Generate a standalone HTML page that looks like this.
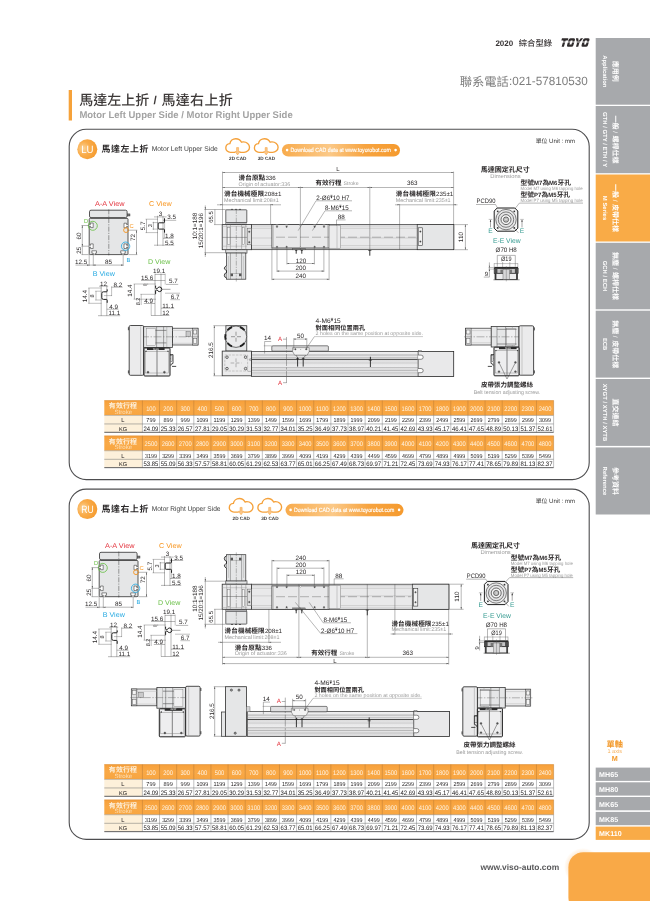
<!DOCTYPE html><html><head><meta charset="utf-8"><title>MK110</title><style>html,body{margin:0;padding:0;background:#fff;overflow:hidden}svg{display:block;font-family:"Liberation Sans","Noto Sans CJK TC",sans-serif;will-change:transform}text{white-space:pre;text-rendering:geometricPrecision}</style></head><body><svg width="650" height="901" viewBox="0 0 650 901"><rect width="650" height="901" fill="#fff"/><text x="495.4" y="45.8" font-size="8" fill="#3a3637" font-weight="bold">2020</text>
<text x="518.8" y="46" font-size="8.3" fill="#3a3637" font-weight="500">綜合型錄</text>
<g transform="translate(562.0 38.3) skewX(-16) scale(1.03 1)" fill="#2f2b2c"><path d="M0 0h6.2v2.3h-2v6.1h-2.2v-6.1h-2z"/><path fill-rule="evenodd" d="M8.3 0h3.2a1.5 1.5 0 0 1 1.5 1.5v5.4a1.5 1.5 0 0 1-1.5 1.5h-3.2a1.5 1.5 0 0 1-1.5-1.5v-5.4a1.5 1.5 0 0 1 1.5-1.5zM9 2.1v4.2h1.9v-4.2z"/><path d="M13.5 0h2.3l1.2 3 1.2-3h2.3l-2.4 5v3.4h-2.2v-3.4z"/><path fill-rule="evenodd" d="M22.4 0h3.2a1.5 1.5 0 0 1 1.5 1.5v5.4a1.5 1.5 0 0 1-1.5 1.5h-3.2a1.5 1.5 0 0 1-1.5-1.5v-5.4a1.5 1.5 0 0 1 1.5-1.5zM23.1 2.1v4.2h1.9v-4.2z"/></g>
<line x1="559" y1="42" x2="592" y2="42" stroke="#fff" stroke-width="0.85"/>
<text x="459.7" y="85.6" font-size="12.3" fill="#7d7d7d">聯系電話</text>
<text x="509.1" y="85.4" font-size="12" fill="#7d7d7d" textLength="78.6" lengthAdjust="spacingAndGlyphs">:021-57810530</text>
<rect x="68.7" y="90" width="3.3" height="30.5" fill="#f6a23a"/>
<text x="79.3" y="104.8" font-size="14" fill="#3e3a39" font-weight="500">馬達左上折</text>
<text x="155.1" y="104" font-size="11.5" fill="#3e3a39" font-weight="bold" text-anchor="middle">/</text>
<text x="161.5" y="104.8" font-size="14" fill="#3e3a39" font-weight="500" letter-spacing="0.3">馬達右上折</text>
<text x="79.4" y="117.7" font-size="9.7" fill="#a3a3a3" font-weight="bold" textLength="213.3" lengthAdjust="spacingAndGlyphs">Motor Left Upper Side / Motor Right Upper Side</text>
<rect x="595.7" y="38" width="60" height="66.7" fill="#a7a9ac"/>
<text x="612.9" y="60.85" font-size="7" fill="#fff" font-weight="bold" transform="rotate(90 612.9 60.85)">應用例</text>
<text x="602.9" y="71.35" font-size="5.9" fill="#fff" font-weight="bold" text-anchor="middle" letter-spacing="0.02" transform="rotate(90 602.9 71.35)">Application</text>
<rect x="595.7" y="106" width="60" height="67.2" fill="#a7a9ac"/>
<text x="612.9" y="115.59" font-size="7" fill="#fff" font-weight="bold" transform="rotate(90 612.9 115.59)">一般</text>
<text x="613.2" y="131.27" font-size="6.3" fill="#fff" transform="rotate(90 613.2 131.27)">/</text>
<text x="612.9" y="135.61" font-size="7" fill="#fff" font-weight="bold" transform="rotate(90 612.9 135.61)">螺桿仕樣</text>
<text x="602.9" y="139.6" font-size="5.9" fill="#fff" font-weight="bold" text-anchor="middle" letter-spacing="0.02" transform="rotate(90 602.9 139.6)">GTH / GTY / ETH / Y</text>
<rect x="595.7" y="174.5" width="60" height="67" fill="#f9ab47"/>
<text x="612.9" y="183.99" font-size="7" fill="#fff" font-weight="bold" transform="rotate(90 612.9 183.99)">一般</text>
<text x="613.2" y="199.67" font-size="6.3" fill="#fff" transform="rotate(90 613.2 199.67)">/</text>
<text x="612.9" y="204.01" font-size="7" fill="#fff" font-weight="bold" transform="rotate(90 612.9 204.01)">皮帶仕樣</text>
<text x="602.9" y="208" font-size="5.9" fill="#fff" font-weight="bold" text-anchor="middle" letter-spacing="0.02" transform="rotate(90 602.9 208)">M Series</text>
<rect x="595.7" y="242.8" width="60" height="66.5" fill="#a7a9ac"/>
<text x="612.9" y="252.04" font-size="7" fill="#fff" font-weight="bold" transform="rotate(90 612.9 252.04)">無塵</text>
<text x="613.2" y="267.72" font-size="6.3" fill="#fff" transform="rotate(90 613.2 267.72)">/</text>
<text x="612.9" y="272.06" font-size="7" fill="#fff" font-weight="bold" transform="rotate(90 612.9 272.06)">螺桿仕樣</text>
<text x="602.9" y="276.05" font-size="5.9" fill="#fff" font-weight="bold" text-anchor="middle" letter-spacing="0.02" transform="rotate(90 602.9 276.05)">GCH / ECH</text>
<rect x="595.7" y="310.7" width="60" height="66.9" fill="#a7a9ac"/>
<text x="612.9" y="320.14" font-size="7" fill="#fff" font-weight="bold" transform="rotate(90 612.9 320.14)">無塵</text>
<text x="613.2" y="335.82" font-size="6.3" fill="#fff" transform="rotate(90 613.2 335.82)">/</text>
<text x="612.9" y="340.16" font-size="7" fill="#fff" font-weight="bold" transform="rotate(90 612.9 340.16)">皮帶仕樣</text>
<text x="602.9" y="344.15" font-size="5.9" fill="#fff" font-weight="bold" text-anchor="middle" letter-spacing="0.02" transform="rotate(90 602.9 344.15)">ECB</text>
<rect x="595.7" y="379" width="60" height="66.9" fill="#a7a9ac"/>
<text x="612.9" y="398.45" font-size="7" fill="#fff" font-weight="bold" transform="rotate(90 612.9 398.45)">直交連結</text>
<text x="602.9" y="412.45" font-size="5.9" fill="#fff" font-weight="bold" text-anchor="middle" letter-spacing="0.02" transform="rotate(90 602.9 412.45)">XYGT / XYTH / XYTB</text>
<rect x="595.7" y="447.4" width="60" height="67.1" fill="#a7a9ac"/>
<text x="612.9" y="466.95" font-size="7" fill="#fff" font-weight="bold" transform="rotate(90 612.9 466.95)">參考資料</text>
<text x="602.9" y="480.95" font-size="5.9" fill="#fff" font-weight="bold" text-anchor="middle" letter-spacing="0.02" transform="rotate(90 602.9 480.95)">Reference</text>
<text x="606.5" y="747.3" font-size="8.2" fill="#f39a2c" font-weight="bold">單軸</text>
<text x="614.7" y="753.4" font-size="5.6" fill="#f5b15e" text-anchor="middle">1 axis</text>
<text x="614.7" y="761.4" font-size="7.2" fill="#f39a2c" font-weight="bold" text-anchor="middle">M</text>
<rect x="595.7" y="767.6" width="60" height="13.3" fill="#a7a9ac"/>
<text x="599" y="777.2" font-size="7.1" fill="#fff" font-weight="bold" letter-spacing="0.05">MH65</text>
<rect x="595.7" y="782.3" width="60" height="13.3" fill="#a7a9ac"/>
<text x="599" y="791.9" font-size="7.1" fill="#fff" font-weight="bold" letter-spacing="0.05">MH80</text>
<rect x="595.7" y="797" width="60" height="13.3" fill="#a7a9ac"/>
<text x="599" y="806.6" font-size="7.1" fill="#fff" font-weight="bold" letter-spacing="0.05">MK65</text>
<rect x="595.7" y="811.9" width="60" height="13.3" fill="#a7a9ac"/>
<text x="599" y="821.5" font-size="7.1" fill="#fff" font-weight="bold" letter-spacing="0.05">MK85</text>
<rect x="595.7" y="826.6" width="60" height="13.3" fill="#f9ab47"/>
<text x="599" y="836.2" font-size="7.1" fill="#fff" font-weight="bold" letter-spacing="0.05">MK110</text>
<defs><radialGradient id="glow" cx="0.5" cy="0.5" r="0.5"><stop offset="0.55" stop-color="#fbc07a" stop-opacity="0.55"/><stop offset="1" stop-color="#fbc07a" stop-opacity="0"/></radialGradient></defs>
<circle cx="583" cy="867" r="19" fill="url(#glow)"/>
<rect x="568.4" y="852.2" width="100" height="60" fill="#f9a947" rx="15"/>
<text x="480.4" y="870" font-size="8.4" fill="#58585a" font-weight="bold" textLength="78.8" lengthAdjust="spacingAndGlyphs">www.viso-auto.com</text>
<rect x="69.2" y="129.3" width="520" height="350.3" fill="#fff" stroke="#4d4d4f" stroke-width="1.1" rx="17"/>
<defs><radialGradient id="bgLU" cx="0.3" cy="0.45" r="0.75"><stop offset="0" stop-color="#fcd49a"/><stop offset="0.45" stop-color="#f9ac4a"/><stop offset="1" stop-color="#f5992b"/></radialGradient></defs>
<circle cx="87.3" cy="149.3" r="10" fill="url(#bgLU)"/>
<text x="87.4" y="153.2" font-size="10.6" fill="#fff" text-anchor="middle" textLength="12.4" lengthAdjust="spacingAndGlyphs">LU</text>
<text x="101.5" y="152" font-size="8.9" fill="#2b2829" font-weight="bold" letter-spacing="0.62">馬達左上折</text>
<text x="151.7" y="150.7" font-size="6.9" fill="#3a3a3a" textLength="66" lengthAdjust="spacingAndGlyphs">Motor Left Upper Side</text>
<g transform="translate(225 138)" fill="none" stroke="#f5a13a" stroke-width="1.35" stroke-linecap="round" stroke-linejoin="round">
<path d="M9.8 14.3H5.4C2.9 14.3 0.8 12.4 0.8 9.9 0.8 7.6 2.6 5.8 4.9 5.6 5.3 2.8 7.8 0.7 10.8 0.7 13.3 0.7 15.5 2.1 16.5 4.2 17.1 4 17.8 3.9 18.4 3.9 21.7 3.9 24.5 6.2 24.5 9.2 24.5 12.1 22 14.3 19 14.3H15.4"/>
</g>
<path transform="translate(225 138)" d="M11.6 9.6h2v3.9h1.6l-2.6 3.4-2.6-3.4h1.6z" fill="#fbc78a" stroke="#f5a13a" stroke-width="0.55" stroke-linejoin="round"/>
<g transform="translate(253.6 138)" fill="none" stroke="#f5a13a" stroke-width="1.35" stroke-linecap="round" stroke-linejoin="round">
<path d="M9.8 14.3H5.4C2.9 14.3 0.8 12.4 0.8 9.9 0.8 7.6 2.6 5.8 4.9 5.6 5.3 2.8 7.8 0.7 10.8 0.7 13.3 0.7 15.5 2.1 16.5 4.2 17.1 4 17.8 3.9 18.4 3.9 21.7 3.9 24.5 6.2 24.5 9.2 24.5 12.1 22 14.3 19 14.3H15.4"/>
</g>
<path transform="translate(253.6 138)" d="M11.6 9.6h2v3.9h1.6l-2.6 3.4-2.6-3.4h1.6z" fill="#fbc78a" stroke="#f5a13a" stroke-width="0.55" stroke-linejoin="round"/>
<text x="237.8" y="160.3" font-size="4.8" fill="#3a3a3a" font-weight="bold" text-anchor="middle" textLength="17.4" lengthAdjust="spacingAndGlyphs">2D CAD</text>
<text x="266.4" y="160.3" font-size="4.8" fill="#3a3a3a" font-weight="bold" text-anchor="middle" textLength="17.4" lengthAdjust="spacingAndGlyphs">3D CAD</text>
<defs><linearGradient id="plLU" x1="0" x2="1" y1="0" y2="0"><stop offset="0" stop-color="#f8ab4c"/><stop offset="0.4" stop-color="#fbc988"/><stop offset="0.7" stop-color="#f7a440"/><stop offset="1" stop-color="#f59a2e"/></linearGradient></defs>
<rect x="282" y="144" width="118" height="12.5" fill="url(#plLU)" rx="6.25"/>
<circle cx="287.1" cy="150.1" r="1.3" fill="#fff"/>
<circle cx="395.6" cy="150.1" r="1.3" fill="#fff"/>
<text x="290.5" y="152.4" font-size="6.1" fill="#fff" textLength="100.4" lengthAdjust="spacingAndGlyphs" stroke="#fff" stroke-width="0.15">Download CAD data at www.toyorobot.com</text>
<text x="535.7" y="142.8" font-size="5.9" fill="#3a3a3a">單位</text>
<text x="549.1" y="142.8" font-size="6.1" fill="#3a3a3a">Unit : mm</text>
<rect x="69.2" y="489.1" width="520" height="350.3" fill="#fff" stroke="#4d4d4f" stroke-width="1.1" rx="17"/>
<defs><radialGradient id="bgRU" cx="0.3" cy="0.45" r="0.75"><stop offset="0" stop-color="#fcd49a"/><stop offset="0.45" stop-color="#f9ac4a"/><stop offset="1" stop-color="#f5992b"/></radialGradient></defs>
<circle cx="87.3" cy="509.1" r="10" fill="url(#bgRU)"/>
<text x="87.4" y="513" font-size="10.6" fill="#fff" text-anchor="middle" textLength="12.4" lengthAdjust="spacingAndGlyphs">RU</text>
<text x="101.5" y="511.8" font-size="8.9" fill="#2b2829" font-weight="bold" letter-spacing="0.62">馬達右上折</text>
<text x="151.7" y="510.5" font-size="6.9" fill="#3a3a3a" textLength="68.8" lengthAdjust="spacingAndGlyphs">Motor Right Upper Side</text>
<g transform="translate(228.5 497.8)" fill="none" stroke="#f5a13a" stroke-width="1.35" stroke-linecap="round" stroke-linejoin="round">
<path d="M9.8 14.3H5.4C2.9 14.3 0.8 12.4 0.8 9.9 0.8 7.6 2.6 5.8 4.9 5.6 5.3 2.8 7.8 0.7 10.8 0.7 13.3 0.7 15.5 2.1 16.5 4.2 17.1 4 17.8 3.9 18.4 3.9 21.7 3.9 24.5 6.2 24.5 9.2 24.5 12.1 22 14.3 19 14.3H15.4"/>
</g>
<path transform="translate(228.5 497.8)" d="M11.6 9.6h2v3.9h1.6l-2.6 3.4-2.6-3.4h1.6z" fill="#fbc78a" stroke="#f5a13a" stroke-width="0.55" stroke-linejoin="round"/>
<g transform="translate(257.1 497.8)" fill="none" stroke="#f5a13a" stroke-width="1.35" stroke-linecap="round" stroke-linejoin="round">
<path d="M9.8 14.3H5.4C2.9 14.3 0.8 12.4 0.8 9.9 0.8 7.6 2.6 5.8 4.9 5.6 5.3 2.8 7.8 0.7 10.8 0.7 13.3 0.7 15.5 2.1 16.5 4.2 17.1 4 17.8 3.9 18.4 3.9 21.7 3.9 24.5 6.2 24.5 9.2 24.5 12.1 22 14.3 19 14.3H15.4"/>
</g>
<path transform="translate(257.1 497.8)" d="M11.6 9.6h2v3.9h1.6l-2.6 3.4-2.6-3.4h1.6z" fill="#fbc78a" stroke="#f5a13a" stroke-width="0.55" stroke-linejoin="round"/>
<text x="241.3" y="520.1" font-size="4.8" fill="#3a3a3a" font-weight="bold" text-anchor="middle" textLength="17.4" lengthAdjust="spacingAndGlyphs">2D CAD</text>
<text x="269.9" y="520.1" font-size="4.8" fill="#3a3a3a" font-weight="bold" text-anchor="middle" textLength="17.4" lengthAdjust="spacingAndGlyphs">3D CAD</text>
<defs><linearGradient id="plRU" x1="0" x2="1" y1="0" y2="0"><stop offset="0" stop-color="#f8ab4c"/><stop offset="0.4" stop-color="#fbc988"/><stop offset="0.7" stop-color="#f7a440"/><stop offset="1" stop-color="#f59a2e"/></linearGradient></defs>
<rect x="285.5" y="503.8" width="118" height="12.5" fill="url(#plRU)" rx="6.25"/>
<circle cx="290.6" cy="509.9" r="1.3" fill="#fff"/>
<circle cx="399.1" cy="509.9" r="1.3" fill="#fff"/>
<text x="294" y="512.2" font-size="6.1" fill="#fff" textLength="100.4" lengthAdjust="spacingAndGlyphs" stroke="#fff" stroke-width="0.15">Download CAD data at www.toyorobot.com</text>
<text x="535.7" y="502.6" font-size="5.9" fill="#3a3a3a">單位</text>
<text x="549.1" y="502.6" font-size="6.1" fill="#3a3a3a">Unit : mm</text>
<defs><linearGradient id="tg400" x1="0" x2="0" y1="0" y2="1"><stop offset="0" stop-color="#f7a03a"/><stop offset="0.5" stop-color="#f9a947"/><stop offset="1" stop-color="#f8a540"/></linearGradient></defs>
<rect x="104.3" y="400.4" width="449.3" height="15" fill="url(#tg400)"/>
<rect x="104.3" y="415.4" width="38.1" height="16.9" fill="#fdf0da"/>
<text x="108.87" y="408.2" font-size="7" fill="#fdf0dc" font-weight="bold" letter-spacing="0.05">有效行程</text>
<text x="123.35" y="413.8" font-size="6" fill="#fde0b8" text-anchor="middle" textLength="17.6" lengthAdjust="spacingAndGlyphs">Stroke</text>
<text x="122.95" y="422.2" font-size="5.8" fill="#1f1c1d" text-anchor="middle">L</text>
<text x="123.15" y="430.65" font-size="5.6" fill="#1f1c1d" text-anchor="middle">KG</text>
<text x="150.97" y="410.9" font-size="6.7" fill="#fff3e2" text-anchor="middle" textLength="9.6" lengthAdjust="spacingAndGlyphs">100</text>
<text x="150.97" y="422.2" font-size="5.9" fill="#1f1c1d" text-anchor="middle" textLength="9.3" lengthAdjust="spacingAndGlyphs">799</text>
<text x="150.97" y="430.8" font-size="6.4" fill="#1f1c1d" text-anchor="middle" textLength="14.9" lengthAdjust="spacingAndGlyphs">24.09</text>
<text x="168.1" y="410.9" font-size="6.7" fill="#fff3e2" text-anchor="middle" textLength="9.6" lengthAdjust="spacingAndGlyphs">200</text>
<text x="168.1" y="422.2" font-size="5.9" fill="#1f1c1d" text-anchor="middle" textLength="9.3" lengthAdjust="spacingAndGlyphs">899</text>
<text x="168.1" y="430.8" font-size="6.4" fill="#1f1c1d" text-anchor="middle" textLength="14.9" lengthAdjust="spacingAndGlyphs">25.33</text>
<text x="185.23" y="410.9" font-size="6.7" fill="#fff3e2" text-anchor="middle" textLength="9.6" lengthAdjust="spacingAndGlyphs">300</text>
<text x="185.23" y="422.2" font-size="5.9" fill="#1f1c1d" text-anchor="middle" textLength="9.3" lengthAdjust="spacingAndGlyphs">999</text>
<text x="185.23" y="430.8" font-size="6.4" fill="#1f1c1d" text-anchor="middle" textLength="14.9" lengthAdjust="spacingAndGlyphs">26.57</text>
<text x="202.37" y="410.9" font-size="6.7" fill="#fff3e2" text-anchor="middle" textLength="9.6" lengthAdjust="spacingAndGlyphs">400</text>
<text x="202.37" y="422.2" font-size="5.9" fill="#1f1c1d" text-anchor="middle" textLength="11.9" lengthAdjust="spacingAndGlyphs">1099</text>
<text x="202.37" y="430.8" font-size="6.4" fill="#1f1c1d" text-anchor="middle" textLength="14.9" lengthAdjust="spacingAndGlyphs">27.81</text>
<text x="219.5" y="410.9" font-size="6.7" fill="#fff3e2" text-anchor="middle" textLength="9.6" lengthAdjust="spacingAndGlyphs">500</text>
<text x="219.5" y="422.2" font-size="5.9" fill="#1f1c1d" text-anchor="middle" textLength="11.9" lengthAdjust="spacingAndGlyphs">1199</text>
<text x="219.5" y="430.8" font-size="6.4" fill="#1f1c1d" text-anchor="middle" textLength="14.9" lengthAdjust="spacingAndGlyphs">29.05</text>
<text x="236.63" y="410.9" font-size="6.7" fill="#fff3e2" text-anchor="middle" textLength="9.6" lengthAdjust="spacingAndGlyphs">600</text>
<text x="236.63" y="422.2" font-size="5.9" fill="#1f1c1d" text-anchor="middle" textLength="11.9" lengthAdjust="spacingAndGlyphs">1299</text>
<text x="236.63" y="430.8" font-size="6.4" fill="#1f1c1d" text-anchor="middle" textLength="14.9" lengthAdjust="spacingAndGlyphs">30.29</text>
<text x="253.77" y="410.9" font-size="6.7" fill="#fff3e2" text-anchor="middle" textLength="9.6" lengthAdjust="spacingAndGlyphs">700</text>
<text x="253.77" y="422.2" font-size="5.9" fill="#1f1c1d" text-anchor="middle" textLength="11.9" lengthAdjust="spacingAndGlyphs">1399</text>
<text x="253.77" y="430.8" font-size="6.4" fill="#1f1c1d" text-anchor="middle" textLength="14.9" lengthAdjust="spacingAndGlyphs">31.53</text>
<text x="270.9" y="410.9" font-size="6.7" fill="#fff3e2" text-anchor="middle" textLength="9.6" lengthAdjust="spacingAndGlyphs">800</text>
<text x="270.9" y="422.2" font-size="5.9" fill="#1f1c1d" text-anchor="middle" textLength="11.9" lengthAdjust="spacingAndGlyphs">1499</text>
<text x="270.9" y="430.8" font-size="6.4" fill="#1f1c1d" text-anchor="middle" textLength="14.9" lengthAdjust="spacingAndGlyphs">32.77</text>
<text x="288.03" y="410.9" font-size="6.7" fill="#fff3e2" text-anchor="middle" textLength="9.6" lengthAdjust="spacingAndGlyphs">900</text>
<text x="288.03" y="422.2" font-size="5.9" fill="#1f1c1d" text-anchor="middle" textLength="11.9" lengthAdjust="spacingAndGlyphs">1599</text>
<text x="288.03" y="430.8" font-size="6.4" fill="#1f1c1d" text-anchor="middle" textLength="14.9" lengthAdjust="spacingAndGlyphs">34.01</text>
<text x="305.17" y="410.9" font-size="6.7" fill="#fff3e2" text-anchor="middle" textLength="12.8" lengthAdjust="spacingAndGlyphs">1000</text>
<text x="305.17" y="422.2" font-size="5.9" fill="#1f1c1d" text-anchor="middle" textLength="11.9" lengthAdjust="spacingAndGlyphs">1699</text>
<text x="305.17" y="430.8" font-size="6.4" fill="#1f1c1d" text-anchor="middle" textLength="14.9" lengthAdjust="spacingAndGlyphs">35.25</text>
<text x="322.3" y="410.9" font-size="6.7" fill="#fff3e2" text-anchor="middle" textLength="12.8" lengthAdjust="spacingAndGlyphs">1100</text>
<text x="322.3" y="422.2" font-size="5.9" fill="#1f1c1d" text-anchor="middle" textLength="11.9" lengthAdjust="spacingAndGlyphs">1799</text>
<text x="322.3" y="430.8" font-size="6.4" fill="#1f1c1d" text-anchor="middle" textLength="14.9" lengthAdjust="spacingAndGlyphs">36.49</text>
<text x="339.43" y="410.9" font-size="6.7" fill="#fff3e2" text-anchor="middle" textLength="12.8" lengthAdjust="spacingAndGlyphs">1200</text>
<text x="339.43" y="422.2" font-size="5.9" fill="#1f1c1d" text-anchor="middle" textLength="11.9" lengthAdjust="spacingAndGlyphs">1899</text>
<text x="339.43" y="430.8" font-size="6.4" fill="#1f1c1d" text-anchor="middle" textLength="14.9" lengthAdjust="spacingAndGlyphs">37.73</text>
<text x="356.57" y="410.9" font-size="6.7" fill="#fff3e2" text-anchor="middle" textLength="12.8" lengthAdjust="spacingAndGlyphs">1300</text>
<text x="356.57" y="422.2" font-size="5.9" fill="#1f1c1d" text-anchor="middle" textLength="11.9" lengthAdjust="spacingAndGlyphs">1999</text>
<text x="356.57" y="430.8" font-size="6.4" fill="#1f1c1d" text-anchor="middle" textLength="14.9" lengthAdjust="spacingAndGlyphs">38.97</text>
<text x="373.7" y="410.9" font-size="6.7" fill="#fff3e2" text-anchor="middle" textLength="12.8" lengthAdjust="spacingAndGlyphs">1400</text>
<text x="373.7" y="422.2" font-size="5.9" fill="#1f1c1d" text-anchor="middle" textLength="11.9" lengthAdjust="spacingAndGlyphs">2099</text>
<text x="373.7" y="430.8" font-size="6.4" fill="#1f1c1d" text-anchor="middle" textLength="14.9" lengthAdjust="spacingAndGlyphs">40.21</text>
<text x="390.83" y="410.9" font-size="6.7" fill="#fff3e2" text-anchor="middle" textLength="12.8" lengthAdjust="spacingAndGlyphs">1500</text>
<text x="390.83" y="422.2" font-size="5.9" fill="#1f1c1d" text-anchor="middle" textLength="11.9" lengthAdjust="spacingAndGlyphs">2199</text>
<text x="390.83" y="430.8" font-size="6.4" fill="#1f1c1d" text-anchor="middle" textLength="14.9" lengthAdjust="spacingAndGlyphs">41.45</text>
<text x="407.97" y="410.9" font-size="6.7" fill="#fff3e2" text-anchor="middle" textLength="12.8" lengthAdjust="spacingAndGlyphs">1600</text>
<text x="407.97" y="422.2" font-size="5.9" fill="#1f1c1d" text-anchor="middle" textLength="11.9" lengthAdjust="spacingAndGlyphs">2299</text>
<text x="407.97" y="430.8" font-size="6.4" fill="#1f1c1d" text-anchor="middle" textLength="14.9" lengthAdjust="spacingAndGlyphs">42.69</text>
<text x="425.1" y="410.9" font-size="6.7" fill="#fff3e2" text-anchor="middle" textLength="12.8" lengthAdjust="spacingAndGlyphs">1700</text>
<text x="425.1" y="422.2" font-size="5.9" fill="#1f1c1d" text-anchor="middle" textLength="11.9" lengthAdjust="spacingAndGlyphs">2399</text>
<text x="425.1" y="430.8" font-size="6.4" fill="#1f1c1d" text-anchor="middle" textLength="14.9" lengthAdjust="spacingAndGlyphs">43.93</text>
<text x="442.23" y="410.9" font-size="6.7" fill="#fff3e2" text-anchor="middle" textLength="12.8" lengthAdjust="spacingAndGlyphs">1800</text>
<text x="442.23" y="422.2" font-size="5.9" fill="#1f1c1d" text-anchor="middle" textLength="11.9" lengthAdjust="spacingAndGlyphs">2499</text>
<text x="442.23" y="430.8" font-size="6.4" fill="#1f1c1d" text-anchor="middle" textLength="14.9" lengthAdjust="spacingAndGlyphs">45.17</text>
<text x="459.37" y="410.9" font-size="6.7" fill="#fff3e2" text-anchor="middle" textLength="12.8" lengthAdjust="spacingAndGlyphs">1900</text>
<text x="459.37" y="422.2" font-size="5.9" fill="#1f1c1d" text-anchor="middle" textLength="11.9" lengthAdjust="spacingAndGlyphs">2599</text>
<text x="459.37" y="430.8" font-size="6.4" fill="#1f1c1d" text-anchor="middle" textLength="14.9" lengthAdjust="spacingAndGlyphs">46.41</text>
<text x="476.5" y="410.9" font-size="6.7" fill="#fff3e2" text-anchor="middle" textLength="12.8" lengthAdjust="spacingAndGlyphs">2000</text>
<text x="476.5" y="422.2" font-size="5.9" fill="#1f1c1d" text-anchor="middle" textLength="11.9" lengthAdjust="spacingAndGlyphs">2699</text>
<text x="476.5" y="430.8" font-size="6.4" fill="#1f1c1d" text-anchor="middle" textLength="14.9" lengthAdjust="spacingAndGlyphs">47.65</text>
<text x="493.63" y="410.9" font-size="6.7" fill="#fff3e2" text-anchor="middle" textLength="12.8" lengthAdjust="spacingAndGlyphs">2100</text>
<text x="493.63" y="422.2" font-size="5.9" fill="#1f1c1d" text-anchor="middle" textLength="11.9" lengthAdjust="spacingAndGlyphs">2799</text>
<text x="493.63" y="430.8" font-size="6.4" fill="#1f1c1d" text-anchor="middle" textLength="14.9" lengthAdjust="spacingAndGlyphs">48.89</text>
<text x="510.77" y="410.9" font-size="6.7" fill="#fff3e2" text-anchor="middle" textLength="12.8" lengthAdjust="spacingAndGlyphs">2200</text>
<text x="510.77" y="422.2" font-size="5.9" fill="#1f1c1d" text-anchor="middle" textLength="11.9" lengthAdjust="spacingAndGlyphs">2899</text>
<text x="510.77" y="430.8" font-size="6.4" fill="#1f1c1d" text-anchor="middle" textLength="14.9" lengthAdjust="spacingAndGlyphs">50.13</text>
<text x="527.9" y="410.9" font-size="6.7" fill="#fff3e2" text-anchor="middle" textLength="12.8" lengthAdjust="spacingAndGlyphs">2300</text>
<text x="527.9" y="422.2" font-size="5.9" fill="#1f1c1d" text-anchor="middle" textLength="11.9" lengthAdjust="spacingAndGlyphs">2999</text>
<text x="527.9" y="430.8" font-size="6.4" fill="#1f1c1d" text-anchor="middle" textLength="14.9" lengthAdjust="spacingAndGlyphs">51.37</text>
<text x="545.03" y="410.9" font-size="6.7" fill="#fff3e2" text-anchor="middle" textLength="12.8" lengthAdjust="spacingAndGlyphs">2400</text>
<text x="545.03" y="422.2" font-size="5.9" fill="#1f1c1d" text-anchor="middle" textLength="11.9" lengthAdjust="spacingAndGlyphs">3099</text>
<text x="545.03" y="430.8" font-size="6.4" fill="#1f1c1d" text-anchor="middle" textLength="14.9" lengthAdjust="spacingAndGlyphs">52.61</text>
<line x1="142.4" y1="400.4" x2="142.4" y2="415.4" stroke="#b97a35" stroke-width="0.5"/>
<line x1="142.4" y1="415.4" x2="142.4" y2="432.3" stroke="#77787a" stroke-width="0.45"/>
<line x1="159.53" y1="400.4" x2="159.53" y2="415.4" stroke="#b97a35" stroke-width="0.5"/>
<line x1="159.53" y1="415.4" x2="159.53" y2="432.3" stroke="#77787a" stroke-width="0.45"/>
<line x1="176.67" y1="400.4" x2="176.67" y2="415.4" stroke="#b97a35" stroke-width="0.5"/>
<line x1="176.67" y1="415.4" x2="176.67" y2="432.3" stroke="#77787a" stroke-width="0.45"/>
<line x1="193.8" y1="400.4" x2="193.8" y2="415.4" stroke="#b97a35" stroke-width="0.5"/>
<line x1="193.8" y1="415.4" x2="193.8" y2="432.3" stroke="#77787a" stroke-width="0.45"/>
<line x1="210.93" y1="400.4" x2="210.93" y2="415.4" stroke="#b97a35" stroke-width="0.5"/>
<line x1="210.93" y1="415.4" x2="210.93" y2="432.3" stroke="#77787a" stroke-width="0.45"/>
<line x1="228.07" y1="400.4" x2="228.07" y2="415.4" stroke="#b97a35" stroke-width="0.5"/>
<line x1="228.07" y1="415.4" x2="228.07" y2="432.3" stroke="#77787a" stroke-width="0.45"/>
<line x1="245.2" y1="400.4" x2="245.2" y2="415.4" stroke="#b97a35" stroke-width="0.5"/>
<line x1="245.2" y1="415.4" x2="245.2" y2="432.3" stroke="#77787a" stroke-width="0.45"/>
<line x1="262.33" y1="400.4" x2="262.33" y2="415.4" stroke="#b97a35" stroke-width="0.5"/>
<line x1="262.33" y1="415.4" x2="262.33" y2="432.3" stroke="#77787a" stroke-width="0.45"/>
<line x1="279.47" y1="400.4" x2="279.47" y2="415.4" stroke="#b97a35" stroke-width="0.5"/>
<line x1="279.47" y1="415.4" x2="279.47" y2="432.3" stroke="#77787a" stroke-width="0.45"/>
<line x1="296.6" y1="400.4" x2="296.6" y2="415.4" stroke="#b97a35" stroke-width="0.5"/>
<line x1="296.6" y1="415.4" x2="296.6" y2="432.3" stroke="#77787a" stroke-width="0.45"/>
<line x1="313.73" y1="400.4" x2="313.73" y2="415.4" stroke="#b97a35" stroke-width="0.5"/>
<line x1="313.73" y1="415.4" x2="313.73" y2="432.3" stroke="#77787a" stroke-width="0.45"/>
<line x1="330.87" y1="400.4" x2="330.87" y2="415.4" stroke="#b97a35" stroke-width="0.5"/>
<line x1="330.87" y1="415.4" x2="330.87" y2="432.3" stroke="#77787a" stroke-width="0.45"/>
<line x1="348" y1="400.4" x2="348" y2="415.4" stroke="#b97a35" stroke-width="0.5"/>
<line x1="348" y1="415.4" x2="348" y2="432.3" stroke="#77787a" stroke-width="0.45"/>
<line x1="365.13" y1="400.4" x2="365.13" y2="415.4" stroke="#b97a35" stroke-width="0.5"/>
<line x1="365.13" y1="415.4" x2="365.13" y2="432.3" stroke="#77787a" stroke-width="0.45"/>
<line x1="382.27" y1="400.4" x2="382.27" y2="415.4" stroke="#b97a35" stroke-width="0.5"/>
<line x1="382.27" y1="415.4" x2="382.27" y2="432.3" stroke="#77787a" stroke-width="0.45"/>
<line x1="399.4" y1="400.4" x2="399.4" y2="415.4" stroke="#b97a35" stroke-width="0.5"/>
<line x1="399.4" y1="415.4" x2="399.4" y2="432.3" stroke="#77787a" stroke-width="0.45"/>
<line x1="416.53" y1="400.4" x2="416.53" y2="415.4" stroke="#b97a35" stroke-width="0.5"/>
<line x1="416.53" y1="415.4" x2="416.53" y2="432.3" stroke="#77787a" stroke-width="0.45"/>
<line x1="433.67" y1="400.4" x2="433.67" y2="415.4" stroke="#b97a35" stroke-width="0.5"/>
<line x1="433.67" y1="415.4" x2="433.67" y2="432.3" stroke="#77787a" stroke-width="0.45"/>
<line x1="450.8" y1="400.4" x2="450.8" y2="415.4" stroke="#b97a35" stroke-width="0.5"/>
<line x1="450.8" y1="415.4" x2="450.8" y2="432.3" stroke="#77787a" stroke-width="0.45"/>
<line x1="467.93" y1="400.4" x2="467.93" y2="415.4" stroke="#b97a35" stroke-width="0.5"/>
<line x1="467.93" y1="415.4" x2="467.93" y2="432.3" stroke="#77787a" stroke-width="0.45"/>
<line x1="485.07" y1="400.4" x2="485.07" y2="415.4" stroke="#b97a35" stroke-width="0.5"/>
<line x1="485.07" y1="415.4" x2="485.07" y2="432.3" stroke="#77787a" stroke-width="0.45"/>
<line x1="502.2" y1="400.4" x2="502.2" y2="415.4" stroke="#b97a35" stroke-width="0.5"/>
<line x1="502.2" y1="415.4" x2="502.2" y2="432.3" stroke="#77787a" stroke-width="0.45"/>
<line x1="519.33" y1="400.4" x2="519.33" y2="415.4" stroke="#b97a35" stroke-width="0.5"/>
<line x1="519.33" y1="415.4" x2="519.33" y2="432.3" stroke="#77787a" stroke-width="0.45"/>
<line x1="536.47" y1="400.4" x2="536.47" y2="415.4" stroke="#b97a35" stroke-width="0.5"/>
<line x1="536.47" y1="415.4" x2="536.47" y2="432.3" stroke="#77787a" stroke-width="0.45"/>
<line x1="553.6" y1="400.4" x2="553.6" y2="415.4" stroke="#b97a35" stroke-width="0.5"/>
<line x1="553.6" y1="415.4" x2="553.6" y2="432.3" stroke="#77787a" stroke-width="0.45"/>
<line x1="104.3" y1="415.4" x2="553.6" y2="415.4" stroke="#8a8a8c" stroke-width="0.5"/>
<line x1="104.3" y1="423.95" x2="553.6" y2="423.95" stroke="#6d6e70" stroke-width="0.5"/>
<line x1="104.3" y1="432.3" x2="553.6" y2="432.3" stroke="#4d4d4f" stroke-width="0.9"/>
<line x1="104.3" y1="400.6" x2="553.6" y2="400.6" stroke="#d98a35" stroke-width="0.5"/>
<defs><linearGradient id="tg435" x1="0" x2="0" y1="0" y2="1"><stop offset="0" stop-color="#f7a03a"/><stop offset="0.5" stop-color="#f9a947"/><stop offset="1" stop-color="#f8a540"/></linearGradient></defs>
<rect x="104.3" y="435.75" width="449.3" height="15" fill="url(#tg435)"/>
<rect x="104.3" y="450.75" width="38.1" height="16.9" fill="#fdf0da"/>
<text x="108.87" y="443.55" font-size="7" fill="#fdf0dc" font-weight="bold" letter-spacing="0.05">有效行程</text>
<text x="123.35" y="449.15" font-size="6" fill="#fde0b8" text-anchor="middle" textLength="17.6" lengthAdjust="spacingAndGlyphs">Stroke</text>
<text x="122.95" y="457.55" font-size="5.8" fill="#1f1c1d" text-anchor="middle">L</text>
<text x="123.15" y="466" font-size="5.6" fill="#1f1c1d" text-anchor="middle">KG</text>
<text x="150.97" y="446.25" font-size="6.7" fill="#fff3e2" text-anchor="middle" textLength="12.8" lengthAdjust="spacingAndGlyphs">2500</text>
<text x="150.97" y="457.55" font-size="5.9" fill="#1f1c1d" text-anchor="middle" textLength="11.9" lengthAdjust="spacingAndGlyphs">3199</text>
<text x="150.97" y="466.15" font-size="6.4" fill="#1f1c1d" text-anchor="middle" textLength="14.9" lengthAdjust="spacingAndGlyphs">53.85</text>
<text x="168.1" y="446.25" font-size="6.7" fill="#fff3e2" text-anchor="middle" textLength="12.8" lengthAdjust="spacingAndGlyphs">2600</text>
<text x="168.1" y="457.55" font-size="5.9" fill="#1f1c1d" text-anchor="middle" textLength="11.9" lengthAdjust="spacingAndGlyphs">3299</text>
<text x="168.1" y="466.15" font-size="6.4" fill="#1f1c1d" text-anchor="middle" textLength="14.9" lengthAdjust="spacingAndGlyphs">55.09</text>
<text x="185.23" y="446.25" font-size="6.7" fill="#fff3e2" text-anchor="middle" textLength="12.8" lengthAdjust="spacingAndGlyphs">2700</text>
<text x="185.23" y="457.55" font-size="5.9" fill="#1f1c1d" text-anchor="middle" textLength="11.9" lengthAdjust="spacingAndGlyphs">3399</text>
<text x="185.23" y="466.15" font-size="6.4" fill="#1f1c1d" text-anchor="middle" textLength="14.9" lengthAdjust="spacingAndGlyphs">56.33</text>
<text x="202.37" y="446.25" font-size="6.7" fill="#fff3e2" text-anchor="middle" textLength="12.8" lengthAdjust="spacingAndGlyphs">2800</text>
<text x="202.37" y="457.55" font-size="5.9" fill="#1f1c1d" text-anchor="middle" textLength="11.9" lengthAdjust="spacingAndGlyphs">3499</text>
<text x="202.37" y="466.15" font-size="6.4" fill="#1f1c1d" text-anchor="middle" textLength="14.9" lengthAdjust="spacingAndGlyphs">57.57</text>
<text x="219.5" y="446.25" font-size="6.7" fill="#fff3e2" text-anchor="middle" textLength="12.8" lengthAdjust="spacingAndGlyphs">2900</text>
<text x="219.5" y="457.55" font-size="5.9" fill="#1f1c1d" text-anchor="middle" textLength="11.9" lengthAdjust="spacingAndGlyphs">3599</text>
<text x="219.5" y="466.15" font-size="6.4" fill="#1f1c1d" text-anchor="middle" textLength="14.9" lengthAdjust="spacingAndGlyphs">58.81</text>
<text x="236.63" y="446.25" font-size="6.7" fill="#fff3e2" text-anchor="middle" textLength="12.8" lengthAdjust="spacingAndGlyphs">3000</text>
<text x="236.63" y="457.55" font-size="5.9" fill="#1f1c1d" text-anchor="middle" textLength="11.9" lengthAdjust="spacingAndGlyphs">3699</text>
<text x="236.63" y="466.15" font-size="6.4" fill="#1f1c1d" text-anchor="middle" textLength="14.9" lengthAdjust="spacingAndGlyphs">60.05</text>
<text x="253.77" y="446.25" font-size="6.7" fill="#fff3e2" text-anchor="middle" textLength="12.8" lengthAdjust="spacingAndGlyphs">3100</text>
<text x="253.77" y="457.55" font-size="5.9" fill="#1f1c1d" text-anchor="middle" textLength="11.9" lengthAdjust="spacingAndGlyphs">3799</text>
<text x="253.77" y="466.15" font-size="6.4" fill="#1f1c1d" text-anchor="middle" textLength="14.9" lengthAdjust="spacingAndGlyphs">61.29</text>
<text x="270.9" y="446.25" font-size="6.7" fill="#fff3e2" text-anchor="middle" textLength="12.8" lengthAdjust="spacingAndGlyphs">3200</text>
<text x="270.9" y="457.55" font-size="5.9" fill="#1f1c1d" text-anchor="middle" textLength="11.9" lengthAdjust="spacingAndGlyphs">3899</text>
<text x="270.9" y="466.15" font-size="6.4" fill="#1f1c1d" text-anchor="middle" textLength="14.9" lengthAdjust="spacingAndGlyphs">62.53</text>
<text x="288.03" y="446.25" font-size="6.7" fill="#fff3e2" text-anchor="middle" textLength="12.8" lengthAdjust="spacingAndGlyphs">3300</text>
<text x="288.03" y="457.55" font-size="5.9" fill="#1f1c1d" text-anchor="middle" textLength="11.9" lengthAdjust="spacingAndGlyphs">3999</text>
<text x="288.03" y="466.15" font-size="6.4" fill="#1f1c1d" text-anchor="middle" textLength="14.9" lengthAdjust="spacingAndGlyphs">63.77</text>
<text x="305.17" y="446.25" font-size="6.7" fill="#fff3e2" text-anchor="middle" textLength="12.8" lengthAdjust="spacingAndGlyphs">3400</text>
<text x="305.17" y="457.55" font-size="5.9" fill="#1f1c1d" text-anchor="middle" textLength="11.9" lengthAdjust="spacingAndGlyphs">4099</text>
<text x="305.17" y="466.15" font-size="6.4" fill="#1f1c1d" text-anchor="middle" textLength="14.9" lengthAdjust="spacingAndGlyphs">65.01</text>
<text x="322.3" y="446.25" font-size="6.7" fill="#fff3e2" text-anchor="middle" textLength="12.8" lengthAdjust="spacingAndGlyphs">3500</text>
<text x="322.3" y="457.55" font-size="5.9" fill="#1f1c1d" text-anchor="middle" textLength="11.9" lengthAdjust="spacingAndGlyphs">4199</text>
<text x="322.3" y="466.15" font-size="6.4" fill="#1f1c1d" text-anchor="middle" textLength="14.9" lengthAdjust="spacingAndGlyphs">66.25</text>
<text x="339.43" y="446.25" font-size="6.7" fill="#fff3e2" text-anchor="middle" textLength="12.8" lengthAdjust="spacingAndGlyphs">3600</text>
<text x="339.43" y="457.55" font-size="5.9" fill="#1f1c1d" text-anchor="middle" textLength="11.9" lengthAdjust="spacingAndGlyphs">4299</text>
<text x="339.43" y="466.15" font-size="6.4" fill="#1f1c1d" text-anchor="middle" textLength="14.9" lengthAdjust="spacingAndGlyphs">67.49</text>
<text x="356.57" y="446.25" font-size="6.7" fill="#fff3e2" text-anchor="middle" textLength="12.8" lengthAdjust="spacingAndGlyphs">3700</text>
<text x="356.57" y="457.55" font-size="5.9" fill="#1f1c1d" text-anchor="middle" textLength="11.9" lengthAdjust="spacingAndGlyphs">4399</text>
<text x="356.57" y="466.15" font-size="6.4" fill="#1f1c1d" text-anchor="middle" textLength="14.9" lengthAdjust="spacingAndGlyphs">68.73</text>
<text x="373.7" y="446.25" font-size="6.7" fill="#fff3e2" text-anchor="middle" textLength="12.8" lengthAdjust="spacingAndGlyphs">3800</text>
<text x="373.7" y="457.55" font-size="5.9" fill="#1f1c1d" text-anchor="middle" textLength="11.9" lengthAdjust="spacingAndGlyphs">4499</text>
<text x="373.7" y="466.15" font-size="6.4" fill="#1f1c1d" text-anchor="middle" textLength="14.9" lengthAdjust="spacingAndGlyphs">69.97</text>
<text x="390.83" y="446.25" font-size="6.7" fill="#fff3e2" text-anchor="middle" textLength="12.8" lengthAdjust="spacingAndGlyphs">3900</text>
<text x="390.83" y="457.55" font-size="5.9" fill="#1f1c1d" text-anchor="middle" textLength="11.9" lengthAdjust="spacingAndGlyphs">4599</text>
<text x="390.83" y="466.15" font-size="6.4" fill="#1f1c1d" text-anchor="middle" textLength="14.9" lengthAdjust="spacingAndGlyphs">71.21</text>
<text x="407.97" y="446.25" font-size="6.7" fill="#fff3e2" text-anchor="middle" textLength="12.8" lengthAdjust="spacingAndGlyphs">4000</text>
<text x="407.97" y="457.55" font-size="5.9" fill="#1f1c1d" text-anchor="middle" textLength="11.9" lengthAdjust="spacingAndGlyphs">4699</text>
<text x="407.97" y="466.15" font-size="6.4" fill="#1f1c1d" text-anchor="middle" textLength="14.9" lengthAdjust="spacingAndGlyphs">72.45</text>
<text x="425.1" y="446.25" font-size="6.7" fill="#fff3e2" text-anchor="middle" textLength="12.8" lengthAdjust="spacingAndGlyphs">4100</text>
<text x="425.1" y="457.55" font-size="5.9" fill="#1f1c1d" text-anchor="middle" textLength="11.9" lengthAdjust="spacingAndGlyphs">4799</text>
<text x="425.1" y="466.15" font-size="6.4" fill="#1f1c1d" text-anchor="middle" textLength="14.9" lengthAdjust="spacingAndGlyphs">73.69</text>
<text x="442.23" y="446.25" font-size="6.7" fill="#fff3e2" text-anchor="middle" textLength="12.8" lengthAdjust="spacingAndGlyphs">4200</text>
<text x="442.23" y="457.55" font-size="5.9" fill="#1f1c1d" text-anchor="middle" textLength="11.9" lengthAdjust="spacingAndGlyphs">4899</text>
<text x="442.23" y="466.15" font-size="6.4" fill="#1f1c1d" text-anchor="middle" textLength="14.9" lengthAdjust="spacingAndGlyphs">74.93</text>
<text x="459.37" y="446.25" font-size="6.7" fill="#fff3e2" text-anchor="middle" textLength="12.8" lengthAdjust="spacingAndGlyphs">4300</text>
<text x="459.37" y="457.55" font-size="5.9" fill="#1f1c1d" text-anchor="middle" textLength="11.9" lengthAdjust="spacingAndGlyphs">4999</text>
<text x="459.37" y="466.15" font-size="6.4" fill="#1f1c1d" text-anchor="middle" textLength="14.9" lengthAdjust="spacingAndGlyphs">76.17</text>
<text x="476.5" y="446.25" font-size="6.7" fill="#fff3e2" text-anchor="middle" textLength="12.8" lengthAdjust="spacingAndGlyphs">4400</text>
<text x="476.5" y="457.55" font-size="5.9" fill="#1f1c1d" text-anchor="middle" textLength="11.9" lengthAdjust="spacingAndGlyphs">5099</text>
<text x="476.5" y="466.15" font-size="6.4" fill="#1f1c1d" text-anchor="middle" textLength="14.9" lengthAdjust="spacingAndGlyphs">77.41</text>
<text x="493.63" y="446.25" font-size="6.7" fill="#fff3e2" text-anchor="middle" textLength="12.8" lengthAdjust="spacingAndGlyphs">4500</text>
<text x="493.63" y="457.55" font-size="5.9" fill="#1f1c1d" text-anchor="middle" textLength="11.9" lengthAdjust="spacingAndGlyphs">5199</text>
<text x="493.63" y="466.15" font-size="6.4" fill="#1f1c1d" text-anchor="middle" textLength="14.9" lengthAdjust="spacingAndGlyphs">78.65</text>
<text x="510.77" y="446.25" font-size="6.7" fill="#fff3e2" text-anchor="middle" textLength="12.8" lengthAdjust="spacingAndGlyphs">4600</text>
<text x="510.77" y="457.55" font-size="5.9" fill="#1f1c1d" text-anchor="middle" textLength="11.9" lengthAdjust="spacingAndGlyphs">5299</text>
<text x="510.77" y="466.15" font-size="6.4" fill="#1f1c1d" text-anchor="middle" textLength="14.9" lengthAdjust="spacingAndGlyphs">79.89</text>
<text x="527.9" y="446.25" font-size="6.7" fill="#fff3e2" text-anchor="middle" textLength="12.8" lengthAdjust="spacingAndGlyphs">4700</text>
<text x="527.9" y="457.55" font-size="5.9" fill="#1f1c1d" text-anchor="middle" textLength="11.9" lengthAdjust="spacingAndGlyphs">5399</text>
<text x="527.9" y="466.15" font-size="6.4" fill="#1f1c1d" text-anchor="middle" textLength="14.9" lengthAdjust="spacingAndGlyphs">81.13</text>
<text x="545.03" y="446.25" font-size="6.7" fill="#fff3e2" text-anchor="middle" textLength="12.8" lengthAdjust="spacingAndGlyphs">4800</text>
<text x="545.03" y="457.55" font-size="5.9" fill="#1f1c1d" text-anchor="middle" textLength="11.9" lengthAdjust="spacingAndGlyphs">5499</text>
<text x="545.03" y="466.15" font-size="6.4" fill="#1f1c1d" text-anchor="middle" textLength="14.9" lengthAdjust="spacingAndGlyphs">82.37</text>
<line x1="142.4" y1="435.75" x2="142.4" y2="450.75" stroke="#b97a35" stroke-width="0.5"/>
<line x1="142.4" y1="450.75" x2="142.4" y2="467.65" stroke="#77787a" stroke-width="0.45"/>
<line x1="159.53" y1="435.75" x2="159.53" y2="450.75" stroke="#b97a35" stroke-width="0.5"/>
<line x1="159.53" y1="450.75" x2="159.53" y2="467.65" stroke="#77787a" stroke-width="0.45"/>
<line x1="176.67" y1="435.75" x2="176.67" y2="450.75" stroke="#b97a35" stroke-width="0.5"/>
<line x1="176.67" y1="450.75" x2="176.67" y2="467.65" stroke="#77787a" stroke-width="0.45"/>
<line x1="193.8" y1="435.75" x2="193.8" y2="450.75" stroke="#b97a35" stroke-width="0.5"/>
<line x1="193.8" y1="450.75" x2="193.8" y2="467.65" stroke="#77787a" stroke-width="0.45"/>
<line x1="210.93" y1="435.75" x2="210.93" y2="450.75" stroke="#b97a35" stroke-width="0.5"/>
<line x1="210.93" y1="450.75" x2="210.93" y2="467.65" stroke="#77787a" stroke-width="0.45"/>
<line x1="228.07" y1="435.75" x2="228.07" y2="450.75" stroke="#b97a35" stroke-width="0.5"/>
<line x1="228.07" y1="450.75" x2="228.07" y2="467.65" stroke="#77787a" stroke-width="0.45"/>
<line x1="245.2" y1="435.75" x2="245.2" y2="450.75" stroke="#b97a35" stroke-width="0.5"/>
<line x1="245.2" y1="450.75" x2="245.2" y2="467.65" stroke="#77787a" stroke-width="0.45"/>
<line x1="262.33" y1="435.75" x2="262.33" y2="450.75" stroke="#b97a35" stroke-width="0.5"/>
<line x1="262.33" y1="450.75" x2="262.33" y2="467.65" stroke="#77787a" stroke-width="0.45"/>
<line x1="279.47" y1="435.75" x2="279.47" y2="450.75" stroke="#b97a35" stroke-width="0.5"/>
<line x1="279.47" y1="450.75" x2="279.47" y2="467.65" stroke="#77787a" stroke-width="0.45"/>
<line x1="296.6" y1="435.75" x2="296.6" y2="450.75" stroke="#b97a35" stroke-width="0.5"/>
<line x1="296.6" y1="450.75" x2="296.6" y2="467.65" stroke="#77787a" stroke-width="0.45"/>
<line x1="313.73" y1="435.75" x2="313.73" y2="450.75" stroke="#b97a35" stroke-width="0.5"/>
<line x1="313.73" y1="450.75" x2="313.73" y2="467.65" stroke="#77787a" stroke-width="0.45"/>
<line x1="330.87" y1="435.75" x2="330.87" y2="450.75" stroke="#b97a35" stroke-width="0.5"/>
<line x1="330.87" y1="450.75" x2="330.87" y2="467.65" stroke="#77787a" stroke-width="0.45"/>
<line x1="348" y1="435.75" x2="348" y2="450.75" stroke="#b97a35" stroke-width="0.5"/>
<line x1="348" y1="450.75" x2="348" y2="467.65" stroke="#77787a" stroke-width="0.45"/>
<line x1="365.13" y1="435.75" x2="365.13" y2="450.75" stroke="#b97a35" stroke-width="0.5"/>
<line x1="365.13" y1="450.75" x2="365.13" y2="467.65" stroke="#77787a" stroke-width="0.45"/>
<line x1="382.27" y1="435.75" x2="382.27" y2="450.75" stroke="#b97a35" stroke-width="0.5"/>
<line x1="382.27" y1="450.75" x2="382.27" y2="467.65" stroke="#77787a" stroke-width="0.45"/>
<line x1="399.4" y1="435.75" x2="399.4" y2="450.75" stroke="#b97a35" stroke-width="0.5"/>
<line x1="399.4" y1="450.75" x2="399.4" y2="467.65" stroke="#77787a" stroke-width="0.45"/>
<line x1="416.53" y1="435.75" x2="416.53" y2="450.75" stroke="#b97a35" stroke-width="0.5"/>
<line x1="416.53" y1="450.75" x2="416.53" y2="467.65" stroke="#77787a" stroke-width="0.45"/>
<line x1="433.67" y1="435.75" x2="433.67" y2="450.75" stroke="#b97a35" stroke-width="0.5"/>
<line x1="433.67" y1="450.75" x2="433.67" y2="467.65" stroke="#77787a" stroke-width="0.45"/>
<line x1="450.8" y1="435.75" x2="450.8" y2="450.75" stroke="#b97a35" stroke-width="0.5"/>
<line x1="450.8" y1="450.75" x2="450.8" y2="467.65" stroke="#77787a" stroke-width="0.45"/>
<line x1="467.93" y1="435.75" x2="467.93" y2="450.75" stroke="#b97a35" stroke-width="0.5"/>
<line x1="467.93" y1="450.75" x2="467.93" y2="467.65" stroke="#77787a" stroke-width="0.45"/>
<line x1="485.07" y1="435.75" x2="485.07" y2="450.75" stroke="#b97a35" stroke-width="0.5"/>
<line x1="485.07" y1="450.75" x2="485.07" y2="467.65" stroke="#77787a" stroke-width="0.45"/>
<line x1="502.2" y1="435.75" x2="502.2" y2="450.75" stroke="#b97a35" stroke-width="0.5"/>
<line x1="502.2" y1="450.75" x2="502.2" y2="467.65" stroke="#77787a" stroke-width="0.45"/>
<line x1="519.33" y1="435.75" x2="519.33" y2="450.75" stroke="#b97a35" stroke-width="0.5"/>
<line x1="519.33" y1="450.75" x2="519.33" y2="467.65" stroke="#77787a" stroke-width="0.45"/>
<line x1="536.47" y1="435.75" x2="536.47" y2="450.75" stroke="#b97a35" stroke-width="0.5"/>
<line x1="536.47" y1="450.75" x2="536.47" y2="467.65" stroke="#77787a" stroke-width="0.45"/>
<line x1="553.6" y1="435.75" x2="553.6" y2="450.75" stroke="#b97a35" stroke-width="0.5"/>
<line x1="553.6" y1="450.75" x2="553.6" y2="467.65" stroke="#77787a" stroke-width="0.45"/>
<line x1="104.3" y1="450.75" x2="553.6" y2="450.75" stroke="#8a8a8c" stroke-width="0.5"/>
<line x1="104.3" y1="459.3" x2="553.6" y2="459.3" stroke="#6d6e70" stroke-width="0.5"/>
<line x1="104.3" y1="467.65" x2="553.6" y2="467.65" stroke="#4d4d4f" stroke-width="0.9"/>
<line x1="104.3" y1="435.95" x2="553.6" y2="435.95" stroke="#d98a35" stroke-width="0.5"/>
<defs><linearGradient id="tg764" x1="0" x2="0" y1="0" y2="1"><stop offset="0" stop-color="#f7a03a"/><stop offset="0.5" stop-color="#f9a947"/><stop offset="1" stop-color="#f8a540"/></linearGradient></defs>
<rect x="104.3" y="764.4" width="449.3" height="15" fill="url(#tg764)"/>
<rect x="104.3" y="779.4" width="38.1" height="16.9" fill="#fdf0da"/>
<text x="108.87" y="772.2" font-size="7" fill="#fdf0dc" font-weight="bold" letter-spacing="0.05">有效行程</text>
<text x="123.35" y="777.8" font-size="6" fill="#fde0b8" text-anchor="middle" textLength="17.6" lengthAdjust="spacingAndGlyphs">Stroke</text>
<text x="122.95" y="786.2" font-size="5.8" fill="#1f1c1d" text-anchor="middle">L</text>
<text x="123.15" y="794.65" font-size="5.6" fill="#1f1c1d" text-anchor="middle">KG</text>
<text x="150.97" y="774.9" font-size="6.7" fill="#fff3e2" text-anchor="middle" textLength="9.6" lengthAdjust="spacingAndGlyphs">100</text>
<text x="150.97" y="786.2" font-size="5.9" fill="#1f1c1d" text-anchor="middle" textLength="9.3" lengthAdjust="spacingAndGlyphs">799</text>
<text x="150.97" y="794.8" font-size="6.4" fill="#1f1c1d" text-anchor="middle" textLength="14.9" lengthAdjust="spacingAndGlyphs">24.09</text>
<text x="168.1" y="774.9" font-size="6.7" fill="#fff3e2" text-anchor="middle" textLength="9.6" lengthAdjust="spacingAndGlyphs">200</text>
<text x="168.1" y="786.2" font-size="5.9" fill="#1f1c1d" text-anchor="middle" textLength="9.3" lengthAdjust="spacingAndGlyphs">899</text>
<text x="168.1" y="794.8" font-size="6.4" fill="#1f1c1d" text-anchor="middle" textLength="14.9" lengthAdjust="spacingAndGlyphs">25.33</text>
<text x="185.23" y="774.9" font-size="6.7" fill="#fff3e2" text-anchor="middle" textLength="9.6" lengthAdjust="spacingAndGlyphs">300</text>
<text x="185.23" y="786.2" font-size="5.9" fill="#1f1c1d" text-anchor="middle" textLength="9.3" lengthAdjust="spacingAndGlyphs">999</text>
<text x="185.23" y="794.8" font-size="6.4" fill="#1f1c1d" text-anchor="middle" textLength="14.9" lengthAdjust="spacingAndGlyphs">26.57</text>
<text x="202.37" y="774.9" font-size="6.7" fill="#fff3e2" text-anchor="middle" textLength="9.6" lengthAdjust="spacingAndGlyphs">400</text>
<text x="202.37" y="786.2" font-size="5.9" fill="#1f1c1d" text-anchor="middle" textLength="11.9" lengthAdjust="spacingAndGlyphs">1099</text>
<text x="202.37" y="794.8" font-size="6.4" fill="#1f1c1d" text-anchor="middle" textLength="14.9" lengthAdjust="spacingAndGlyphs">27.81</text>
<text x="219.5" y="774.9" font-size="6.7" fill="#fff3e2" text-anchor="middle" textLength="9.6" lengthAdjust="spacingAndGlyphs">500</text>
<text x="219.5" y="786.2" font-size="5.9" fill="#1f1c1d" text-anchor="middle" textLength="11.9" lengthAdjust="spacingAndGlyphs">1199</text>
<text x="219.5" y="794.8" font-size="6.4" fill="#1f1c1d" text-anchor="middle" textLength="14.9" lengthAdjust="spacingAndGlyphs">29.05</text>
<text x="236.63" y="774.9" font-size="6.7" fill="#fff3e2" text-anchor="middle" textLength="9.6" lengthAdjust="spacingAndGlyphs">600</text>
<text x="236.63" y="786.2" font-size="5.9" fill="#1f1c1d" text-anchor="middle" textLength="11.9" lengthAdjust="spacingAndGlyphs">1299</text>
<text x="236.63" y="794.8" font-size="6.4" fill="#1f1c1d" text-anchor="middle" textLength="14.9" lengthAdjust="spacingAndGlyphs">30.29</text>
<text x="253.77" y="774.9" font-size="6.7" fill="#fff3e2" text-anchor="middle" textLength="9.6" lengthAdjust="spacingAndGlyphs">700</text>
<text x="253.77" y="786.2" font-size="5.9" fill="#1f1c1d" text-anchor="middle" textLength="11.9" lengthAdjust="spacingAndGlyphs">1399</text>
<text x="253.77" y="794.8" font-size="6.4" fill="#1f1c1d" text-anchor="middle" textLength="14.9" lengthAdjust="spacingAndGlyphs">31.53</text>
<text x="270.9" y="774.9" font-size="6.7" fill="#fff3e2" text-anchor="middle" textLength="9.6" lengthAdjust="spacingAndGlyphs">800</text>
<text x="270.9" y="786.2" font-size="5.9" fill="#1f1c1d" text-anchor="middle" textLength="11.9" lengthAdjust="spacingAndGlyphs">1499</text>
<text x="270.9" y="794.8" font-size="6.4" fill="#1f1c1d" text-anchor="middle" textLength="14.9" lengthAdjust="spacingAndGlyphs">32.77</text>
<text x="288.03" y="774.9" font-size="6.7" fill="#fff3e2" text-anchor="middle" textLength="9.6" lengthAdjust="spacingAndGlyphs">900</text>
<text x="288.03" y="786.2" font-size="5.9" fill="#1f1c1d" text-anchor="middle" textLength="11.9" lengthAdjust="spacingAndGlyphs">1599</text>
<text x="288.03" y="794.8" font-size="6.4" fill="#1f1c1d" text-anchor="middle" textLength="14.9" lengthAdjust="spacingAndGlyphs">34.01</text>
<text x="305.17" y="774.9" font-size="6.7" fill="#fff3e2" text-anchor="middle" textLength="12.8" lengthAdjust="spacingAndGlyphs">1000</text>
<text x="305.17" y="786.2" font-size="5.9" fill="#1f1c1d" text-anchor="middle" textLength="11.9" lengthAdjust="spacingAndGlyphs">1699</text>
<text x="305.17" y="794.8" font-size="6.4" fill="#1f1c1d" text-anchor="middle" textLength="14.9" lengthAdjust="spacingAndGlyphs">35.25</text>
<text x="322.3" y="774.9" font-size="6.7" fill="#fff3e2" text-anchor="middle" textLength="12.8" lengthAdjust="spacingAndGlyphs">1100</text>
<text x="322.3" y="786.2" font-size="5.9" fill="#1f1c1d" text-anchor="middle" textLength="11.9" lengthAdjust="spacingAndGlyphs">1799</text>
<text x="322.3" y="794.8" font-size="6.4" fill="#1f1c1d" text-anchor="middle" textLength="14.9" lengthAdjust="spacingAndGlyphs">36.49</text>
<text x="339.43" y="774.9" font-size="6.7" fill="#fff3e2" text-anchor="middle" textLength="12.8" lengthAdjust="spacingAndGlyphs">1200</text>
<text x="339.43" y="786.2" font-size="5.9" fill="#1f1c1d" text-anchor="middle" textLength="11.9" lengthAdjust="spacingAndGlyphs">1899</text>
<text x="339.43" y="794.8" font-size="6.4" fill="#1f1c1d" text-anchor="middle" textLength="14.9" lengthAdjust="spacingAndGlyphs">37.73</text>
<text x="356.57" y="774.9" font-size="6.7" fill="#fff3e2" text-anchor="middle" textLength="12.8" lengthAdjust="spacingAndGlyphs">1300</text>
<text x="356.57" y="786.2" font-size="5.9" fill="#1f1c1d" text-anchor="middle" textLength="11.9" lengthAdjust="spacingAndGlyphs">1999</text>
<text x="356.57" y="794.8" font-size="6.4" fill="#1f1c1d" text-anchor="middle" textLength="14.9" lengthAdjust="spacingAndGlyphs">38.97</text>
<text x="373.7" y="774.9" font-size="6.7" fill="#fff3e2" text-anchor="middle" textLength="12.8" lengthAdjust="spacingAndGlyphs">1400</text>
<text x="373.7" y="786.2" font-size="5.9" fill="#1f1c1d" text-anchor="middle" textLength="11.9" lengthAdjust="spacingAndGlyphs">2099</text>
<text x="373.7" y="794.8" font-size="6.4" fill="#1f1c1d" text-anchor="middle" textLength="14.9" lengthAdjust="spacingAndGlyphs">40.21</text>
<text x="390.83" y="774.9" font-size="6.7" fill="#fff3e2" text-anchor="middle" textLength="12.8" lengthAdjust="spacingAndGlyphs">1500</text>
<text x="390.83" y="786.2" font-size="5.9" fill="#1f1c1d" text-anchor="middle" textLength="11.9" lengthAdjust="spacingAndGlyphs">2199</text>
<text x="390.83" y="794.8" font-size="6.4" fill="#1f1c1d" text-anchor="middle" textLength="14.9" lengthAdjust="spacingAndGlyphs">41.45</text>
<text x="407.97" y="774.9" font-size="6.7" fill="#fff3e2" text-anchor="middle" textLength="12.8" lengthAdjust="spacingAndGlyphs">1600</text>
<text x="407.97" y="786.2" font-size="5.9" fill="#1f1c1d" text-anchor="middle" textLength="11.9" lengthAdjust="spacingAndGlyphs">2299</text>
<text x="407.97" y="794.8" font-size="6.4" fill="#1f1c1d" text-anchor="middle" textLength="14.9" lengthAdjust="spacingAndGlyphs">42.69</text>
<text x="425.1" y="774.9" font-size="6.7" fill="#fff3e2" text-anchor="middle" textLength="12.8" lengthAdjust="spacingAndGlyphs">1700</text>
<text x="425.1" y="786.2" font-size="5.9" fill="#1f1c1d" text-anchor="middle" textLength="11.9" lengthAdjust="spacingAndGlyphs">2399</text>
<text x="425.1" y="794.8" font-size="6.4" fill="#1f1c1d" text-anchor="middle" textLength="14.9" lengthAdjust="spacingAndGlyphs">43.93</text>
<text x="442.23" y="774.9" font-size="6.7" fill="#fff3e2" text-anchor="middle" textLength="12.8" lengthAdjust="spacingAndGlyphs">1800</text>
<text x="442.23" y="786.2" font-size="5.9" fill="#1f1c1d" text-anchor="middle" textLength="11.9" lengthAdjust="spacingAndGlyphs">2499</text>
<text x="442.23" y="794.8" font-size="6.4" fill="#1f1c1d" text-anchor="middle" textLength="14.9" lengthAdjust="spacingAndGlyphs">45.17</text>
<text x="459.37" y="774.9" font-size="6.7" fill="#fff3e2" text-anchor="middle" textLength="12.8" lengthAdjust="spacingAndGlyphs">1900</text>
<text x="459.37" y="786.2" font-size="5.9" fill="#1f1c1d" text-anchor="middle" textLength="11.9" lengthAdjust="spacingAndGlyphs">2599</text>
<text x="459.37" y="794.8" font-size="6.4" fill="#1f1c1d" text-anchor="middle" textLength="14.9" lengthAdjust="spacingAndGlyphs">46.41</text>
<text x="476.5" y="774.9" font-size="6.7" fill="#fff3e2" text-anchor="middle" textLength="12.8" lengthAdjust="spacingAndGlyphs">2000</text>
<text x="476.5" y="786.2" font-size="5.9" fill="#1f1c1d" text-anchor="middle" textLength="11.9" lengthAdjust="spacingAndGlyphs">2699</text>
<text x="476.5" y="794.8" font-size="6.4" fill="#1f1c1d" text-anchor="middle" textLength="14.9" lengthAdjust="spacingAndGlyphs">47.65</text>
<text x="493.63" y="774.9" font-size="6.7" fill="#fff3e2" text-anchor="middle" textLength="12.8" lengthAdjust="spacingAndGlyphs">2100</text>
<text x="493.63" y="786.2" font-size="5.9" fill="#1f1c1d" text-anchor="middle" textLength="11.9" lengthAdjust="spacingAndGlyphs">2799</text>
<text x="493.63" y="794.8" font-size="6.4" fill="#1f1c1d" text-anchor="middle" textLength="14.9" lengthAdjust="spacingAndGlyphs">48.89</text>
<text x="510.77" y="774.9" font-size="6.7" fill="#fff3e2" text-anchor="middle" textLength="12.8" lengthAdjust="spacingAndGlyphs">2200</text>
<text x="510.77" y="786.2" font-size="5.9" fill="#1f1c1d" text-anchor="middle" textLength="11.9" lengthAdjust="spacingAndGlyphs">2899</text>
<text x="510.77" y="794.8" font-size="6.4" fill="#1f1c1d" text-anchor="middle" textLength="14.9" lengthAdjust="spacingAndGlyphs">50.13</text>
<text x="527.9" y="774.9" font-size="6.7" fill="#fff3e2" text-anchor="middle" textLength="12.8" lengthAdjust="spacingAndGlyphs">2300</text>
<text x="527.9" y="786.2" font-size="5.9" fill="#1f1c1d" text-anchor="middle" textLength="11.9" lengthAdjust="spacingAndGlyphs">2999</text>
<text x="527.9" y="794.8" font-size="6.4" fill="#1f1c1d" text-anchor="middle" textLength="14.9" lengthAdjust="spacingAndGlyphs">51.37</text>
<text x="545.03" y="774.9" font-size="6.7" fill="#fff3e2" text-anchor="middle" textLength="12.8" lengthAdjust="spacingAndGlyphs">2400</text>
<text x="545.03" y="786.2" font-size="5.9" fill="#1f1c1d" text-anchor="middle" textLength="11.9" lengthAdjust="spacingAndGlyphs">3099</text>
<text x="545.03" y="794.8" font-size="6.4" fill="#1f1c1d" text-anchor="middle" textLength="14.9" lengthAdjust="spacingAndGlyphs">52.61</text>
<line x1="142.4" y1="764.4" x2="142.4" y2="779.4" stroke="#b97a35" stroke-width="0.5"/>
<line x1="142.4" y1="779.4" x2="142.4" y2="796.3" stroke="#77787a" stroke-width="0.45"/>
<line x1="159.53" y1="764.4" x2="159.53" y2="779.4" stroke="#b97a35" stroke-width="0.5"/>
<line x1="159.53" y1="779.4" x2="159.53" y2="796.3" stroke="#77787a" stroke-width="0.45"/>
<line x1="176.67" y1="764.4" x2="176.67" y2="779.4" stroke="#b97a35" stroke-width="0.5"/>
<line x1="176.67" y1="779.4" x2="176.67" y2="796.3" stroke="#77787a" stroke-width="0.45"/>
<line x1="193.8" y1="764.4" x2="193.8" y2="779.4" stroke="#b97a35" stroke-width="0.5"/>
<line x1="193.8" y1="779.4" x2="193.8" y2="796.3" stroke="#77787a" stroke-width="0.45"/>
<line x1="210.93" y1="764.4" x2="210.93" y2="779.4" stroke="#b97a35" stroke-width="0.5"/>
<line x1="210.93" y1="779.4" x2="210.93" y2="796.3" stroke="#77787a" stroke-width="0.45"/>
<line x1="228.07" y1="764.4" x2="228.07" y2="779.4" stroke="#b97a35" stroke-width="0.5"/>
<line x1="228.07" y1="779.4" x2="228.07" y2="796.3" stroke="#77787a" stroke-width="0.45"/>
<line x1="245.2" y1="764.4" x2="245.2" y2="779.4" stroke="#b97a35" stroke-width="0.5"/>
<line x1="245.2" y1="779.4" x2="245.2" y2="796.3" stroke="#77787a" stroke-width="0.45"/>
<line x1="262.33" y1="764.4" x2="262.33" y2="779.4" stroke="#b97a35" stroke-width="0.5"/>
<line x1="262.33" y1="779.4" x2="262.33" y2="796.3" stroke="#77787a" stroke-width="0.45"/>
<line x1="279.47" y1="764.4" x2="279.47" y2="779.4" stroke="#b97a35" stroke-width="0.5"/>
<line x1="279.47" y1="779.4" x2="279.47" y2="796.3" stroke="#77787a" stroke-width="0.45"/>
<line x1="296.6" y1="764.4" x2="296.6" y2="779.4" stroke="#b97a35" stroke-width="0.5"/>
<line x1="296.6" y1="779.4" x2="296.6" y2="796.3" stroke="#77787a" stroke-width="0.45"/>
<line x1="313.73" y1="764.4" x2="313.73" y2="779.4" stroke="#b97a35" stroke-width="0.5"/>
<line x1="313.73" y1="779.4" x2="313.73" y2="796.3" stroke="#77787a" stroke-width="0.45"/>
<line x1="330.87" y1="764.4" x2="330.87" y2="779.4" stroke="#b97a35" stroke-width="0.5"/>
<line x1="330.87" y1="779.4" x2="330.87" y2="796.3" stroke="#77787a" stroke-width="0.45"/>
<line x1="348" y1="764.4" x2="348" y2="779.4" stroke="#b97a35" stroke-width="0.5"/>
<line x1="348" y1="779.4" x2="348" y2="796.3" stroke="#77787a" stroke-width="0.45"/>
<line x1="365.13" y1="764.4" x2="365.13" y2="779.4" stroke="#b97a35" stroke-width="0.5"/>
<line x1="365.13" y1="779.4" x2="365.13" y2="796.3" stroke="#77787a" stroke-width="0.45"/>
<line x1="382.27" y1="764.4" x2="382.27" y2="779.4" stroke="#b97a35" stroke-width="0.5"/>
<line x1="382.27" y1="779.4" x2="382.27" y2="796.3" stroke="#77787a" stroke-width="0.45"/>
<line x1="399.4" y1="764.4" x2="399.4" y2="779.4" stroke="#b97a35" stroke-width="0.5"/>
<line x1="399.4" y1="779.4" x2="399.4" y2="796.3" stroke="#77787a" stroke-width="0.45"/>
<line x1="416.53" y1="764.4" x2="416.53" y2="779.4" stroke="#b97a35" stroke-width="0.5"/>
<line x1="416.53" y1="779.4" x2="416.53" y2="796.3" stroke="#77787a" stroke-width="0.45"/>
<line x1="433.67" y1="764.4" x2="433.67" y2="779.4" stroke="#b97a35" stroke-width="0.5"/>
<line x1="433.67" y1="779.4" x2="433.67" y2="796.3" stroke="#77787a" stroke-width="0.45"/>
<line x1="450.8" y1="764.4" x2="450.8" y2="779.4" stroke="#b97a35" stroke-width="0.5"/>
<line x1="450.8" y1="779.4" x2="450.8" y2="796.3" stroke="#77787a" stroke-width="0.45"/>
<line x1="467.93" y1="764.4" x2="467.93" y2="779.4" stroke="#b97a35" stroke-width="0.5"/>
<line x1="467.93" y1="779.4" x2="467.93" y2="796.3" stroke="#77787a" stroke-width="0.45"/>
<line x1="485.07" y1="764.4" x2="485.07" y2="779.4" stroke="#b97a35" stroke-width="0.5"/>
<line x1="485.07" y1="779.4" x2="485.07" y2="796.3" stroke="#77787a" stroke-width="0.45"/>
<line x1="502.2" y1="764.4" x2="502.2" y2="779.4" stroke="#b97a35" stroke-width="0.5"/>
<line x1="502.2" y1="779.4" x2="502.2" y2="796.3" stroke="#77787a" stroke-width="0.45"/>
<line x1="519.33" y1="764.4" x2="519.33" y2="779.4" stroke="#b97a35" stroke-width="0.5"/>
<line x1="519.33" y1="779.4" x2="519.33" y2="796.3" stroke="#77787a" stroke-width="0.45"/>
<line x1="536.47" y1="764.4" x2="536.47" y2="779.4" stroke="#b97a35" stroke-width="0.5"/>
<line x1="536.47" y1="779.4" x2="536.47" y2="796.3" stroke="#77787a" stroke-width="0.45"/>
<line x1="553.6" y1="764.4" x2="553.6" y2="779.4" stroke="#b97a35" stroke-width="0.5"/>
<line x1="553.6" y1="779.4" x2="553.6" y2="796.3" stroke="#77787a" stroke-width="0.45"/>
<line x1="104.3" y1="779.4" x2="553.6" y2="779.4" stroke="#8a8a8c" stroke-width="0.5"/>
<line x1="104.3" y1="787.95" x2="553.6" y2="787.95" stroke="#6d6e70" stroke-width="0.5"/>
<line x1="104.3" y1="796.3" x2="553.6" y2="796.3" stroke="#4d4d4f" stroke-width="0.9"/>
<line x1="104.3" y1="764.6" x2="553.6" y2="764.6" stroke="#d98a35" stroke-width="0.5"/>
<defs><linearGradient id="tg799" x1="0" x2="0" y1="0" y2="1"><stop offset="0" stop-color="#f7a03a"/><stop offset="0.5" stop-color="#f9a947"/><stop offset="1" stop-color="#f8a540"/></linearGradient></defs>
<rect x="104.3" y="799.75" width="449.3" height="15" fill="url(#tg799)"/>
<rect x="104.3" y="814.75" width="38.1" height="16.9" fill="#fdf0da"/>
<text x="108.87" y="807.55" font-size="7" fill="#fdf0dc" font-weight="bold" letter-spacing="0.05">有效行程</text>
<text x="123.35" y="813.15" font-size="6" fill="#fde0b8" text-anchor="middle" textLength="17.6" lengthAdjust="spacingAndGlyphs">Stroke</text>
<text x="122.95" y="821.55" font-size="5.8" fill="#1f1c1d" text-anchor="middle">L</text>
<text x="123.15" y="830" font-size="5.6" fill="#1f1c1d" text-anchor="middle">KG</text>
<text x="150.97" y="810.25" font-size="6.7" fill="#fff3e2" text-anchor="middle" textLength="12.8" lengthAdjust="spacingAndGlyphs">2500</text>
<text x="150.97" y="821.55" font-size="5.9" fill="#1f1c1d" text-anchor="middle" textLength="11.9" lengthAdjust="spacingAndGlyphs">3199</text>
<text x="150.97" y="830.15" font-size="6.4" fill="#1f1c1d" text-anchor="middle" textLength="14.9" lengthAdjust="spacingAndGlyphs">53.85</text>
<text x="168.1" y="810.25" font-size="6.7" fill="#fff3e2" text-anchor="middle" textLength="12.8" lengthAdjust="spacingAndGlyphs">2600</text>
<text x="168.1" y="821.55" font-size="5.9" fill="#1f1c1d" text-anchor="middle" textLength="11.9" lengthAdjust="spacingAndGlyphs">3299</text>
<text x="168.1" y="830.15" font-size="6.4" fill="#1f1c1d" text-anchor="middle" textLength="14.9" lengthAdjust="spacingAndGlyphs">55.09</text>
<text x="185.23" y="810.25" font-size="6.7" fill="#fff3e2" text-anchor="middle" textLength="12.8" lengthAdjust="spacingAndGlyphs">2700</text>
<text x="185.23" y="821.55" font-size="5.9" fill="#1f1c1d" text-anchor="middle" textLength="11.9" lengthAdjust="spacingAndGlyphs">3399</text>
<text x="185.23" y="830.15" font-size="6.4" fill="#1f1c1d" text-anchor="middle" textLength="14.9" lengthAdjust="spacingAndGlyphs">56.33</text>
<text x="202.37" y="810.25" font-size="6.7" fill="#fff3e2" text-anchor="middle" textLength="12.8" lengthAdjust="spacingAndGlyphs">2800</text>
<text x="202.37" y="821.55" font-size="5.9" fill="#1f1c1d" text-anchor="middle" textLength="11.9" lengthAdjust="spacingAndGlyphs">3499</text>
<text x="202.37" y="830.15" font-size="6.4" fill="#1f1c1d" text-anchor="middle" textLength="14.9" lengthAdjust="spacingAndGlyphs">57.57</text>
<text x="219.5" y="810.25" font-size="6.7" fill="#fff3e2" text-anchor="middle" textLength="12.8" lengthAdjust="spacingAndGlyphs">2900</text>
<text x="219.5" y="821.55" font-size="5.9" fill="#1f1c1d" text-anchor="middle" textLength="11.9" lengthAdjust="spacingAndGlyphs">3599</text>
<text x="219.5" y="830.15" font-size="6.4" fill="#1f1c1d" text-anchor="middle" textLength="14.9" lengthAdjust="spacingAndGlyphs">58.81</text>
<text x="236.63" y="810.25" font-size="6.7" fill="#fff3e2" text-anchor="middle" textLength="12.8" lengthAdjust="spacingAndGlyphs">3000</text>
<text x="236.63" y="821.55" font-size="5.9" fill="#1f1c1d" text-anchor="middle" textLength="11.9" lengthAdjust="spacingAndGlyphs">3699</text>
<text x="236.63" y="830.15" font-size="6.4" fill="#1f1c1d" text-anchor="middle" textLength="14.9" lengthAdjust="spacingAndGlyphs">60.05</text>
<text x="253.77" y="810.25" font-size="6.7" fill="#fff3e2" text-anchor="middle" textLength="12.8" lengthAdjust="spacingAndGlyphs">3100</text>
<text x="253.77" y="821.55" font-size="5.9" fill="#1f1c1d" text-anchor="middle" textLength="11.9" lengthAdjust="spacingAndGlyphs">3799</text>
<text x="253.77" y="830.15" font-size="6.4" fill="#1f1c1d" text-anchor="middle" textLength="14.9" lengthAdjust="spacingAndGlyphs">61.29</text>
<text x="270.9" y="810.25" font-size="6.7" fill="#fff3e2" text-anchor="middle" textLength="12.8" lengthAdjust="spacingAndGlyphs">3200</text>
<text x="270.9" y="821.55" font-size="5.9" fill="#1f1c1d" text-anchor="middle" textLength="11.9" lengthAdjust="spacingAndGlyphs">3899</text>
<text x="270.9" y="830.15" font-size="6.4" fill="#1f1c1d" text-anchor="middle" textLength="14.9" lengthAdjust="spacingAndGlyphs">62.53</text>
<text x="288.03" y="810.25" font-size="6.7" fill="#fff3e2" text-anchor="middle" textLength="12.8" lengthAdjust="spacingAndGlyphs">3300</text>
<text x="288.03" y="821.55" font-size="5.9" fill="#1f1c1d" text-anchor="middle" textLength="11.9" lengthAdjust="spacingAndGlyphs">3999</text>
<text x="288.03" y="830.15" font-size="6.4" fill="#1f1c1d" text-anchor="middle" textLength="14.9" lengthAdjust="spacingAndGlyphs">63.77</text>
<text x="305.17" y="810.25" font-size="6.7" fill="#fff3e2" text-anchor="middle" textLength="12.8" lengthAdjust="spacingAndGlyphs">3400</text>
<text x="305.17" y="821.55" font-size="5.9" fill="#1f1c1d" text-anchor="middle" textLength="11.9" lengthAdjust="spacingAndGlyphs">4099</text>
<text x="305.17" y="830.15" font-size="6.4" fill="#1f1c1d" text-anchor="middle" textLength="14.9" lengthAdjust="spacingAndGlyphs">65.01</text>
<text x="322.3" y="810.25" font-size="6.7" fill="#fff3e2" text-anchor="middle" textLength="12.8" lengthAdjust="spacingAndGlyphs">3500</text>
<text x="322.3" y="821.55" font-size="5.9" fill="#1f1c1d" text-anchor="middle" textLength="11.9" lengthAdjust="spacingAndGlyphs">4199</text>
<text x="322.3" y="830.15" font-size="6.4" fill="#1f1c1d" text-anchor="middle" textLength="14.9" lengthAdjust="spacingAndGlyphs">66.25</text>
<text x="339.43" y="810.25" font-size="6.7" fill="#fff3e2" text-anchor="middle" textLength="12.8" lengthAdjust="spacingAndGlyphs">3600</text>
<text x="339.43" y="821.55" font-size="5.9" fill="#1f1c1d" text-anchor="middle" textLength="11.9" lengthAdjust="spacingAndGlyphs">4299</text>
<text x="339.43" y="830.15" font-size="6.4" fill="#1f1c1d" text-anchor="middle" textLength="14.9" lengthAdjust="spacingAndGlyphs">67.49</text>
<text x="356.57" y="810.25" font-size="6.7" fill="#fff3e2" text-anchor="middle" textLength="12.8" lengthAdjust="spacingAndGlyphs">3700</text>
<text x="356.57" y="821.55" font-size="5.9" fill="#1f1c1d" text-anchor="middle" textLength="11.9" lengthAdjust="spacingAndGlyphs">4399</text>
<text x="356.57" y="830.15" font-size="6.4" fill="#1f1c1d" text-anchor="middle" textLength="14.9" lengthAdjust="spacingAndGlyphs">68.73</text>
<text x="373.7" y="810.25" font-size="6.7" fill="#fff3e2" text-anchor="middle" textLength="12.8" lengthAdjust="spacingAndGlyphs">3800</text>
<text x="373.7" y="821.55" font-size="5.9" fill="#1f1c1d" text-anchor="middle" textLength="11.9" lengthAdjust="spacingAndGlyphs">4499</text>
<text x="373.7" y="830.15" font-size="6.4" fill="#1f1c1d" text-anchor="middle" textLength="14.9" lengthAdjust="spacingAndGlyphs">69.97</text>
<text x="390.83" y="810.25" font-size="6.7" fill="#fff3e2" text-anchor="middle" textLength="12.8" lengthAdjust="spacingAndGlyphs">3900</text>
<text x="390.83" y="821.55" font-size="5.9" fill="#1f1c1d" text-anchor="middle" textLength="11.9" lengthAdjust="spacingAndGlyphs">4599</text>
<text x="390.83" y="830.15" font-size="6.4" fill="#1f1c1d" text-anchor="middle" textLength="14.9" lengthAdjust="spacingAndGlyphs">71.21</text>
<text x="407.97" y="810.25" font-size="6.7" fill="#fff3e2" text-anchor="middle" textLength="12.8" lengthAdjust="spacingAndGlyphs">4000</text>
<text x="407.97" y="821.55" font-size="5.9" fill="#1f1c1d" text-anchor="middle" textLength="11.9" lengthAdjust="spacingAndGlyphs">4699</text>
<text x="407.97" y="830.15" font-size="6.4" fill="#1f1c1d" text-anchor="middle" textLength="14.9" lengthAdjust="spacingAndGlyphs">72.45</text>
<text x="425.1" y="810.25" font-size="6.7" fill="#fff3e2" text-anchor="middle" textLength="12.8" lengthAdjust="spacingAndGlyphs">4100</text>
<text x="425.1" y="821.55" font-size="5.9" fill="#1f1c1d" text-anchor="middle" textLength="11.9" lengthAdjust="spacingAndGlyphs">4799</text>
<text x="425.1" y="830.15" font-size="6.4" fill="#1f1c1d" text-anchor="middle" textLength="14.9" lengthAdjust="spacingAndGlyphs">73.69</text>
<text x="442.23" y="810.25" font-size="6.7" fill="#fff3e2" text-anchor="middle" textLength="12.8" lengthAdjust="spacingAndGlyphs">4200</text>
<text x="442.23" y="821.55" font-size="5.9" fill="#1f1c1d" text-anchor="middle" textLength="11.9" lengthAdjust="spacingAndGlyphs">4899</text>
<text x="442.23" y="830.15" font-size="6.4" fill="#1f1c1d" text-anchor="middle" textLength="14.9" lengthAdjust="spacingAndGlyphs">74.93</text>
<text x="459.37" y="810.25" font-size="6.7" fill="#fff3e2" text-anchor="middle" textLength="12.8" lengthAdjust="spacingAndGlyphs">4300</text>
<text x="459.37" y="821.55" font-size="5.9" fill="#1f1c1d" text-anchor="middle" textLength="11.9" lengthAdjust="spacingAndGlyphs">4999</text>
<text x="459.37" y="830.15" font-size="6.4" fill="#1f1c1d" text-anchor="middle" textLength="14.9" lengthAdjust="spacingAndGlyphs">76.17</text>
<text x="476.5" y="810.25" font-size="6.7" fill="#fff3e2" text-anchor="middle" textLength="12.8" lengthAdjust="spacingAndGlyphs">4400</text>
<text x="476.5" y="821.55" font-size="5.9" fill="#1f1c1d" text-anchor="middle" textLength="11.9" lengthAdjust="spacingAndGlyphs">5099</text>
<text x="476.5" y="830.15" font-size="6.4" fill="#1f1c1d" text-anchor="middle" textLength="14.9" lengthAdjust="spacingAndGlyphs">77.41</text>
<text x="493.63" y="810.25" font-size="6.7" fill="#fff3e2" text-anchor="middle" textLength="12.8" lengthAdjust="spacingAndGlyphs">4500</text>
<text x="493.63" y="821.55" font-size="5.9" fill="#1f1c1d" text-anchor="middle" textLength="11.9" lengthAdjust="spacingAndGlyphs">5199</text>
<text x="493.63" y="830.15" font-size="6.4" fill="#1f1c1d" text-anchor="middle" textLength="14.9" lengthAdjust="spacingAndGlyphs">78.65</text>
<text x="510.77" y="810.25" font-size="6.7" fill="#fff3e2" text-anchor="middle" textLength="12.8" lengthAdjust="spacingAndGlyphs">4600</text>
<text x="510.77" y="821.55" font-size="5.9" fill="#1f1c1d" text-anchor="middle" textLength="11.9" lengthAdjust="spacingAndGlyphs">5299</text>
<text x="510.77" y="830.15" font-size="6.4" fill="#1f1c1d" text-anchor="middle" textLength="14.9" lengthAdjust="spacingAndGlyphs">79.89</text>
<text x="527.9" y="810.25" font-size="6.7" fill="#fff3e2" text-anchor="middle" textLength="12.8" lengthAdjust="spacingAndGlyphs">4700</text>
<text x="527.9" y="821.55" font-size="5.9" fill="#1f1c1d" text-anchor="middle" textLength="11.9" lengthAdjust="spacingAndGlyphs">5399</text>
<text x="527.9" y="830.15" font-size="6.4" fill="#1f1c1d" text-anchor="middle" textLength="14.9" lengthAdjust="spacingAndGlyphs">81.13</text>
<text x="545.03" y="810.25" font-size="6.7" fill="#fff3e2" text-anchor="middle" textLength="12.8" lengthAdjust="spacingAndGlyphs">4800</text>
<text x="545.03" y="821.55" font-size="5.9" fill="#1f1c1d" text-anchor="middle" textLength="11.9" lengthAdjust="spacingAndGlyphs">5499</text>
<text x="545.03" y="830.15" font-size="6.4" fill="#1f1c1d" text-anchor="middle" textLength="14.9" lengthAdjust="spacingAndGlyphs">82.37</text>
<line x1="142.4" y1="799.75" x2="142.4" y2="814.75" stroke="#b97a35" stroke-width="0.5"/>
<line x1="142.4" y1="814.75" x2="142.4" y2="831.65" stroke="#77787a" stroke-width="0.45"/>
<line x1="159.53" y1="799.75" x2="159.53" y2="814.75" stroke="#b97a35" stroke-width="0.5"/>
<line x1="159.53" y1="814.75" x2="159.53" y2="831.65" stroke="#77787a" stroke-width="0.45"/>
<line x1="176.67" y1="799.75" x2="176.67" y2="814.75" stroke="#b97a35" stroke-width="0.5"/>
<line x1="176.67" y1="814.75" x2="176.67" y2="831.65" stroke="#77787a" stroke-width="0.45"/>
<line x1="193.8" y1="799.75" x2="193.8" y2="814.75" stroke="#b97a35" stroke-width="0.5"/>
<line x1="193.8" y1="814.75" x2="193.8" y2="831.65" stroke="#77787a" stroke-width="0.45"/>
<line x1="210.93" y1="799.75" x2="210.93" y2="814.75" stroke="#b97a35" stroke-width="0.5"/>
<line x1="210.93" y1="814.75" x2="210.93" y2="831.65" stroke="#77787a" stroke-width="0.45"/>
<line x1="228.07" y1="799.75" x2="228.07" y2="814.75" stroke="#b97a35" stroke-width="0.5"/>
<line x1="228.07" y1="814.75" x2="228.07" y2="831.65" stroke="#77787a" stroke-width="0.45"/>
<line x1="245.2" y1="799.75" x2="245.2" y2="814.75" stroke="#b97a35" stroke-width="0.5"/>
<line x1="245.2" y1="814.75" x2="245.2" y2="831.65" stroke="#77787a" stroke-width="0.45"/>
<line x1="262.33" y1="799.75" x2="262.33" y2="814.75" stroke="#b97a35" stroke-width="0.5"/>
<line x1="262.33" y1="814.75" x2="262.33" y2="831.65" stroke="#77787a" stroke-width="0.45"/>
<line x1="279.47" y1="799.75" x2="279.47" y2="814.75" stroke="#b97a35" stroke-width="0.5"/>
<line x1="279.47" y1="814.75" x2="279.47" y2="831.65" stroke="#77787a" stroke-width="0.45"/>
<line x1="296.6" y1="799.75" x2="296.6" y2="814.75" stroke="#b97a35" stroke-width="0.5"/>
<line x1="296.6" y1="814.75" x2="296.6" y2="831.65" stroke="#77787a" stroke-width="0.45"/>
<line x1="313.73" y1="799.75" x2="313.73" y2="814.75" stroke="#b97a35" stroke-width="0.5"/>
<line x1="313.73" y1="814.75" x2="313.73" y2="831.65" stroke="#77787a" stroke-width="0.45"/>
<line x1="330.87" y1="799.75" x2="330.87" y2="814.75" stroke="#b97a35" stroke-width="0.5"/>
<line x1="330.87" y1="814.75" x2="330.87" y2="831.65" stroke="#77787a" stroke-width="0.45"/>
<line x1="348" y1="799.75" x2="348" y2="814.75" stroke="#b97a35" stroke-width="0.5"/>
<line x1="348" y1="814.75" x2="348" y2="831.65" stroke="#77787a" stroke-width="0.45"/>
<line x1="365.13" y1="799.75" x2="365.13" y2="814.75" stroke="#b97a35" stroke-width="0.5"/>
<line x1="365.13" y1="814.75" x2="365.13" y2="831.65" stroke="#77787a" stroke-width="0.45"/>
<line x1="382.27" y1="799.75" x2="382.27" y2="814.75" stroke="#b97a35" stroke-width="0.5"/>
<line x1="382.27" y1="814.75" x2="382.27" y2="831.65" stroke="#77787a" stroke-width="0.45"/>
<line x1="399.4" y1="799.75" x2="399.4" y2="814.75" stroke="#b97a35" stroke-width="0.5"/>
<line x1="399.4" y1="814.75" x2="399.4" y2="831.65" stroke="#77787a" stroke-width="0.45"/>
<line x1="416.53" y1="799.75" x2="416.53" y2="814.75" stroke="#b97a35" stroke-width="0.5"/>
<line x1="416.53" y1="814.75" x2="416.53" y2="831.65" stroke="#77787a" stroke-width="0.45"/>
<line x1="433.67" y1="799.75" x2="433.67" y2="814.75" stroke="#b97a35" stroke-width="0.5"/>
<line x1="433.67" y1="814.75" x2="433.67" y2="831.65" stroke="#77787a" stroke-width="0.45"/>
<line x1="450.8" y1="799.75" x2="450.8" y2="814.75" stroke="#b97a35" stroke-width="0.5"/>
<line x1="450.8" y1="814.75" x2="450.8" y2="831.65" stroke="#77787a" stroke-width="0.45"/>
<line x1="467.93" y1="799.75" x2="467.93" y2="814.75" stroke="#b97a35" stroke-width="0.5"/>
<line x1="467.93" y1="814.75" x2="467.93" y2="831.65" stroke="#77787a" stroke-width="0.45"/>
<line x1="485.07" y1="799.75" x2="485.07" y2="814.75" stroke="#b97a35" stroke-width="0.5"/>
<line x1="485.07" y1="814.75" x2="485.07" y2="831.65" stroke="#77787a" stroke-width="0.45"/>
<line x1="502.2" y1="799.75" x2="502.2" y2="814.75" stroke="#b97a35" stroke-width="0.5"/>
<line x1="502.2" y1="814.75" x2="502.2" y2="831.65" stroke="#77787a" stroke-width="0.45"/>
<line x1="519.33" y1="799.75" x2="519.33" y2="814.75" stroke="#b97a35" stroke-width="0.5"/>
<line x1="519.33" y1="814.75" x2="519.33" y2="831.65" stroke="#77787a" stroke-width="0.45"/>
<line x1="536.47" y1="799.75" x2="536.47" y2="814.75" stroke="#b97a35" stroke-width="0.5"/>
<line x1="536.47" y1="814.75" x2="536.47" y2="831.65" stroke="#77787a" stroke-width="0.45"/>
<line x1="553.6" y1="799.75" x2="553.6" y2="814.75" stroke="#b97a35" stroke-width="0.5"/>
<line x1="553.6" y1="814.75" x2="553.6" y2="831.65" stroke="#77787a" stroke-width="0.45"/>
<line x1="104.3" y1="814.75" x2="553.6" y2="814.75" stroke="#8a8a8c" stroke-width="0.5"/>
<line x1="104.3" y1="823.3" x2="553.6" y2="823.3" stroke="#6d6e70" stroke-width="0.5"/>
<line x1="104.3" y1="831.65" x2="553.6" y2="831.65" stroke="#4d4d4f" stroke-width="0.9"/>
<line x1="104.3" y1="799.95" x2="553.6" y2="799.95" stroke="#d98a35" stroke-width="0.5"/>
<g transform="translate(0 0)">
<g transform="translate(0 0)">
<text x="109.8" y="206.4" font-size="7" fill="#e3333d" text-anchor="middle" textLength="29.6" lengthAdjust="spacingAndGlyphs">A-A View</text>
<rect x="89.5" y="210.2" width="37.6" height="7.4" fill="#e5e6e7" stroke="#2d2d2d" stroke-width="0.8" rx="1.5"/>
<rect x="127.2" y="213.9" width="2.8" height="2.1" fill="#777" stroke="#2d2d2d" stroke-width="0.4"/>
<path d="M90.2 218.4h36.8q1 0 1 1v34.2q0 1-1 1h-36.8q-1 0-1-1v-34.2q0-1 1-1z" fill="#e5e6e7" stroke="#2d2d2d" stroke-width="0.8"/>
<path d="M89.2 224.4h1.4 v-1.4 h2.6 v4.6 h-2.6 v-1.4 h-1.4" fill="#fff" stroke="#2d2d2d" stroke-width="0.55"/>
<path d="M89.2 245.3h1.4 v-1.4 h2.6 v4.6 h-2.6 v-1.4 h-1.4" fill="#fff" stroke="#2d2d2d" stroke-width="0.55"/>
<path d="M128 224.6h-1.4 v-1.4 h-2.6 v4.6 h2.6 v-1.4 h1.4" fill="#fff" stroke="#2d2d2d" stroke-width="0.55"/>
<path d="M128 245.3h-1.4 v-1.4 h-2.6 v4.6 h2.6 v-1.4 h1.4" fill="#fff" stroke="#2d2d2d" stroke-width="0.55"/>
<path d="M93.3 254.6v-1.4 h-1.4 v-2.4 h4.6 v2.4 h-1.4 v1.4" fill="#fff" stroke="#2d2d2d" stroke-width="0.55"/>
<path d="M122.1 254.6v-1.4 h-1.4 v-2.4 h4.6 v2.4 h-1.4 v1.4" fill="#fff" stroke="#2d2d2d" stroke-width="0.55"/>
<line x1="108.8" y1="209.4" x2="108.8" y2="255.4" stroke="#2d2d2d" stroke-width="0.45" stroke-dasharray="5 1.2 1.2 1.2"/>
<circle cx="92.8" cy="225.8" r="4.5" fill="none" stroke="#6cc04a" stroke-width="0.85"/>
<circle cx="126" cy="230.1" r="2.4" fill="none" stroke="#f7941d" stroke-width="0.9"/>
<circle cx="125.6" cy="246.2" r="4.2" fill="none" stroke="#29abe2" stroke-width="0.85"/>
<text x="84" y="223.2" font-size="5.8" fill="#6cc04a">D</text>
<text x="129.6" y="228.2" font-size="5.8" fill="#f7941d">C</text>
<text x="126.6" y="262.2" font-size="5.8" fill="#29abe2">B</text>
<line x1="82.3" y1="225.5" x2="82.3" y2="246.2" stroke="#4a4a4a" stroke-width="0.4"/>
<polygon points="82.3,225.5 81.75,227.7 82.85,227.7" fill="#4a4a4a"/>
<polygon points="82.3,246.2 81.75,244 82.85,244" fill="#4a4a4a"/>
<line x1="81.5" y1="225.5" x2="89" y2="225.5" stroke="#4a4a4a" stroke-width="0.4"/>
<line x1="81.5" y1="246.2" x2="89" y2="246.2" stroke="#4a4a4a" stroke-width="0.4"/>
<line x1="82.3" y1="246.2" x2="82.3" y2="254.6" stroke="#4a4a4a" stroke-width="0.4"/>
<line x1="81.5" y1="254.6" x2="89" y2="254.6" stroke="#4a4a4a" stroke-width="0.4"/>
<text x="81.27" y="236" font-size="6.3" fill="#2b2829" text-anchor="middle" transform="rotate(-90 81.27 236)">60</text>
<text x="81.27" y="250.2" font-size="6.3" fill="#2b2829" text-anchor="middle" transform="rotate(-90 81.27 250.2)">25</text>
<line x1="136.5" y1="230.2" x2="136.5" y2="254.6" stroke="#4a4a4a" stroke-width="0.4"/>
<polygon points="136.5,230.2 135.95,232.4 137.05,232.4" fill="#4a4a4a"/>
<polygon points="136.5,254.6 135.95,252.4 137.05,252.4" fill="#4a4a4a"/>
<line x1="128.3" y1="230.2" x2="137.3" y2="230.2" stroke="#4a4a4a" stroke-width="0.4"/>
<line x1="128.3" y1="254.6" x2="137.3" y2="254.6" stroke="#4a4a4a" stroke-width="0.4"/>
<text x="134.77" y="237.6" font-size="6.3" fill="#2b2829" text-anchor="middle" transform="rotate(-90 134.77 237.6)">72</text>
<line x1="75.5" y1="265.1" x2="123.2" y2="265.1" stroke="#4a4a4a" stroke-width="0.4"/>
<polygon points="93.3,265.1 95.5,264.55 95.5,265.65" fill="#4a4a4a"/>
<polygon points="123.2,265.1 121,264.55 121,265.65" fill="#4a4a4a"/>
<polygon points="89.2,265.1 87,264.55 87,265.65" fill="#4a4a4a"/>
<line x1="89.2" y1="255" x2="89.2" y2="266" stroke="#4a4a4a" stroke-width="0.4"/>
<line x1="93.3" y1="255" x2="93.3" y2="266" stroke="#4a4a4a" stroke-width="0.4"/>
<line x1="123.2" y1="255" x2="123.2" y2="266" stroke="#4a4a4a" stroke-width="0.4"/>
<text x="81.2" y="264.27" font-size="6.3" fill="#2b2829" text-anchor="middle">12.5</text>
<text x="108.4" y="264.27" font-size="6.3" fill="#2b2829" text-anchor="middle">85</text>
</g>
<text x="160.3" y="206" font-size="7" fill="#f7941d" text-anchor="middle" textLength="22.8" lengthAdjust="spacingAndGlyphs">C View</text>
<g transform="translate(0 0)">
<text x="160.4" y="215.87" font-size="6.3" fill="#2b2829" text-anchor="middle">3</text>
<line x1="154" y1="216.9" x2="166.6" y2="216.9" stroke="#4a4a4a" stroke-width="0.4"/>
<text x="171.6" y="219.47" font-size="6.3" fill="#2b2829" text-anchor="middle">3.5</text>
<line x1="163" y1="220.3" x2="176.2" y2="220.3" stroke="#4a4a4a" stroke-width="0.4"/>
<text x="145.27" y="225.8" font-size="6.3" fill="#2b2829" text-anchor="middle" transform="rotate(-90 145.27 225.8)">5.7</text>
<line x1="146.5" y1="219.2" x2="146.5" y2="232.8" stroke="#4a4a4a" stroke-width="0.4"/>
<text x="152.02" y="225.8" font-size="5.6" fill="#2b2829" text-anchor="middle" transform="rotate(-90 152.02 225.8)">3</text>
<line x1="153.4" y1="221.8" x2="153.4" y2="229.8" stroke="#4a4a4a" stroke-width="0.4"/>
<line x1="145.5" y1="219.2" x2="158" y2="219.2" stroke="#4a4a4a" stroke-width="0.35"/>
<line x1="145.5" y1="232.6" x2="158" y2="232.6" stroke="#4a4a4a" stroke-width="0.35"/>
<line x1="152.6" y1="222.6" x2="158.4" y2="222.6" stroke="#4a4a4a" stroke-width="0.35"/>
<line x1="152.6" y1="229.1" x2="158.4" y2="229.1" stroke="#4a4a4a" stroke-width="0.35"/>
<line x1="157.5" y1="215.8" x2="157.5" y2="245.8" stroke="#4a4a4a" stroke-width="0.4"/>
<line x1="163" y1="215.8" x2="163" y2="245.8" stroke="#4a4a4a" stroke-width="0.4"/>
<line x1="164.6" y1="219" x2="164.6" y2="238.2" stroke="#4a4a4a" stroke-width="0.35"/>
<path d="M164.5 218.3v3.6q0 .9-.9.9h-4.4q-1 0-1 1v4.3q0 1 1 1h4.4q.9 0 .9.9v2.6" fill="none" stroke="#1f1f1f" stroke-width="1"/>
<text x="169.3" y="237.67" font-size="6.3" fill="#2b2829" text-anchor="middle">1.8</text>
<line x1="163" y1="238.3" x2="173.6" y2="238.3" stroke="#4a4a4a" stroke-width="0.4"/>
<text x="169.3" y="244.67" font-size="6.3" fill="#2b2829" text-anchor="middle">5.5</text>
<line x1="154" y1="245.2" x2="174.2" y2="245.2" stroke="#4a4a4a" stroke-width="0.4"/>
</g>
<text x="159.2" y="263.9" font-size="7" fill="#6cc04a" text-anchor="middle" textLength="22.4" lengthAdjust="spacingAndGlyphs">D View</text>
<text x="159.2" y="273.07" font-size="6.3" fill="#2b2829" text-anchor="middle">19.1</text>
<line x1="155" y1="274.4" x2="165.2" y2="274.4" stroke="#4a4a4a" stroke-width="0.4"/>
<text x="147.2" y="279.97" font-size="6.3" fill="#2b2829" text-anchor="middle">15.6</text>
<line x1="141" y1="280.5" x2="165.2" y2="280.5" stroke="#4a4a4a" stroke-width="0.4"/>
<text x="173.4" y="283.47" font-size="6.3" fill="#2b2829" text-anchor="middle">5.7</text>
<line x1="166" y1="284.4" x2="178.2" y2="284.4" stroke="#4a4a4a" stroke-width="0.4"/>
<text x="132.47" y="290.6" font-size="6.3" fill="#2b2829" text-anchor="middle" transform="rotate(-90 132.47 290.6)">14.4</text>
<line x1="134.4" y1="284" x2="134.4" y2="299.2" stroke="#4a4a4a" stroke-width="0.4"/>
<text x="140.02" y="301.4" font-size="5.6" fill="#2b2829" text-anchor="middle" transform="rotate(-90 140.02 301.4)">8.2</text>
<line x1="141.2" y1="294" x2="141.2" y2="305" stroke="#4a4a4a" stroke-width="0.35"/>
<text x="145.8" y="286.2" font-size="3.4" fill="#2b2829" text-anchor="middle">60°</text>
<line x1="133.6" y1="284" x2="156" y2="284" stroke="#4a4a4a" stroke-width="0.35"/>
<line x1="133.6" y1="299.2" x2="156" y2="299.2" stroke="#4a4a4a" stroke-width="0.35"/>
<line x1="140.4" y1="294.3" x2="156" y2="294.3" stroke="#4a4a4a" stroke-width="0.35"/>
<text x="175.2" y="298.87" font-size="6.3" fill="#2b2829" text-anchor="middle">6.7</text>
<line x1="165" y1="293.2" x2="180" y2="293.2" stroke="#4a4a4a" stroke-width="0.35"/>
<line x1="170.4" y1="299.7" x2="180" y2="299.7" stroke="#4a4a4a" stroke-width="0.35"/>
<text x="148.6" y="302.87" font-size="6.3" fill="#2b2829" text-anchor="middle">4.9</text>
<line x1="143.8" y1="303.5" x2="155" y2="303.5" stroke="#4a4a4a" stroke-width="0.4"/>
<text x="168.2" y="307.67" font-size="6.3" fill="#2b2829" text-anchor="middle">11.1</text>
<line x1="161" y1="308.2" x2="174.2" y2="308.2" stroke="#4a4a4a" stroke-width="0.4"/>
<text x="165.8" y="314.67" font-size="6.3" fill="#2b2829" text-anchor="middle">12</text>
<line x1="151" y1="315.5" x2="169.4" y2="315.5" stroke="#4a4a4a" stroke-width="0.4"/>
<line x1="155" y1="273.6" x2="155" y2="315.5" stroke="#4a4a4a" stroke-width="0.4"/>
<line x1="161" y1="273.6" x2="161" y2="315.5" stroke="#4a4a4a" stroke-width="0.4"/>
<line x1="165.2" y1="273.6" x2="165.2" y2="284.6" stroke="#4a4a4a" stroke-width="0.35"/>
<line x1="151.2" y1="303.5" x2="151.2" y2="315.5" stroke="#4a4a4a" stroke-width="0.35"/>
<path d="M155.6 285.6v2.2q0 .8.8.8h.9q.6-1.6 2.3-1.6 2.2 0 2.2 2.3 0 2.3-2.2 2.3-1.7 0-2.3-1.5h-.9q-.8 0-.8.8v3" fill="none" stroke="#1f1f1f" stroke-width="1"/>
<line x1="162" y1="289.3" x2="170.5" y2="289.3" stroke="#4a4a4a" stroke-width="0.5"/>
<text x="103.8" y="275.8" font-size="7" fill="#29abe2" text-anchor="middle" textLength="22.2" lengthAdjust="spacingAndGlyphs">B View</text>
<text x="103.6" y="285.67" font-size="6.3" fill="#2b2829" text-anchor="middle">12</text>
<line x1="99" y1="286.2" x2="108.2" y2="286.2" stroke="#4a4a4a" stroke-width="0.4"/>
<text x="118" y="286.67" font-size="6.3" fill="#2b2829" text-anchor="middle">8.2</text>
<line x1="111.4" y1="287.2" x2="122.6" y2="287.2" stroke="#4a4a4a" stroke-width="0.4"/>
<text x="87.27" y="296" font-size="6.3" fill="#2b2829" text-anchor="middle" transform="rotate(-90 87.27 296)">14.4</text>
<line x1="89" y1="288" x2="89" y2="303.4" stroke="#4a4a4a" stroke-width="0.4"/>
<text x="94.42" y="296" font-size="5.6" fill="#2b2829" text-anchor="middle" transform="rotate(-90 94.42 296)">8</text>
<line x1="96" y1="291" x2="96" y2="300.2" stroke="#4a4a4a" stroke-width="0.35"/>
<line x1="88.2" y1="288" x2="101.6" y2="288" stroke="#4a4a4a" stroke-width="0.35"/>
<line x1="88.2" y1="303.3" x2="101.6" y2="303.3" stroke="#4a4a4a" stroke-width="0.35"/>
<line x1="95.2" y1="291.2" x2="101.6" y2="291.2" stroke="#4a4a4a" stroke-width="0.35"/>
<line x1="95.2" y1="300" x2="101.6" y2="300" stroke="#4a4a4a" stroke-width="0.35"/>
<line x1="101.2" y1="285.4" x2="101.2" y2="315.8" stroke="#4a4a4a" stroke-width="0.4"/>
<line x1="106.8" y1="285.4" x2="106.8" y2="315.8" stroke="#4a4a4a" stroke-width="0.4"/>
<line x1="111.6" y1="286.4" x2="111.6" y2="296" stroke="#4a4a4a" stroke-width="0.35"/>
<path d="M107.2 289.4v1.6q0 .8-.8.8h-3q-1.6 0-1.6 1.6v4.4q0 1.6 1.6 1.6h3q.8 0 .8.8v2.6" fill="none" stroke="#1f1f1f" stroke-width="1"/>
<line x1="104" y1="295.6" x2="112" y2="295.6" stroke="#4a4a4a" stroke-width="0.35"/>
<text x="113.6" y="308.67" font-size="6.3" fill="#2b2829" text-anchor="middle">4.9</text>
<line x1="106.8" y1="309.2" x2="118.4" y2="309.2" stroke="#4a4a4a" stroke-width="0.4"/>
<text x="114.4" y="315.07" font-size="6.3" fill="#2b2829" text-anchor="middle">11.1</text>
<line x1="98" y1="315.7" x2="120.2" y2="315.7" stroke="#4a4a4a" stroke-width="0.4"/>
</g>
<g transform="translate(10 341)">
<g transform="translate(0 1.1)">
<text x="109.8" y="206.4" font-size="7" fill="#e3333d" text-anchor="middle" textLength="29.6" lengthAdjust="spacingAndGlyphs">A-A View</text>
<rect x="89.5" y="210.2" width="37.6" height="7.4" fill="#e5e6e7" stroke="#2d2d2d" stroke-width="0.8" rx="1.5"/>
<rect x="127.2" y="213.9" width="2.8" height="2.1" fill="#777" stroke="#2d2d2d" stroke-width="0.4"/>
<path d="M90.2 218.4h36.8q1 0 1 1v34.2q0 1-1 1h-36.8q-1 0-1-1v-34.2q0-1 1-1z" fill="#e5e6e7" stroke="#2d2d2d" stroke-width="0.8"/>
<path d="M89.2 224.4h1.4 v-1.4 h2.6 v4.6 h-2.6 v-1.4 h-1.4" fill="#fff" stroke="#2d2d2d" stroke-width="0.55"/>
<path d="M89.2 245.3h1.4 v-1.4 h2.6 v4.6 h-2.6 v-1.4 h-1.4" fill="#fff" stroke="#2d2d2d" stroke-width="0.55"/>
<path d="M128 224.6h-1.4 v-1.4 h-2.6 v4.6 h2.6 v-1.4 h1.4" fill="#fff" stroke="#2d2d2d" stroke-width="0.55"/>
<path d="M128 245.3h-1.4 v-1.4 h-2.6 v4.6 h2.6 v-1.4 h1.4" fill="#fff" stroke="#2d2d2d" stroke-width="0.55"/>
<path d="M93.3 254.6v-1.4 h-1.4 v-2.4 h4.6 v2.4 h-1.4 v1.4" fill="#fff" stroke="#2d2d2d" stroke-width="0.55"/>
<path d="M122.1 254.6v-1.4 h-1.4 v-2.4 h4.6 v2.4 h-1.4 v1.4" fill="#fff" stroke="#2d2d2d" stroke-width="0.55"/>
<line x1="108.8" y1="209.4" x2="108.8" y2="255.4" stroke="#2d2d2d" stroke-width="0.45" stroke-dasharray="5 1.2 1.2 1.2"/>
<circle cx="92.8" cy="225.8" r="4.5" fill="none" stroke="#6cc04a" stroke-width="0.85"/>
<circle cx="126" cy="230.1" r="2.4" fill="none" stroke="#f7941d" stroke-width="0.9"/>
<circle cx="125.6" cy="246.2" r="4.2" fill="none" stroke="#29abe2" stroke-width="0.85"/>
<text x="84" y="223.2" font-size="5.8" fill="#6cc04a">D</text>
<text x="129.6" y="228.2" font-size="5.8" fill="#f7941d">C</text>
<text x="126.6" y="262.2" font-size="5.8" fill="#29abe2">B</text>
<line x1="82.3" y1="225.5" x2="82.3" y2="246.2" stroke="#4a4a4a" stroke-width="0.4"/>
<polygon points="82.3,225.5 81.75,227.7 82.85,227.7" fill="#4a4a4a"/>
<polygon points="82.3,246.2 81.75,244 82.85,244" fill="#4a4a4a"/>
<line x1="81.5" y1="225.5" x2="89" y2="225.5" stroke="#4a4a4a" stroke-width="0.4"/>
<line x1="81.5" y1="246.2" x2="89" y2="246.2" stroke="#4a4a4a" stroke-width="0.4"/>
<line x1="82.3" y1="246.2" x2="82.3" y2="254.6" stroke="#4a4a4a" stroke-width="0.4"/>
<line x1="81.5" y1="254.6" x2="89" y2="254.6" stroke="#4a4a4a" stroke-width="0.4"/>
<text x="81.27" y="236" font-size="6.3" fill="#2b2829" text-anchor="middle" transform="rotate(-90 81.27 236)">60</text>
<text x="81.27" y="250.2" font-size="6.3" fill="#2b2829" text-anchor="middle" transform="rotate(-90 81.27 250.2)">25</text>
<line x1="136.5" y1="230.2" x2="136.5" y2="254.6" stroke="#4a4a4a" stroke-width="0.4"/>
<polygon points="136.5,230.2 135.95,232.4 137.05,232.4" fill="#4a4a4a"/>
<polygon points="136.5,254.6 135.95,252.4 137.05,252.4" fill="#4a4a4a"/>
<line x1="128.3" y1="230.2" x2="137.3" y2="230.2" stroke="#4a4a4a" stroke-width="0.4"/>
<line x1="128.3" y1="254.6" x2="137.3" y2="254.6" stroke="#4a4a4a" stroke-width="0.4"/>
<text x="134.77" y="237.6" font-size="6.3" fill="#2b2829" text-anchor="middle" transform="rotate(-90 134.77 237.6)">72</text>
<line x1="75.5" y1="265.1" x2="123.2" y2="265.1" stroke="#4a4a4a" stroke-width="0.4"/>
<polygon points="93.3,265.1 95.5,264.55 95.5,265.65" fill="#4a4a4a"/>
<polygon points="123.2,265.1 121,264.55 121,265.65" fill="#4a4a4a"/>
<polygon points="89.2,265.1 87,264.55 87,265.65" fill="#4a4a4a"/>
<line x1="89.2" y1="255" x2="89.2" y2="266" stroke="#4a4a4a" stroke-width="0.4"/>
<line x1="93.3" y1="255" x2="93.3" y2="266" stroke="#4a4a4a" stroke-width="0.4"/>
<line x1="123.2" y1="255" x2="123.2" y2="266" stroke="#4a4a4a" stroke-width="0.4"/>
<text x="81.2" y="264.27" font-size="6.3" fill="#2b2829" text-anchor="middle">12.5</text>
<text x="108.4" y="264.27" font-size="6.3" fill="#2b2829" text-anchor="middle">85</text>
</g>
<text x="160.3" y="207.1" font-size="7" fill="#f7941d" text-anchor="middle" textLength="22.8" lengthAdjust="spacingAndGlyphs">C View</text>
<g transform="translate(-3 -0.8)">
<text x="160.4" y="215.87" font-size="6.3" fill="#2b2829" text-anchor="middle">3</text>
<line x1="154" y1="216.9" x2="166.6" y2="216.9" stroke="#4a4a4a" stroke-width="0.4"/>
<text x="171.6" y="219.47" font-size="6.3" fill="#2b2829" text-anchor="middle">3.5</text>
<line x1="163" y1="220.3" x2="176.2" y2="220.3" stroke="#4a4a4a" stroke-width="0.4"/>
<text x="145.27" y="225.8" font-size="6.3" fill="#2b2829" text-anchor="middle" transform="rotate(-90 145.27 225.8)">5.7</text>
<line x1="146.5" y1="219.2" x2="146.5" y2="232.8" stroke="#4a4a4a" stroke-width="0.4"/>
<text x="152.02" y="225.8" font-size="5.6" fill="#2b2829" text-anchor="middle" transform="rotate(-90 152.02 225.8)">3</text>
<line x1="153.4" y1="221.8" x2="153.4" y2="229.8" stroke="#4a4a4a" stroke-width="0.4"/>
<line x1="145.5" y1="219.2" x2="158" y2="219.2" stroke="#4a4a4a" stroke-width="0.35"/>
<line x1="145.5" y1="232.6" x2="158" y2="232.6" stroke="#4a4a4a" stroke-width="0.35"/>
<line x1="152.6" y1="222.6" x2="158.4" y2="222.6" stroke="#4a4a4a" stroke-width="0.35"/>
<line x1="152.6" y1="229.1" x2="158.4" y2="229.1" stroke="#4a4a4a" stroke-width="0.35"/>
<line x1="157.5" y1="215.8" x2="157.5" y2="245.8" stroke="#4a4a4a" stroke-width="0.4"/>
<line x1="163" y1="215.8" x2="163" y2="245.8" stroke="#4a4a4a" stroke-width="0.4"/>
<line x1="164.6" y1="219" x2="164.6" y2="238.2" stroke="#4a4a4a" stroke-width="0.35"/>
<path d="M164.5 218.3v3.6q0 .9-.9.9h-4.4q-1 0-1 1v4.3q0 1 1 1h4.4q.9 0 .9.9v2.6" fill="none" stroke="#1f1f1f" stroke-width="1"/>
<text x="169.3" y="237.67" font-size="6.3" fill="#2b2829" text-anchor="middle">1.8</text>
<line x1="163" y1="238.3" x2="173.6" y2="238.3" stroke="#4a4a4a" stroke-width="0.4"/>
<text x="169.3" y="244.67" font-size="6.3" fill="#2b2829" text-anchor="middle">5.5</text>
<line x1="154" y1="245.2" x2="174.2" y2="245.2" stroke="#4a4a4a" stroke-width="0.4"/>
</g>
<text x="159.2" y="263.9" font-size="7" fill="#6cc04a" text-anchor="middle" textLength="22.4" lengthAdjust="spacingAndGlyphs">D View</text>
<text x="159.2" y="273.07" font-size="6.3" fill="#2b2829" text-anchor="middle">19.1</text>
<line x1="155" y1="274.4" x2="165.2" y2="274.4" stroke="#4a4a4a" stroke-width="0.4"/>
<text x="147.2" y="279.97" font-size="6.3" fill="#2b2829" text-anchor="middle">15.6</text>
<line x1="141" y1="280.5" x2="165.2" y2="280.5" stroke="#4a4a4a" stroke-width="0.4"/>
<text x="173.4" y="283.47" font-size="6.3" fill="#2b2829" text-anchor="middle">5.7</text>
<line x1="166" y1="284.4" x2="178.2" y2="284.4" stroke="#4a4a4a" stroke-width="0.4"/>
<text x="132.47" y="290.6" font-size="6.3" fill="#2b2829" text-anchor="middle" transform="rotate(-90 132.47 290.6)">14.4</text>
<line x1="134.4" y1="284" x2="134.4" y2="299.2" stroke="#4a4a4a" stroke-width="0.4"/>
<text x="140.02" y="301.4" font-size="5.6" fill="#2b2829" text-anchor="middle" transform="rotate(-90 140.02 301.4)">8.2</text>
<line x1="141.2" y1="294" x2="141.2" y2="305" stroke="#4a4a4a" stroke-width="0.35"/>
<text x="145.8" y="286.2" font-size="3.4" fill="#2b2829" text-anchor="middle">60°</text>
<line x1="133.6" y1="284" x2="156" y2="284" stroke="#4a4a4a" stroke-width="0.35"/>
<line x1="133.6" y1="299.2" x2="156" y2="299.2" stroke="#4a4a4a" stroke-width="0.35"/>
<line x1="140.4" y1="294.3" x2="156" y2="294.3" stroke="#4a4a4a" stroke-width="0.35"/>
<text x="175.2" y="298.87" font-size="6.3" fill="#2b2829" text-anchor="middle">6.7</text>
<line x1="165" y1="293.2" x2="180" y2="293.2" stroke="#4a4a4a" stroke-width="0.35"/>
<line x1="170.4" y1="299.7" x2="180" y2="299.7" stroke="#4a4a4a" stroke-width="0.35"/>
<text x="148.6" y="302.87" font-size="6.3" fill="#2b2829" text-anchor="middle">4.9</text>
<line x1="143.8" y1="303.5" x2="155" y2="303.5" stroke="#4a4a4a" stroke-width="0.4"/>
<text x="168.2" y="307.67" font-size="6.3" fill="#2b2829" text-anchor="middle">11.1</text>
<line x1="161" y1="308.2" x2="174.2" y2="308.2" stroke="#4a4a4a" stroke-width="0.4"/>
<text x="165.8" y="314.67" font-size="6.3" fill="#2b2829" text-anchor="middle">12</text>
<line x1="151" y1="315.5" x2="169.4" y2="315.5" stroke="#4a4a4a" stroke-width="0.4"/>
<line x1="155" y1="273.6" x2="155" y2="315.5" stroke="#4a4a4a" stroke-width="0.4"/>
<line x1="161" y1="273.6" x2="161" y2="315.5" stroke="#4a4a4a" stroke-width="0.4"/>
<line x1="165.2" y1="273.6" x2="165.2" y2="284.6" stroke="#4a4a4a" stroke-width="0.35"/>
<line x1="151.2" y1="303.5" x2="151.2" y2="315.5" stroke="#4a4a4a" stroke-width="0.35"/>
<path d="M155.6 285.6v2.2q0 .8.8.8h.9q.6-1.6 2.3-1.6 2.2 0 2.2 2.3 0 2.3-2.2 2.3-1.7 0-2.3-1.5h-.9q-.8 0-.8.8v3" fill="none" stroke="#1f1f1f" stroke-width="1"/>
<line x1="162" y1="289.3" x2="170.5" y2="289.3" stroke="#4a4a4a" stroke-width="0.5"/>
<text x="103.8" y="275.8" font-size="7" fill="#29abe2" text-anchor="middle" textLength="22.2" lengthAdjust="spacingAndGlyphs">B View</text>
<text x="103.6" y="285.67" font-size="6.3" fill="#2b2829" text-anchor="middle">12</text>
<line x1="99" y1="286.2" x2="108.2" y2="286.2" stroke="#4a4a4a" stroke-width="0.4"/>
<text x="118" y="286.67" font-size="6.3" fill="#2b2829" text-anchor="middle">8.2</text>
<line x1="111.4" y1="287.2" x2="122.6" y2="287.2" stroke="#4a4a4a" stroke-width="0.4"/>
<text x="87.27" y="296" font-size="6.3" fill="#2b2829" text-anchor="middle" transform="rotate(-90 87.27 296)">14.4</text>
<line x1="89" y1="288" x2="89" y2="303.4" stroke="#4a4a4a" stroke-width="0.4"/>
<text x="94.42" y="296" font-size="5.6" fill="#2b2829" text-anchor="middle" transform="rotate(-90 94.42 296)">8</text>
<line x1="96" y1="291" x2="96" y2="300.2" stroke="#4a4a4a" stroke-width="0.35"/>
<line x1="88.2" y1="288" x2="101.6" y2="288" stroke="#4a4a4a" stroke-width="0.35"/>
<line x1="88.2" y1="303.3" x2="101.6" y2="303.3" stroke="#4a4a4a" stroke-width="0.35"/>
<line x1="95.2" y1="291.2" x2="101.6" y2="291.2" stroke="#4a4a4a" stroke-width="0.35"/>
<line x1="95.2" y1="300" x2="101.6" y2="300" stroke="#4a4a4a" stroke-width="0.35"/>
<line x1="101.2" y1="285.4" x2="101.2" y2="315.8" stroke="#4a4a4a" stroke-width="0.4"/>
<line x1="106.8" y1="285.4" x2="106.8" y2="315.8" stroke="#4a4a4a" stroke-width="0.4"/>
<line x1="111.6" y1="286.4" x2="111.6" y2="296" stroke="#4a4a4a" stroke-width="0.35"/>
<path d="M107.2 289.4v1.6q0 .8-.8.8h-3q-1.6 0-1.6 1.6v4.4q0 1.6 1.6 1.6h3q.8 0 .8.8v2.6" fill="none" stroke="#1f1f1f" stroke-width="1"/>
<line x1="104" y1="295.6" x2="112" y2="295.6" stroke="#4a4a4a" stroke-width="0.35"/>
<text x="113.6" y="308.67" font-size="6.3" fill="#2b2829" text-anchor="middle">4.9</text>
<line x1="106.8" y1="309.2" x2="118.4" y2="309.2" stroke="#4a4a4a" stroke-width="0.4"/>
<text x="114.4" y="315.07" font-size="6.3" fill="#2b2829" text-anchor="middle">11.1</text>
<line x1="98" y1="315.7" x2="120.2" y2="315.7" stroke="#4a4a4a" stroke-width="0.4"/>
</g>
<rect x="225.8" y="249.7" width="21.2" height="3.4" fill="#e5e6e7" stroke="#2d2d2d" stroke-width="0.6"/>
<rect x="226.5" y="253" width="19.3" height="26.2" fill="#e5e6e7" stroke="#2d2d2d" stroke-width="0.7"/>
<line x1="230.4" y1="253" x2="230.4" y2="279.2" stroke="#555" stroke-width="0.45"/>
<line x1="241.6" y1="253" x2="241.6" y2="279.2" stroke="#555" stroke-width="0.45"/>
<line x1="228.4" y1="256" x2="228.4" y2="279.2" stroke="#999" stroke-width="0.4"/>
<line x1="243.6" y1="256" x2="243.6" y2="279.2" stroke="#999" stroke-width="0.4"/>
<line x1="230.4" y1="273.5" x2="241.6" y2="273.5" stroke="#777" stroke-width="0.4"/>
<rect x="230.6" y="273.6" width="2.4" height="2.6" fill="#555"/>
<rect x="239" y="273.6" width="2.4" height="2.6" fill="#555"/>
<path d="M226.5 265.5q-2.4 1.4-2.2 3.4 1.2 1 2.2 1.6v2.2q-2.2.4-2.2 2.6 0 2.2 2.2 2.6" fill="#cfcfcf" stroke="#1f1f1f" stroke-width="0.8"/>
<rect x="225.8" y="209.8" width="21" height="13" fill="#e5e6e7" stroke="#2d2d2d" stroke-width="0.7" rx="0.6"/>
<rect x="231" y="208.9" width="2" height="0.9" fill="#444"/>
<rect x="235" y="208.9" width="2" height="0.9" fill="#444"/>
<rect x="239" y="208.9" width="2" height="0.9" fill="#444"/>
<rect x="225.8" y="222.8" width="21" height="1.8" fill="#bdbdbf" stroke="#2d2d2d" stroke-width="0.4"/>
<rect x="251.5" y="224.6" width="202.3" height="25.1" fill="#e9e9ea" stroke="#2d2d2d" stroke-width="0.7"/>
<line x1="251.5" y1="226" x2="418.8" y2="226" stroke="#a8a8aa" stroke-width="0.4"/>
<line x1="251.5" y1="228.3" x2="418.8" y2="228.3" stroke="#a8a8aa" stroke-width="0.4"/>
<line x1="251.5" y1="238" x2="418.8" y2="238" stroke="#a8a8aa" stroke-width="0.4"/>
<line x1="251.5" y1="245.6" x2="418.8" y2="245.6" stroke="#a8a8aa" stroke-width="0.4"/>
<line x1="251.5" y1="248.2" x2="418.8" y2="248.2" stroke="#a8a8aa" stroke-width="0.4"/>
<rect x="417.2" y="224.6" width="36.6" height="25.1" fill="#e5e6e7" stroke="#2d2d2d" stroke-width="0.7"/>
<rect x="222.2" y="224.6" width="29.4" height="25.1" fill="#e9e9ea" stroke="#2d2d2d" stroke-width="0.8"/>
<line x1="226.7" y1="224.6" x2="226.7" y2="249.7" stroke="#777" stroke-width="0.45"/>
<line x1="230.4" y1="224.6" x2="230.4" y2="249.7" stroke="#777" stroke-width="0.45"/>
<line x1="241.6" y1="224.6" x2="241.6" y2="249.7" stroke="#777" stroke-width="0.45"/>
<line x1="245.8" y1="224.6" x2="245.8" y2="249.7" stroke="#777" stroke-width="0.45"/>
<rect x="227.6" y="227.4" width="2.4" height="17" fill="#f6f6f6" stroke="#666" stroke-width="0.4"/>
<rect x="242.2" y="227.4" width="2.4" height="17" fill="#f6f6f6" stroke="#666" stroke-width="0.4"/>
<line x1="222.2" y1="237.4" x2="247.2" y2="237.4" stroke="#555" stroke-width="0.45"/>
<line x1="222.2" y1="226.4" x2="247.2" y2="226.4" stroke="#999" stroke-width="0.4"/>
<line x1="222.2" y1="246.2" x2="247.2" y2="246.2" stroke="#999" stroke-width="0.4"/>
<rect x="247.2" y="228.2" width="4.2" height="16.6" fill="#e0e0e0" stroke="#555" stroke-width="0.45"/>
<circle cx="249.3" cy="231.8" r="0.8" fill="#555" stroke="#2d2d2d" stroke-width="0.3"/>
<circle cx="249.3" cy="242.2" r="0.8" fill="#555" stroke="#2d2d2d" stroke-width="0.3"/>
<line x1="236.3" y1="209" x2="236.3" y2="281.5" stroke="#555" stroke-width="0.4" stroke-dasharray="5 1.2 1.2 1.2"/>
<rect x="271.9" y="224.6" width="57.2" height="23.4" fill="#e9e9ea" stroke="#2d2d2d" stroke-width="0.7"/>
<line x1="273.4" y1="224.6" x2="273.4" y2="248" stroke="#888" stroke-width="0.4"/>
<line x1="327.6" y1="224.6" x2="327.6" y2="248" stroke="#888" stroke-width="0.4"/>
<path d="M275.6 224.8q1.4 2.2 2.8 0" fill="#fff" stroke="#555" stroke-width="0.4"/>
<path d="M275.6 247.8q1.4 -2.2 2.8 0" fill="#fff" stroke="#555" stroke-width="0.4"/>
<path d="M285.2 224.8q1.4 2.2 2.8 0" fill="#fff" stroke="#555" stroke-width="0.4"/>
<path d="M285.2 247.8q1.4 -2.2 2.8 0" fill="#fff" stroke="#555" stroke-width="0.4"/>
<path d="M299 224.8q1.4 2.2 2.8 0" fill="#fff" stroke="#555" stroke-width="0.4"/>
<path d="M299 247.8q1.4 -2.2 2.8 0" fill="#fff" stroke="#555" stroke-width="0.4"/>
<path d="M313.2 224.8q1.4 2.2 2.8 0" fill="#fff" stroke="#555" stroke-width="0.4"/>
<path d="M313.2 247.8q1.4 -2.2 2.8 0" fill="#fff" stroke="#555" stroke-width="0.4"/>
<path d="M322.6 224.8q1.4 2.2 2.8 0" fill="#fff" stroke="#555" stroke-width="0.4"/>
<path d="M322.6 247.8q1.4 -2.2 2.8 0" fill="#fff" stroke="#555" stroke-width="0.4"/>
<circle cx="277" cy="226.7" r="0.75" fill="#555" stroke="#2d2d2d" stroke-width="0.3"/>
<circle cx="277" cy="246.9" r="0.75" fill="#555" stroke="#2d2d2d" stroke-width="0.3"/>
<circle cx="286.6" cy="226.7" r="0.75" fill="#555" stroke="#2d2d2d" stroke-width="0.3"/>
<circle cx="286.6" cy="246.9" r="0.75" fill="#555" stroke="#2d2d2d" stroke-width="0.3"/>
<circle cx="314.6" cy="226.7" r="0.75" fill="#555" stroke="#2d2d2d" stroke-width="0.3"/>
<circle cx="314.6" cy="246.9" r="0.75" fill="#555" stroke="#2d2d2d" stroke-width="0.3"/>
<circle cx="324" cy="226.7" r="0.75" fill="#555" stroke="#2d2d2d" stroke-width="0.3"/>
<circle cx="324" cy="246.9" r="0.75" fill="#555" stroke="#2d2d2d" stroke-width="0.3"/>
<line x1="276" y1="237.2" x2="415.8" y2="237.2" stroke="#666" stroke-width="0.45" stroke-dasharray="9 3"/>
<rect x="329.1" y="225.6" width="11.6" height="22.6" fill="#ececed" stroke="#777" stroke-width="0.45"/>
<line x1="337" y1="225.6" x2="337" y2="248.2" stroke="#888" stroke-width="0.4"/>
<rect x="418.2" y="227.8" width="4.5" height="17.6" fill="#f1f1f1" stroke="#2d2d2d" stroke-width="0.55"/>
<circle cx="420.4" cy="231.6" r="0.75" fill="#555" stroke="#2d2d2d" stroke-width="0.3"/>
<circle cx="420.4" cy="241.6" r="0.75" fill="#555" stroke="#2d2d2d" stroke-width="0.3"/>
<rect x="292.6" y="248.3" width="12.6" height="1.6" fill="#888" stroke="#2d2d2d" stroke-width="0.3"/>
<line x1="296.2" y1="249.9" x2="296.2" y2="253.7" stroke="#1f1f1f" stroke-width="0.9"/>
<line x1="295.1" y1="250.5" x2="297.3" y2="250.5" stroke="#1f1f1f" stroke-width="0.6"/>
<line x1="301.8" y1="249.9" x2="301.8" y2="253.7" stroke="#1f1f1f" stroke-width="0.9"/>
<line x1="300.7" y1="250.5" x2="302.9" y2="250.5" stroke="#1f1f1f" stroke-width="0.6"/>
<line x1="369.8" y1="250" x2="369.8" y2="255.7" stroke="#1f1f1f" stroke-width="0.9"/>
<line x1="368.2" y1="250.5" x2="371.4" y2="250.5" stroke="#1f1f1f" stroke-width="0.6"/>
<line x1="222.5" y1="172.5" x2="453.6" y2="172.5" stroke="#4a4a4a" stroke-width="0.4"/>
<polygon points="222.5,172.5 224.7,171.95 224.7,173.05" fill="#4a4a4a"/>
<polygon points="453.6,172.5 451.4,171.95 451.4,173.05" fill="#4a4a4a"/>
<text x="337.8" y="170.96" font-size="6" fill="#2b2829" text-anchor="middle">L</text>
<line x1="222.5" y1="171.6" x2="222.5" y2="224.6" stroke="#4a4a4a" stroke-width="0.4"/>
<line x1="453.6" y1="171.6" x2="453.6" y2="224.6" stroke="#4a4a4a" stroke-width="0.4"/>
<line x1="222.5" y1="187.5" x2="453.6" y2="187.5" stroke="#4a4a4a" stroke-width="0.4"/>
<polygon points="222.5,187.5 224.7,186.95 224.7,188.05" fill="#4a4a4a"/>
<polygon points="300.4,187.5 298.2,186.95 298.2,188.05" fill="#4a4a4a"/>
<polygon points="300.4,187.5 302.6,186.95 302.6,188.05" fill="#4a4a4a"/>
<polygon points="369.8,187.5 367.6,186.95 367.6,188.05" fill="#4a4a4a"/>
<polygon points="369.8,187.5 372,186.95 372,188.05" fill="#4a4a4a"/>
<polygon points="453.6,187.5 451.4,186.95 451.4,188.05" fill="#4a4a4a"/>
<line x1="300.4" y1="186.6" x2="300.4" y2="250" stroke="#4a4a4a" stroke-width="0.4"/>
<line x1="369.8" y1="186.6" x2="369.8" y2="250" stroke="#4a4a4a" stroke-width="0.4"/>
<text x="238.5" y="180" font-size="6.6" fill="#2b2829" font-weight="bold" letter-spacing="0.1">滑台原點</text>
<text x="265.4" y="179.9" font-size="6.2" fill="#2b2829">336</text>
<text x="238.5" y="185.69" font-size="5.4" fill="#9a9a9a">Origin of actuator:336</text>
<text x="315.4" y="185" font-size="6.5" fill="#2b2829" font-weight="bold">有效行程</text>
<text x="343.6" y="184.6" font-size="5.2" fill="#9a9a9a">Stroke</text>
<text x="412.3" y="184.67" font-size="6.3" fill="#2b2829" text-anchor="middle">363</text>
<text x="224" y="196.3" font-size="6.6" fill="#2b2829" font-weight="bold" letter-spacing="0.1">滑台機械極限</text>
<text x="264.3" y="196.2" font-size="6.2" fill="#2b2829">208±1</text>
<text x="224" y="201.99" font-size="5.4" fill="#9a9a9a">Mechanical limit:208±1</text>
<line x1="217" y1="204.8" x2="281" y2="204.8" stroke="#4a4a4a" stroke-width="0.4"/>
<polygon points="222.5,204.8 220.3,204.25 220.3,205.35" fill="#4a4a4a"/>
<polygon points="270.6,204.8 272.8,204.25 272.8,205.35" fill="#4a4a4a"/>
<line x1="270.6" y1="204" x2="270.6" y2="224.6" stroke="#4a4a4a" stroke-width="0.4"/>
<text x="395.8" y="196.3" font-size="6.6" fill="#2b2829" font-weight="bold" letter-spacing="0.1">滑台機械極限</text>
<text x="436.1" y="196.2" font-size="6.2" fill="#2b2829">235±1</text>
<text x="395.8" y="201.99" font-size="5.4" fill="#9a9a9a">Mechanical limit:235±1</text>
<line x1="395" y1="204.8" x2="457.5" y2="204.8" stroke="#4a4a4a" stroke-width="0.4"/>
<polygon points="399.6,204.8 397.4,204.25 397.4,205.35" fill="#4a4a4a"/>
<polygon points="453.6,204.8 455.8,204.25 455.8,205.35" fill="#4a4a4a"/>
<line x1="399.6" y1="204" x2="399.6" y2="249.7" stroke="#4a4a4a" stroke-width="0.4"/>
<text x="316.3" y="199.8" font-size="6.4" fill="#2b2829" textLength="13.8" lengthAdjust="spacingAndGlyphs">2-Ø6</text>
<path d="M330.3 195.32h2.23M331.42 195.32v1.1" fill="none" stroke="#2b2829" stroke-width="0.45"/>
<polygon points="330.3,196.22 332.53,196.22 331.42,198.42" fill="#2b2829"/>
<text x="332.83" y="199.8" font-size="6.4" fill="#2b2829" textLength="16.57" lengthAdjust="spacingAndGlyphs">10 H7</text>
<line x1="316" y1="200.8" x2="352" y2="200.8" stroke="#4a4a4a" stroke-width="0.4"/>
<line x1="316" y1="200.8" x2="298.2" y2="230.6" stroke="#4a4a4a" stroke-width="0.4"/>
<text x="324.9" y="209.7" font-size="6.4" fill="#2b2829" textLength="14.14" lengthAdjust="spacingAndGlyphs">8-M6</text>
<path d="M339.24 205.22h2.23M340.36 205.22v1.1" fill="none" stroke="#2b2829" stroke-width="0.45"/>
<polygon points="339.24,206.12 341.47,206.12 340.36,208.32" fill="#2b2829"/>
<text x="341.77" y="209.7" font-size="6.4" fill="#2b2829" textLength="6.91" lengthAdjust="spacingAndGlyphs">15</text>
<line x1="325" y1="210.8" x2="352" y2="210.8" stroke="#4a4a4a" stroke-width="0.4"/>
<line x1="325" y1="210.8" x2="312.4" y2="230.6" stroke="#4a4a4a" stroke-width="0.4"/>
<text x="341.3" y="218.57" font-size="6.3" fill="#2b2829" text-anchor="middle">88</text>
<line x1="336.5" y1="219.9" x2="345.6" y2="219.9" stroke="#4a4a4a" stroke-width="0.4"/>
<line x1="336.5" y1="219.9" x2="336.5" y2="225.6" stroke="#4a4a4a" stroke-width="0.4"/>
<line x1="465.4" y1="224.6" x2="465.4" y2="249.7" stroke="#4a4a4a" stroke-width="0.4"/>
<polygon points="465.4,224.6 464.85,226.8 465.95,226.8" fill="#4a4a4a"/>
<polygon points="465.4,249.7 464.85,247.5 465.95,247.5" fill="#4a4a4a"/>
<line x1="454.4" y1="224.6" x2="468" y2="224.6" stroke="#4a4a4a" stroke-width="0.4"/>
<line x1="454.4" y1="249.7" x2="468" y2="249.7" stroke="#4a4a4a" stroke-width="0.4"/>
<text x="463.07" y="237.1" font-size="6.3" fill="#2b2829" text-anchor="middle" transform="rotate(-90 463.07 237.1)">110</text>
<line x1="205.3" y1="205.4" x2="205.3" y2="257" stroke="#4a4a4a" stroke-width="0.4"/>
<polygon points="205.3,209.5 204.75,207.3 205.85,207.3" fill="#4a4a4a"/>
<polygon points="205.3,252.7 204.75,254.9 205.85,254.9" fill="#4a4a4a"/>
<line x1="204.4" y1="209.5" x2="225.8" y2="209.5" stroke="#4a4a4a" stroke-width="0.4"/>
<line x1="204.4" y1="252.7" x2="225.6" y2="252.7" stroke="#4a4a4a" stroke-width="0.4"/>
<line x1="214.9" y1="209.5" x2="214.9" y2="224.6" stroke="#4a4a4a" stroke-width="0.4"/>
<line x1="214" y1="224.6" x2="222" y2="224.6" stroke="#4a4a4a" stroke-width="0.4"/>
<text x="213.16" y="217" font-size="6" fill="#2b2829" text-anchor="middle" transform="rotate(-90 213.16 217)">65.5</text>
<text x="196.97" y="226" font-size="6.3" fill="#2b2829" text-anchor="middle" transform="rotate(-90 196.97 226)">10:1=188</text>
<text x="203.17" y="230.6" font-size="6.3" fill="#2b2829" text-anchor="middle" transform="rotate(-90 203.17 230.6)">15/20:1=196</text>
<line x1="286.9" y1="263.5" x2="314.4" y2="263.5" stroke="#4a4a4a" stroke-width="0.4"/>
<polygon points="286.9,263.5 289.1,262.95 289.1,264.05" fill="#4a4a4a"/>
<polygon points="314.4,263.5 312.2,262.95 312.2,264.05" fill="#4a4a4a"/>
<text x="300.95" y="262.57" font-size="6.3" fill="#2b2829" text-anchor="middle">120</text>
<line x1="286.9" y1="248.4" x2="286.9" y2="264.4" stroke="#4a4a4a" stroke-width="0.4"/>
<line x1="314.4" y1="248.4" x2="314.4" y2="264.4" stroke="#4a4a4a" stroke-width="0.4"/>
<line x1="277" y1="271.1" x2="323.9" y2="271.1" stroke="#4a4a4a" stroke-width="0.4"/>
<polygon points="277,271.1 279.2,270.55 279.2,271.65" fill="#4a4a4a"/>
<polygon points="323.9,271.1 321.7,270.55 321.7,271.65" fill="#4a4a4a"/>
<text x="300.75" y="270.17" font-size="6.3" fill="#2b2829" text-anchor="middle">200</text>
<line x1="277" y1="248.4" x2="277" y2="272" stroke="#4a4a4a" stroke-width="0.4"/>
<line x1="323.9" y1="248.4" x2="323.9" y2="272" stroke="#4a4a4a" stroke-width="0.4"/>
<line x1="271.9" y1="279.2" x2="329.1" y2="279.2" stroke="#4a4a4a" stroke-width="0.4"/>
<polygon points="271.9,279.2 274.1,278.65 274.1,279.75" fill="#4a4a4a"/>
<polygon points="329.1,279.2 326.9,278.65 326.9,279.75" fill="#4a4a4a"/>
<text x="300.8" y="278.27" font-size="6.3" fill="#2b2829" text-anchor="middle">240</text>
<line x1="271.9" y1="248.4" x2="271.9" y2="280.1" stroke="#4a4a4a" stroke-width="0.4"/>
<line x1="329.1" y1="248.4" x2="329.1" y2="280.1" stroke="#4a4a4a" stroke-width="0.4"/>
<g transform="translate(0 833.9) scale(1 -1)">
<rect x="225.8" y="249.7" width="21.2" height="3.4" fill="#e5e6e7" stroke="#2d2d2d" stroke-width="0.6"/>
<rect x="226.5" y="253" width="19.3" height="26.2" fill="#e5e6e7" stroke="#2d2d2d" stroke-width="0.7"/>
<line x1="230.4" y1="253" x2="230.4" y2="279.2" stroke="#555" stroke-width="0.45"/>
<line x1="241.6" y1="253" x2="241.6" y2="279.2" stroke="#555" stroke-width="0.45"/>
<line x1="228.4" y1="256" x2="228.4" y2="279.2" stroke="#999" stroke-width="0.4"/>
<line x1="243.6" y1="256" x2="243.6" y2="279.2" stroke="#999" stroke-width="0.4"/>
<line x1="230.4" y1="273.5" x2="241.6" y2="273.5" stroke="#777" stroke-width="0.4"/>
<rect x="230.6" y="273.6" width="2.4" height="2.6" fill="#555"/>
<rect x="239" y="273.6" width="2.4" height="2.6" fill="#555"/>
<path d="M226.5 265.5q-2.4 1.4-2.2 3.4 1.2 1 2.2 1.6v2.2q-2.2.4-2.2 2.6 0 2.2 2.2 2.6" fill="#cfcfcf" stroke="#1f1f1f" stroke-width="0.8"/>
<rect x="225.8" y="209.8" width="21" height="13" fill="#e5e6e7" stroke="#2d2d2d" stroke-width="0.7" rx="0.6"/>
<rect x="231" y="208.9" width="2" height="0.9" fill="#444"/>
<rect x="235" y="208.9" width="2" height="0.9" fill="#444"/>
<rect x="239" y="208.9" width="2" height="0.9" fill="#444"/>
<rect x="225.8" y="222.8" width="21" height="1.8" fill="#bdbdbf" stroke="#2d2d2d" stroke-width="0.4"/>
<rect x="251.5" y="224.6" width="197.4" height="25.1" fill="#e9e9ea" stroke="#2d2d2d" stroke-width="0.7"/>
<line x1="251.5" y1="226" x2="413.9" y2="226" stroke="#a8a8aa" stroke-width="0.4"/>
<line x1="251.5" y1="228.3" x2="413.9" y2="228.3" stroke="#a8a8aa" stroke-width="0.4"/>
<line x1="251.5" y1="238" x2="413.9" y2="238" stroke="#a8a8aa" stroke-width="0.4"/>
<line x1="251.5" y1="245.6" x2="413.9" y2="245.6" stroke="#a8a8aa" stroke-width="0.4"/>
<line x1="251.5" y1="248.2" x2="413.9" y2="248.2" stroke="#a8a8aa" stroke-width="0.4"/>
<rect x="412.3" y="224.6" width="36.6" height="25.1" fill="#e5e6e7" stroke="#2d2d2d" stroke-width="0.7"/>
<rect x="222.2" y="224.6" width="29.4" height="25.1" fill="#e9e9ea" stroke="#2d2d2d" stroke-width="0.8"/>
<line x1="226.7" y1="224.6" x2="226.7" y2="249.7" stroke="#777" stroke-width="0.45"/>
<line x1="230.4" y1="224.6" x2="230.4" y2="249.7" stroke="#777" stroke-width="0.45"/>
<line x1="241.6" y1="224.6" x2="241.6" y2="249.7" stroke="#777" stroke-width="0.45"/>
<line x1="245.8" y1="224.6" x2="245.8" y2="249.7" stroke="#777" stroke-width="0.45"/>
<rect x="227.6" y="227.4" width="2.4" height="17" fill="#f6f6f6" stroke="#666" stroke-width="0.4"/>
<rect x="242.2" y="227.4" width="2.4" height="17" fill="#f6f6f6" stroke="#666" stroke-width="0.4"/>
<line x1="222.2" y1="237.4" x2="247.2" y2="237.4" stroke="#555" stroke-width="0.45"/>
<line x1="222.2" y1="226.4" x2="247.2" y2="226.4" stroke="#999" stroke-width="0.4"/>
<line x1="222.2" y1="246.2" x2="247.2" y2="246.2" stroke="#999" stroke-width="0.4"/>
<rect x="247.2" y="228.2" width="4.2" height="16.6" fill="#e0e0e0" stroke="#555" stroke-width="0.45"/>
<circle cx="249.3" cy="231.8" r="0.8" fill="#555" stroke="#2d2d2d" stroke-width="0.3"/>
<circle cx="249.3" cy="242.2" r="0.8" fill="#555" stroke="#2d2d2d" stroke-width="0.3"/>
<line x1="236.3" y1="209" x2="236.3" y2="281.5" stroke="#555" stroke-width="0.4" stroke-dasharray="5 1.2 1.2 1.2"/>
<rect x="271.9" y="224.6" width="57.2" height="23.4" fill="#e9e9ea" stroke="#2d2d2d" stroke-width="0.7"/>
<line x1="273.4" y1="224.6" x2="273.4" y2="248" stroke="#888" stroke-width="0.4"/>
<line x1="327.6" y1="224.6" x2="327.6" y2="248" stroke="#888" stroke-width="0.4"/>
<path d="M275.6 224.8q1.4 2.2 2.8 0" fill="#fff" stroke="#555" stroke-width="0.4"/>
<path d="M275.6 247.8q1.4 -2.2 2.8 0" fill="#fff" stroke="#555" stroke-width="0.4"/>
<path d="M285.2 224.8q1.4 2.2 2.8 0" fill="#fff" stroke="#555" stroke-width="0.4"/>
<path d="M285.2 247.8q1.4 -2.2 2.8 0" fill="#fff" stroke="#555" stroke-width="0.4"/>
<path d="M299 224.8q1.4 2.2 2.8 0" fill="#fff" stroke="#555" stroke-width="0.4"/>
<path d="M299 247.8q1.4 -2.2 2.8 0" fill="#fff" stroke="#555" stroke-width="0.4"/>
<path d="M313.2 224.8q1.4 2.2 2.8 0" fill="#fff" stroke="#555" stroke-width="0.4"/>
<path d="M313.2 247.8q1.4 -2.2 2.8 0" fill="#fff" stroke="#555" stroke-width="0.4"/>
<path d="M322.6 224.8q1.4 2.2 2.8 0" fill="#fff" stroke="#555" stroke-width="0.4"/>
<path d="M322.6 247.8q1.4 -2.2 2.8 0" fill="#fff" stroke="#555" stroke-width="0.4"/>
<circle cx="277" cy="226.7" r="0.75" fill="#555" stroke="#2d2d2d" stroke-width="0.3"/>
<circle cx="277" cy="246.9" r="0.75" fill="#555" stroke="#2d2d2d" stroke-width="0.3"/>
<circle cx="286.6" cy="226.7" r="0.75" fill="#555" stroke="#2d2d2d" stroke-width="0.3"/>
<circle cx="286.6" cy="246.9" r="0.75" fill="#555" stroke="#2d2d2d" stroke-width="0.3"/>
<circle cx="314.6" cy="226.7" r="0.75" fill="#555" stroke="#2d2d2d" stroke-width="0.3"/>
<circle cx="314.6" cy="246.9" r="0.75" fill="#555" stroke="#2d2d2d" stroke-width="0.3"/>
<circle cx="324" cy="226.7" r="0.75" fill="#555" stroke="#2d2d2d" stroke-width="0.3"/>
<circle cx="324" cy="246.9" r="0.75" fill="#555" stroke="#2d2d2d" stroke-width="0.3"/>
<line x1="276" y1="237.2" x2="410.9" y2="237.2" stroke="#666" stroke-width="0.45" stroke-dasharray="9 3"/>
<rect x="329.1" y="225.6" width="11.6" height="22.6" fill="#ececed" stroke="#777" stroke-width="0.45"/>
<line x1="337" y1="225.6" x2="337" y2="248.2" stroke="#888" stroke-width="0.4"/>
<rect x="413.3" y="227.8" width="4.5" height="17.6" fill="#f1f1f1" stroke="#2d2d2d" stroke-width="0.55"/>
<circle cx="415.5" cy="231.6" r="0.75" fill="#555" stroke="#2d2d2d" stroke-width="0.3"/>
<circle cx="415.5" cy="241.6" r="0.75" fill="#555" stroke="#2d2d2d" stroke-width="0.3"/>
</g>
<rect x="292.6" y="607.9" width="12.6" height="1.6" fill="#888" stroke="#2d2d2d" stroke-width="0.3"/>
<line x1="296.2" y1="609.5" x2="296.2" y2="613.3" stroke="#1f1f1f" stroke-width="0.9"/>
<line x1="295.1" y1="610.1" x2="297.3" y2="610.1" stroke="#1f1f1f" stroke-width="0.6"/>
<line x1="301.8" y1="609.5" x2="301.8" y2="613.3" stroke="#1f1f1f" stroke-width="0.9"/>
<line x1="300.7" y1="610.1" x2="302.9" y2="610.1" stroke="#1f1f1f" stroke-width="0.6"/>
<line x1="367.3" y1="609.6" x2="367.3" y2="615.3" stroke="#1f1f1f" stroke-width="0.9"/>
<line x1="365.7" y1="610.1" x2="368.9" y2="610.1" stroke="#1f1f1f" stroke-width="0.6"/>
<line x1="271.9" y1="560.8" x2="329.1" y2="560.8" stroke="#4a4a4a" stroke-width="0.4"/>
<polygon points="271.9,560.8 274.1,560.25 274.1,561.35" fill="#4a4a4a"/>
<polygon points="329.1,560.8 326.9,560.25 326.9,561.35" fill="#4a4a4a"/>
<text x="300.8" y="559.97" font-size="6.3" fill="#2b2829" text-anchor="middle">240</text>
<line x1="271.9" y1="559.9" x2="271.9" y2="585.4" stroke="#4a4a4a" stroke-width="0.4"/>
<line x1="329.1" y1="559.9" x2="329.1" y2="585.4" stroke="#4a4a4a" stroke-width="0.4"/>
<line x1="277" y1="568.2" x2="323.9" y2="568.2" stroke="#4a4a4a" stroke-width="0.4"/>
<polygon points="277,568.2 279.2,567.65 279.2,568.75" fill="#4a4a4a"/>
<polygon points="323.9,568.2 321.7,567.65 321.7,568.75" fill="#4a4a4a"/>
<text x="300.75" y="567.37" font-size="6.3" fill="#2b2829" text-anchor="middle">200</text>
<line x1="277" y1="567.3" x2="277" y2="585.4" stroke="#4a4a4a" stroke-width="0.4"/>
<line x1="323.9" y1="567.3" x2="323.9" y2="585.4" stroke="#4a4a4a" stroke-width="0.4"/>
<line x1="286.9" y1="575.2" x2="314.4" y2="575.2" stroke="#4a4a4a" stroke-width="0.4"/>
<polygon points="286.9,575.2 289.1,574.65 289.1,575.75" fill="#4a4a4a"/>
<polygon points="314.4,575.2 312.2,574.65 312.2,575.75" fill="#4a4a4a"/>
<text x="300.95" y="574.37" font-size="6.3" fill="#2b2829" text-anchor="middle">120</text>
<line x1="286.9" y1="574.3" x2="286.9" y2="585.4" stroke="#4a4a4a" stroke-width="0.4"/>
<line x1="314.4" y1="574.3" x2="314.4" y2="585.4" stroke="#4a4a4a" stroke-width="0.4"/>
<text x="338.8" y="577.87" font-size="6.3" fill="#2b2829" text-anchor="middle">88</text>
<line x1="334.2" y1="578.8" x2="343.6" y2="578.8" stroke="#4a4a4a" stroke-width="0.4"/>
<line x1="334.2" y1="578.8" x2="334.2" y2="585" stroke="#4a4a4a" stroke-width="0.4"/>
<line x1="205.3" y1="577" x2="205.3" y2="628.5" stroke="#4a4a4a" stroke-width="0.4"/>
<polygon points="205.3,581.2 204.75,579 205.85,579" fill="#4a4a4a"/>
<polygon points="205.3,624.3 204.75,626.5 205.85,626.5" fill="#4a4a4a"/>
<line x1="204.4" y1="581.2" x2="225.6" y2="581.2" stroke="#4a4a4a" stroke-width="0.4"/>
<line x1="204.4" y1="624.3" x2="225.8" y2="624.3" stroke="#4a4a4a" stroke-width="0.4"/>
<line x1="214.9" y1="609.3" x2="214.9" y2="624.3" stroke="#4a4a4a" stroke-width="0.4"/>
<line x1="214" y1="609.3" x2="222" y2="609.3" stroke="#4a4a4a" stroke-width="0.4"/>
<text x="212.96" y="616.8" font-size="6" fill="#2b2829" text-anchor="middle" transform="rotate(-90 212.96 616.8)">65.5</text>
<text x="196.97" y="598.6" font-size="6.3" fill="#2b2829" text-anchor="middle" transform="rotate(-90 196.97 598.6)">10:1=188</text>
<text x="203.17" y="602.8" font-size="6.3" fill="#2b2829" text-anchor="middle" transform="rotate(-90 203.17 602.8)">15/20:1=196</text>
<line x1="461.2" y1="584.2" x2="461.2" y2="609.3" stroke="#4a4a4a" stroke-width="0.4"/>
<polygon points="461.2,584.2 460.65,586.4 461.75,586.4" fill="#4a4a4a"/>
<polygon points="461.2,609.3 460.65,607.1 461.75,607.1" fill="#4a4a4a"/>
<line x1="449.6" y1="584.2" x2="463.6" y2="584.2" stroke="#4a4a4a" stroke-width="0.4"/>
<line x1="449.6" y1="609.3" x2="463.6" y2="609.3" stroke="#4a4a4a" stroke-width="0.4"/>
<text x="459.07" y="596.6" font-size="6.3" fill="#2b2829" text-anchor="middle" transform="rotate(-90 459.07 596.6)">110</text>
<text x="224.6" y="633" font-size="6.6" fill="#2b2829" font-weight="bold" letter-spacing="0.1">滑台機械極限</text>
<text x="264.9" y="632.9" font-size="6.2" fill="#2b2829">208±1</text>
<text x="224.6" y="638.69" font-size="5.4" fill="#9a9a9a">Mechanical limit:208±1</text>
<line x1="218" y1="642.3" x2="281" y2="642.3" stroke="#4a4a4a" stroke-width="0.4"/>
<polygon points="222.5,642.3 220.3,641.75 220.3,642.85" fill="#4a4a4a"/>
<polygon points="268.9,642.3 271.1,641.75 271.1,642.85" fill="#4a4a4a"/>
<line x1="268.9" y1="609.3" x2="268.9" y2="643" stroke="#4a4a4a" stroke-width="0.4"/>
<text x="234.8" y="649.7" font-size="6.6" fill="#2b2829" font-weight="bold" letter-spacing="0.1">滑台原點</text>
<text x="261.7" y="649.6" font-size="6.2" fill="#2b2829">336</text>
<text x="234.8" y="655.39" font-size="5.4" fill="#9a9a9a">Origin of actuator:336</text>
<line x1="222.5" y1="657.3" x2="448.7" y2="657.3" stroke="#4a4a4a" stroke-width="0.4"/>
<polygon points="222.5,657.3 224.7,656.75 224.7,657.85" fill="#4a4a4a"/>
<polygon points="298.9,657.3 296.7,656.75 296.7,657.85" fill="#4a4a4a"/>
<polygon points="298.9,657.3 301.1,656.75 301.1,657.85" fill="#4a4a4a"/>
<polygon points="367.3,657.3 365.1,656.75 365.1,657.85" fill="#4a4a4a"/>
<polygon points="367.3,657.3 369.5,656.75 369.5,657.85" fill="#4a4a4a"/>
<polygon points="448.7,657.3 446.5,656.75 446.5,657.85" fill="#4a4a4a"/>
<line x1="298.9" y1="584.2" x2="298.9" y2="658.2" stroke="#4a4a4a" stroke-width="0.4"/>
<line x1="367.3" y1="584.2" x2="367.3" y2="658.2" stroke="#4a4a4a" stroke-width="0.4"/>
<text x="311.2" y="654.9" font-size="6.5" fill="#2b2829" font-weight="bold">有效行程</text>
<text x="339.4" y="654.5" font-size="5.2" fill="#9a9a9a">Stroke</text>
<text x="407.8" y="654.87" font-size="6.3" fill="#2b2829" text-anchor="middle">363</text>
<line x1="222.5" y1="663.6" x2="448.7" y2="663.6" stroke="#4a4a4a" stroke-width="0.4"/>
<polygon points="222.5,663.6 224.7,663.05 224.7,664.15" fill="#4a4a4a"/>
<polygon points="448.7,663.6 446.5,663.05 446.5,664.15" fill="#4a4a4a"/>
<text x="335" y="662.76" font-size="6" fill="#2b2829" text-anchor="middle">L</text>
<line x1="222.5" y1="609.3" x2="222.5" y2="664.5" stroke="#4a4a4a" stroke-width="0.4"/>
<line x1="448.7" y1="609.3" x2="448.7" y2="664.5" stroke="#4a4a4a" stroke-width="0.4"/>
<text x="391.4" y="625.6" font-size="6.6" fill="#2b2829" font-weight="bold" letter-spacing="0.1">滑台機械極限</text>
<text x="431.7" y="625.5" font-size="6.2" fill="#2b2829">235±1</text>
<text x="391.4" y="631.29" font-size="5.4" fill="#9a9a9a">Mechanical limit:235±1</text>
<line x1="390.6" y1="634" x2="453" y2="634" stroke="#4a4a4a" stroke-width="0.4"/>
<polygon points="394.9,634 392.7,633.45 392.7,634.55" fill="#4a4a4a"/>
<polygon points="448.7,634 450.9,633.45 450.9,634.55" fill="#4a4a4a"/>
<line x1="394.9" y1="584.2" x2="394.9" y2="634.8" stroke="#4a4a4a" stroke-width="0.4"/>
<text x="323.5" y="621.9" font-size="6.4" fill="#2b2829" textLength="14.14" lengthAdjust="spacingAndGlyphs">8-M6</text>
<path d="M337.84 617.42h2.23M338.96 617.42v1.1" fill="none" stroke="#2b2829" stroke-width="0.45"/>
<polygon points="337.84,618.32 340.07,618.32 338.96,620.52" fill="#2b2829"/>
<text x="340.37" y="621.9" font-size="6.4" fill="#2b2829" textLength="6.91" lengthAdjust="spacingAndGlyphs">15</text>
<line x1="323.2" y1="622.8" x2="351" y2="622.8" stroke="#4a4a4a" stroke-width="0.4"/>
<line x1="323.2" y1="622.8" x2="309.2" y2="602.4" stroke="#4a4a4a" stroke-width="0.4"/>
<text x="321.1" y="632.5" font-size="6.4" fill="#2b2829" textLength="13.8" lengthAdjust="spacingAndGlyphs">2-Ø6</text>
<path d="M335.1 628.02h2.23M336.22 628.02v1.1" fill="none" stroke="#2b2829" stroke-width="0.45"/>
<polygon points="335.1,628.92 337.33,628.92 336.22,631.12" fill="#2b2829"/>
<text x="337.63" y="632.5" font-size="6.4" fill="#2b2829" textLength="16.57" lengthAdjust="spacingAndGlyphs">10 H7</text>
<line x1="320.8" y1="633.6" x2="357.4" y2="633.6" stroke="#4a4a4a" stroke-width="0.4"/>
<line x1="320.8" y1="633.6" x2="295.4" y2="602.4" stroke="#4a4a4a" stroke-width="0.4"/>
<g transform="translate(0 0)">
<text x="480.7" y="172.2" font-size="7" fill="#2b2829" font-weight="bold">馬達固定孔尺寸</text>
<text x="490.2" y="177.6" font-size="5.6" fill="#9a9a9a" textLength="30.4" lengthAdjust="spacingAndGlyphs">Dimensions</text>
<text x="520.6" y="184.7" font-size="6.7" fill="#2b2829" font-weight="bold">型號</text>
<text x="534" y="184.6" font-size="6.1" fill="#2b2829" font-weight="bold" textLength="8.2" lengthAdjust="spacingAndGlyphs">M7</text>
<text x="542.4" y="184.7" font-size="6.7" fill="#2b2829" font-weight="bold">為</text>
<text x="549.1" y="184.6" font-size="6.1" fill="#2b2829" font-weight="bold" textLength="8.2" lengthAdjust="spacingAndGlyphs">M6</text>
<text x="557.5" y="184.7" font-size="6.7" fill="#2b2829" font-weight="bold">牙孔</text>
<text x="520.6" y="190.2" font-size="4.6" fill="#9a9a9a" textLength="62" lengthAdjust="spacingAndGlyphs">Model M7 using M6 tapping hole</text>
<text x="520.6" y="196.9" font-size="6.7" fill="#2b2829" font-weight="bold">型號</text>
<text x="534" y="196.8" font-size="6.1" fill="#2b2829" font-weight="bold" textLength="7.4" lengthAdjust="spacingAndGlyphs">P7</text>
<text x="541.6" y="196.9" font-size="6.7" fill="#2b2829" font-weight="bold">為</text>
<text x="548.3" y="196.8" font-size="6.1" fill="#2b2829" font-weight="bold" textLength="8.2" lengthAdjust="spacingAndGlyphs">M5</text>
<text x="556.7" y="196.9" font-size="6.7" fill="#2b2829" font-weight="bold">牙孔</text>
<text x="520.6" y="202.3" font-size="4.6" fill="#9a9a9a" textLength="62" lengthAdjust="spacingAndGlyphs">Model P7 using M5 tapping hole</text>
<line x1="519.4" y1="203.1" x2="583" y2="203.1" stroke="#4a4a4a" stroke-width="0.4"/>
<line x1="519.4" y1="203.1" x2="513.4" y2="210.6" stroke="#4a4a4a" stroke-width="0.4"/>
<text x="476.6" y="203" font-size="6.4" fill="#2b2829" textLength="18.8" lengthAdjust="spacingAndGlyphs">PCD90</text>
<line x1="476" y1="204.5" x2="495.6" y2="204.5" stroke="#4a4a4a" stroke-width="0.4"/>
<line x1="495.6" y1="204.5" x2="498.8" y2="210.6" stroke="#4a4a4a" stroke-width="0.4"/>
<path d="M497.2 208h17.6l3 3v17.2l-3 3h-17.6l-3-3v-17.2z" fill="#f2f2f2" stroke="#1f1f1f" stroke-width="1"/>
<circle cx="506" cy="219.6" r="10.2" fill="#e6e6e7" stroke="#333" stroke-width="0.6"/>
<circle cx="506" cy="219.6" r="7.7" fill="none" stroke="#333" stroke-width="0.6"/>
<circle cx="506" cy="219.6" r="5" fill="#f4f4f4" stroke="#333" stroke-width="0.7"/>
<circle cx="506" cy="219.6" r="2.6" fill="#d0d0d0" stroke="#333" stroke-width="0.7"/>
<circle cx="506" cy="219.6" r="1" fill="#fff" stroke="#555" stroke-width="0.3"/>
<circle cx="497.7" cy="211.3" r="0.9" fill="#333"/>
<circle cx="497.7" cy="227.9" r="0.9" fill="#333"/>
<circle cx="514.3" cy="211.3" r="0.9" fill="#333"/>
<circle cx="514.3" cy="227.9" r="0.9" fill="#333"/>
<line x1="513.6" y1="227.4" x2="518.6" y2="233" stroke="#4a4a4a" stroke-width="0.4"/>
<line x1="490.5" y1="220.2" x2="490.5" y2="227.4" stroke="#3a3a3a" stroke-width="0.45"/>
<polygon points="490.5,219.4 489.8,221.8 491.2,221.8" fill="#2b2829"/>
<line x1="488.7" y1="219.4" x2="492.3" y2="219.4" stroke="#4a4a4a" stroke-width="0.35"/>
<text x="490.5" y="232.6" font-size="6.6" fill="#3a9d93" text-anchor="middle">E</text>
<line x1="522" y1="220.2" x2="522" y2="227.4" stroke="#3a3a3a" stroke-width="0.45"/>
<polygon points="522,219.4 521.3,221.8 522.7,221.8" fill="#2b2829"/>
<line x1="520.2" y1="219.4" x2="523.8" y2="219.4" stroke="#4a4a4a" stroke-width="0.35"/>
<text x="522" y="232.6" font-size="6.6" fill="#3a9d93" text-anchor="middle">E</text>
<text x="506.8" y="243.4" font-size="7" fill="#3a9d93" text-anchor="middle" textLength="27.8" lengthAdjust="spacingAndGlyphs">E-E View</text>
<text x="506.2" y="252.2" font-size="6.4" fill="#2b2829" text-anchor="middle" textLength="21.2" lengthAdjust="spacingAndGlyphs">Ø70 H8</text>
<text x="506.3" y="261.2" font-size="6.4" fill="#2b2829" text-anchor="middle" textLength="10.4" lengthAdjust="spacingAndGlyphs">Ø19</text>
<path d="M497.3 266.6v-11.2h18v11.2" fill="none" stroke="#4a4a4a" stroke-width="0.4"/>
<line x1="494.2" y1="263.2" x2="494.2" y2="267" stroke="#4a4a4a" stroke-width="0.35"/>
<line x1="517.8" y1="263.2" x2="517.8" y2="267" stroke="#4a4a4a" stroke-width="0.35"/>
<line x1="494.2" y1="263.6" x2="517.8" y2="263.6" stroke="#4a4a4a" stroke-width="0.35"/>
<line x1="502.6" y1="262" x2="502.6" y2="280" stroke="#4a4a4a" stroke-width="0.35"/>
<line x1="509.8" y1="262" x2="509.8" y2="280" stroke="#4a4a4a" stroke-width="0.35"/>
<rect x="494.2" y="268.4" width="23.9" height="4.9" fill="#c4c4c5" stroke="#1f1f1f" stroke-width="0.7"/>
<rect x="494.2" y="266.9" width="23.9" height="1.7" fill="#2b2b2b"/>
<rect x="494.4" y="268.6" width="3" height="4.6" fill="#4a4a4a"/>
<rect x="514.9" y="268.6" width="3" height="4.6" fill="#4a4a4a"/>
<rect x="495" y="273.3" width="22.5" height="6.3" fill="#ededee" stroke="#1f1f1f" stroke-width="0.7"/>
<rect x="495" y="273.3" width="1.4" height="6.3" fill="#333"/>
<rect x="516.1" y="273.3" width="1.4" height="6.3" fill="#333"/>
<rect x="500.4" y="269.6" width="2.4" height="3.6" fill="#777"/>
<rect x="509.6" y="269.6" width="2.4" height="3.6" fill="#777"/>
<rect x="503" y="269.6" width="6.6" height="10" fill="#d6d6d7" stroke="#555" stroke-width="0.4"/>
<line x1="506.3" y1="266" x2="506.3" y2="281.4" stroke="#555" stroke-width="0.35"/>
<line x1="493.4" y1="279.8" x2="519.6" y2="279.8" stroke="#333" stroke-width="0.5"/>
<line x1="489.4" y1="262.4" x2="489.4" y2="277.1" stroke="#4a4a4a" stroke-width="0.4"/>
<line x1="488.6" y1="267.5" x2="494" y2="267.5" stroke="#4a4a4a" stroke-width="0.35"/>
<line x1="488.6" y1="269.1" x2="494" y2="269.1" stroke="#4a4a4a" stroke-width="0.35"/>
<polygon points="489.4,267.5 488.85,265.7 489.95,265.7" fill="#4a4a4a"/>
<polygon points="489.4,269.1 488.85,270.9 489.95,270.9" fill="#4a4a4a"/>
<text x="486.6" y="275.9" font-size="6.2" fill="#2b2829" text-anchor="middle">9</text>
<line x1="483.8" y1="277.1" x2="489.4" y2="277.1" stroke="#4a4a4a" stroke-width="0.4"/>
</g>
<g transform="translate(-9.8 373.4)">
<text x="480.7" y="174.8" font-size="7" fill="#2b2829" font-weight="bold">馬達固定孔尺寸</text>
<text x="490.2" y="180.2" font-size="5.6" fill="#9a9a9a" textLength="30.4" lengthAdjust="spacingAndGlyphs">Dimensions</text>
<text x="520.6" y="186.3" font-size="6.7" fill="#2b2829" font-weight="bold">型號</text>
<text x="534" y="186.2" font-size="6.1" fill="#2b2829" font-weight="bold" textLength="8.2" lengthAdjust="spacingAndGlyphs">M7</text>
<text x="542.4" y="186.3" font-size="6.7" fill="#2b2829" font-weight="bold">為</text>
<text x="549.1" y="186.2" font-size="6.1" fill="#2b2829" font-weight="bold" textLength="8.2" lengthAdjust="spacingAndGlyphs">M6</text>
<text x="557.5" y="186.3" font-size="6.7" fill="#2b2829" font-weight="bold">牙孔</text>
<text x="520.6" y="191.8" font-size="4.6" fill="#9a9a9a" textLength="62" lengthAdjust="spacingAndGlyphs">Model M7 using M6 tapping hole</text>
<text x="520.6" y="198.5" font-size="6.7" fill="#2b2829" font-weight="bold">型號</text>
<text x="534" y="198.4" font-size="6.1" fill="#2b2829" font-weight="bold" textLength="7.4" lengthAdjust="spacingAndGlyphs">P7</text>
<text x="541.6" y="198.5" font-size="6.7" fill="#2b2829" font-weight="bold">為</text>
<text x="548.3" y="198.4" font-size="6.1" fill="#2b2829" font-weight="bold" textLength="8.2" lengthAdjust="spacingAndGlyphs">M5</text>
<text x="556.7" y="198.5" font-size="6.7" fill="#2b2829" font-weight="bold">牙孔</text>
<text x="520.6" y="203.42" font-size="4.6" fill="#9a9a9a" textLength="62" lengthAdjust="spacingAndGlyphs">Model P7 using M5 tapping hole</text>
<line x1="519.4" y1="204.22" x2="583" y2="204.22" stroke="#4a4a4a" stroke-width="0.4"/>
<line x1="519.4" y1="204.22" x2="513.4" y2="210.6" stroke="#4a4a4a" stroke-width="0.4"/>
<text x="476.6" y="205.1" font-size="6.4" fill="#2b2829" textLength="18.8" lengthAdjust="spacingAndGlyphs">PCD90</text>
<line x1="476" y1="205.76" x2="495.6" y2="205.76" stroke="#4a4a4a" stroke-width="0.4"/>
<line x1="495.6" y1="205.76" x2="498.8" y2="210.6" stroke="#4a4a4a" stroke-width="0.4"/>
<path d="M497.2 208h17.6l3 3v17.2l-3 3h-17.6l-3-3v-17.2z" fill="#f2f2f2" stroke="#1f1f1f" stroke-width="1"/>
<circle cx="506" cy="219.6" r="10.2" fill="#e6e6e7" stroke="#333" stroke-width="0.6"/>
<circle cx="506" cy="219.6" r="7.7" fill="none" stroke="#333" stroke-width="0.6"/>
<circle cx="506" cy="219.6" r="5" fill="#f4f4f4" stroke="#333" stroke-width="0.7"/>
<circle cx="506" cy="219.6" r="2.6" fill="#d0d0d0" stroke="#333" stroke-width="0.7"/>
<circle cx="506" cy="219.6" r="1" fill="#fff" stroke="#555" stroke-width="0.3"/>
<circle cx="497.7" cy="211.3" r="0.9" fill="#333"/>
<circle cx="497.7" cy="227.9" r="0.9" fill="#333"/>
<circle cx="514.3" cy="211.3" r="0.9" fill="#333"/>
<circle cx="514.3" cy="227.9" r="0.9" fill="#333"/>
<line x1="513.6" y1="227.4" x2="518.6" y2="233" stroke="#4a4a4a" stroke-width="0.4"/>
<line x1="490.5" y1="220.2" x2="490.5" y2="227.4" stroke="#3a3a3a" stroke-width="0.45"/>
<polygon points="490.5,219.4 489.8,221.8 491.2,221.8" fill="#2b2829"/>
<line x1="488.7" y1="219.4" x2="492.3" y2="219.4" stroke="#4a4a4a" stroke-width="0.35"/>
<text x="490.5" y="234" font-size="6.6" fill="#3a9d93" text-anchor="middle">E</text>
<line x1="522" y1="220.2" x2="522" y2="227.4" stroke="#3a3a3a" stroke-width="0.45"/>
<polygon points="522,219.4 521.3,221.8 522.7,221.8" fill="#2b2829"/>
<line x1="520.2" y1="219.4" x2="523.8" y2="219.4" stroke="#4a4a4a" stroke-width="0.35"/>
<text x="522" y="234" font-size="6.6" fill="#3a9d93" text-anchor="middle">E</text>
<text x="506.8" y="244.8" font-size="7" fill="#3a9d93" text-anchor="middle" textLength="27.8" lengthAdjust="spacingAndGlyphs">E-E View</text>
<text x="506.2" y="253.2" font-size="6.4" fill="#2b2829" text-anchor="middle" textLength="21.2" lengthAdjust="spacingAndGlyphs">Ø70 H8</text>
<text x="506.3" y="261.2" font-size="6.4" fill="#2b2829" text-anchor="middle" textLength="10.4" lengthAdjust="spacingAndGlyphs">Ø19</text>
<path d="M497.3 266.6v-11.2h18v11.2" fill="none" stroke="#4a4a4a" stroke-width="0.4"/>
<line x1="494.2" y1="263.2" x2="494.2" y2="267" stroke="#4a4a4a" stroke-width="0.35"/>
<line x1="517.8" y1="263.2" x2="517.8" y2="267" stroke="#4a4a4a" stroke-width="0.35"/>
<line x1="494.2" y1="263.6" x2="517.8" y2="263.6" stroke="#4a4a4a" stroke-width="0.35"/>
<line x1="502.6" y1="262" x2="502.6" y2="280" stroke="#4a4a4a" stroke-width="0.35"/>
<line x1="509.8" y1="262" x2="509.8" y2="280" stroke="#4a4a4a" stroke-width="0.35"/>
<rect x="494.2" y="268.4" width="23.9" height="4.9" fill="#c4c4c5" stroke="#1f1f1f" stroke-width="0.7"/>
<rect x="494.2" y="266.9" width="23.9" height="1.7" fill="#2b2b2b"/>
<rect x="494.4" y="268.6" width="3" height="4.6" fill="#4a4a4a"/>
<rect x="514.9" y="268.6" width="3" height="4.6" fill="#4a4a4a"/>
<rect x="495" y="273.3" width="22.5" height="6.3" fill="#ededee" stroke="#1f1f1f" stroke-width="0.7"/>
<rect x="495" y="273.3" width="1.4" height="6.3" fill="#333"/>
<rect x="516.1" y="273.3" width="1.4" height="6.3" fill="#333"/>
<rect x="500.4" y="269.6" width="2.4" height="3.6" fill="#777"/>
<rect x="509.6" y="269.6" width="2.4" height="3.6" fill="#777"/>
<rect x="503" y="269.6" width="6.6" height="10" fill="#d6d6d7" stroke="#555" stroke-width="0.4"/>
<line x1="506.3" y1="266" x2="506.3" y2="281.4" stroke="#555" stroke-width="0.35"/>
<line x1="493.4" y1="279.8" x2="519.6" y2="279.8" stroke="#333" stroke-width="0.5"/>
<line x1="489.4" y1="262.4" x2="489.4" y2="277.1" stroke="#4a4a4a" stroke-width="0.4"/>
<line x1="488.6" y1="267.5" x2="494" y2="267.5" stroke="#4a4a4a" stroke-width="0.35"/>
<line x1="488.6" y1="269.1" x2="494" y2="269.1" stroke="#4a4a4a" stroke-width="0.35"/>
<polygon points="489.4,267.5 488.85,265.7 489.95,265.7" fill="#4a4a4a"/>
<polygon points="489.4,269.1 488.85,270.9 489.95,270.9" fill="#4a4a4a"/>
<text x="489.29" y="274.6" font-size="5.8" fill="#2b2829" text-anchor="middle" transform="rotate(-90 489.29 274.6)">9</text>
</g>
<defs><linearGradient id="sr351" x1="0" x2="0" y1="0" y2="1"><stop offset="0" stop-color="#f0f0f1"/><stop offset="0.35" stop-color="#dededf"/><stop offset="0.6" stop-color="#ececed"/><stop offset="1" stop-color="#dadadb"/></linearGradient></defs>
<rect x="251.5" y="351.5" width="202.2" height="24.9" fill="url(#sr351)" stroke="#2d2d2d" stroke-width="0.7"/>
<line x1="251.5" y1="355" x2="417.7" y2="355" stroke="#777" stroke-width="0.5"/>
<line x1="251.5" y1="357.5" x2="417.7" y2="357.5" stroke="#999" stroke-width="0.4"/>
<line x1="251.5" y1="359.4" x2="417.7" y2="359.4" stroke="#333" stroke-width="0.9"/>
<line x1="251.5" y1="363" x2="417.7" y2="363" stroke="#aaa" stroke-width="0.4"/>
<line x1="251.5" y1="367.7" x2="417.7" y2="367.7" stroke="#777" stroke-width="0.45"/>
<line x1="251.5" y1="370.3" x2="417.7" y2="370.3" stroke="#777" stroke-width="0.45"/>
<line x1="251.5" y1="372.9" x2="417.7" y2="372.9" stroke="#999" stroke-width="0.4"/>
<rect x="418.1" y="351.5" width="35.6" height="24.9" fill="#e9e9ea" stroke="#2d2d2d" stroke-width="0.7"/>
<rect x="418.3" y="350.3" width="3" height="1.2" fill="#ddd" stroke="#444" stroke-width="0.4"/>
<path d="M418.1 355.1h3a2.1 2.1 0 0 1 0 4.2h-3" fill="#fff" stroke="#2d2d2d" stroke-width="0.55"/>
<path d="M418.1 368.5h3a2.1 2.1 0 0 1 0 4.2h-3" fill="#fff" stroke="#2d2d2d" stroke-width="0.55"/>
<rect x="225.9" y="325.7" width="20.9" height="25.4" fill="#e5e6e7" stroke="#2d2d2d" stroke-width="0.75"/>
<circle cx="236" cy="336.7" r="10.7" fill="#ebebec" stroke="#333" stroke-width="0.7"/>
<path d="M227.6 330.2a10.5 10.5 0 0 1 4.4-3.2M244.4 330.2a10.5 10.5 0 0 0-4.4-3.2M227.6 343.2a10.5 10.5 0 0 0 4.4 3.2M244.4 343.2a10.5 10.5 0 0 1-4.4 3.2M225.6 334.2a10.5 10.5 0 0 0 0.1 5.4" fill="none" stroke="#1f1f1f" stroke-width="2"/>
<line x1="231" y1="336.7" x2="241" y2="336.7" stroke="#444" stroke-width="0.5" stroke-dasharray="4 2"/>
<line x1="236" y1="331.7" x2="236" y2="341.7" stroke="#444" stroke-width="0.5" stroke-dasharray="4 2"/>
<rect x="222.2" y="351.1" width="29.3" height="24.7" fill="#ebebec" stroke="#2d2d2d" stroke-width="0.8"/>
<rect x="224.8" y="355" width="22.8" height="16" fill="none" stroke="#888" stroke-width="0.4" stroke-dasharray="2.5 1.2"/>
<circle cx="227" cy="357.2" r="1.3" fill="#ddd" stroke="#222" stroke-width="0.6"/>
<circle cx="245.6" cy="357.2" r="1.3" fill="#ddd" stroke="#222" stroke-width="0.6"/>
<circle cx="227" cy="368.6" r="1.3" fill="#ddd" stroke="#222" stroke-width="0.6"/>
<circle cx="245.6" cy="368.6" r="1.3" fill="#ddd" stroke="#222" stroke-width="0.6"/>
<line x1="230.6" y1="363" x2="241.4" y2="363" stroke="#666" stroke-width="0.45" stroke-dasharray="3.6 1.6"/>
<line x1="236" y1="358.4" x2="236" y2="367.6" stroke="#666" stroke-width="0.45" stroke-dasharray="3.6 1.6"/>
<circle cx="250.2" cy="359.6" r="0.9" fill="#eee" stroke="#444" stroke-width="0.4"/>
<line x1="247.8" y1="371.4" x2="251.4" y2="371.4" stroke="#666" stroke-width="0.4"/>
<line x1="214.3" y1="325.7" x2="214.3" y2="375.8" stroke="#4a4a4a" stroke-width="0.4"/>
<polygon points="214.3,325.7 213.75,327.9 214.85,327.9" fill="#4a4a4a"/>
<polygon points="214.3,375.8 213.75,373.6 214.85,373.6" fill="#4a4a4a"/>
<line x1="213.4" y1="325.7" x2="226" y2="325.7" stroke="#4a4a4a" stroke-width="0.4"/>
<line x1="213.4" y1="375.8" x2="222.2" y2="375.8" stroke="#4a4a4a" stroke-width="0.4"/>
<text x="213.27" y="350" font-size="6.3" fill="#2b2829" text-anchor="middle" transform="rotate(-90 213.27 350)">216.5</text>
<rect x="271.8" y="345.8" width="56.6" height="5.4" fill="#e0e0e1" stroke="#2d2d2d" stroke-width="0.6" rx="1"/>
<path d="M292.6 347.6h16.6v3.9l-2 3.6h-12.6l-2-3.6z" fill="#f3f3f3" stroke="#444" stroke-width="0.45"/>
<circle cx="295.4" cy="349.3" r="0.7" fill="#555" stroke="#2d2d2d" stroke-width="0.3"/>
<circle cx="306.2" cy="349.3" r="0.7" fill="#555" stroke="#2d2d2d" stroke-width="0.3"/>
<circle cx="300.8" cy="349.4" r="0.4" fill="#444"/>
<path d="M296 355.2l1.6 2.4M305.6 355.2l-1.6 2.4" fill="none" stroke="#333" stroke-width="0.5"/>
<line x1="297.6" y1="357.4" x2="297.6" y2="366.6" stroke="#1f1f1f" stroke-width="0.9"/>
<line x1="296.2" y1="358.6" x2="299" y2="358.6" stroke="#1f1f1f" stroke-width="0.6"/>
<line x1="303.2" y1="357.4" x2="303.2" y2="366.6" stroke="#1f1f1f" stroke-width="0.9"/>
<line x1="301.8" y1="358.6" x2="304.6" y2="358.6" stroke="#1f1f1f" stroke-width="0.6"/>
<line x1="370.4" y1="356.8" x2="370.4" y2="367" stroke="#1f1f1f" stroke-width="0.9"/>
<line x1="368.8" y1="360.2" x2="372" y2="360.2" stroke="#1f1f1f" stroke-width="0.6"/>
<text x="267.4" y="340.2" font-size="6.3" fill="#2b2829" text-anchor="middle">14</text>
<line x1="264.6" y1="341.5" x2="271.2" y2="341.5" stroke="#4a4a4a" stroke-width="0.4"/>
<line x1="264.6" y1="341.5" x2="264.6" y2="353.6" stroke="#4a4a4a" stroke-width="0.4"/>
<line x1="263.8" y1="345.8" x2="272" y2="345.8" stroke="#4a4a4a" stroke-width="0.35"/>
<text x="280" y="340.9" font-size="6.2" fill="#e3333d" text-anchor="middle">A</text>
<text x="280" y="385.2" font-size="6.2" fill="#e3333d" text-anchor="middle">A</text>
<line x1="283" y1="339.2" x2="286.5" y2="339.2" stroke="#555" stroke-width="0.45"/>
<line x1="283" y1="382.7" x2="286.5" y2="382.7" stroke="#555" stroke-width="0.45"/>
<line x1="286.5" y1="337" x2="286.5" y2="384.6" stroke="#555" stroke-width="0.45" stroke-dasharray="12 1.5 2 1.5"/>
<text x="300.4" y="337.5" font-size="6.3" fill="#2b2829" text-anchor="middle">50</text>
<line x1="293.8" y1="339.1" x2="306.8" y2="339.1" stroke="#4a4a4a" stroke-width="0.4"/>
<polygon points="293.8,339.1 295.6,338.55 295.6,339.65" fill="#4a4a4a"/>
<polygon points="306.8,339.1 305,338.55 305,339.65" fill="#4a4a4a"/>
<line x1="293.8" y1="338.2" x2="293.8" y2="350" stroke="#4a4a4a" stroke-width="0.4"/>
<line x1="306.8" y1="338.2" x2="306.8" y2="350" stroke="#4a4a4a" stroke-width="0.4"/>
<text x="315.6" y="323" font-size="6.6" fill="#2b2829" textLength="15.04" lengthAdjust="spacingAndGlyphs">4-M6</text>
<path d="M330.84 318.38h2.3M331.99 318.38v1.1" fill="none" stroke="#2b2829" stroke-width="0.45"/>
<polygon points="330.84,319.28 333.14,319.28 331.99,321.48" fill="#2b2829"/>
<text x="333.44" y="323" font-size="6.6" fill="#2b2829" textLength="7.34" lengthAdjust="spacingAndGlyphs">15</text>
<text x="315.6" y="329.7" font-size="6.2" fill="#2b2829" font-weight="bold">對面相同位置兩孔</text>
<text x="315.6" y="335.2" font-size="5.2" fill="#9a9a9a" textLength="107.4" lengthAdjust="spacingAndGlyphs">2 holes on the same position at opposite side.</text>
<line x1="314.4" y1="336.6" x2="423" y2="336.6" stroke="#8a8a8a" stroke-width="0.45"/>
<line x1="314.4" y1="336.6" x2="305.8" y2="349.2" stroke="#4a4a4a" stroke-width="0.4"/>
<g transform="translate(-1.2 360.6)">
<defs><linearGradient id="sr351" x1="0" x2="0" y1="0" y2="1"><stop offset="0" stop-color="#f0f0f1"/><stop offset="0.35" stop-color="#dededf"/><stop offset="0.6" stop-color="#ececed"/><stop offset="1" stop-color="#dadadb"/></linearGradient></defs>
<rect x="248.5" y="351" width="202.1" height="24.9" fill="url(#sr351)" stroke="#2d2d2d" stroke-width="0.7"/>
<line x1="248.5" y1="354.5" x2="414.6" y2="354.5" stroke="#777" stroke-width="0.5"/>
<line x1="248.5" y1="357" x2="414.6" y2="357" stroke="#999" stroke-width="0.4"/>
<line x1="248.5" y1="358.9" x2="414.6" y2="358.9" stroke="#333" stroke-width="0.9"/>
<line x1="248.5" y1="362.5" x2="414.6" y2="362.5" stroke="#aaa" stroke-width="0.4"/>
<line x1="248.5" y1="367.2" x2="414.6" y2="367.2" stroke="#777" stroke-width="0.45"/>
<line x1="248.5" y1="369.8" x2="414.6" y2="369.8" stroke="#777" stroke-width="0.45"/>
<line x1="248.5" y1="372.4" x2="414.6" y2="372.4" stroke="#999" stroke-width="0.4"/>
<rect x="415" y="351" width="35.6" height="24.9" fill="#e9e9ea" stroke="#2d2d2d" stroke-width="0.7"/>
<rect x="415.2" y="349.8" width="3" height="1.2" fill="#ddd" stroke="#444" stroke-width="0.4"/>
<path d="M415 354.6h3a2.1 2.1 0 0 1 0 4.2h-3" fill="#fff" stroke="#2d2d2d" stroke-width="0.55"/>
<path d="M415 368h3a2.1 2.1 0 0 1 0 4.2h-3" fill="#fff" stroke="#2d2d2d" stroke-width="0.55"/>
<rect x="226.6" y="326.1" width="21" height="49.6" fill="#e5e6e7" stroke="#2d2d2d" stroke-width="0.8"/>
<rect x="222.6" y="351.4" width="4" height="24.3" fill="#e5e6e7" stroke="#2d2d2d" stroke-width="0.7"/>
<circle cx="232.6" cy="329.5" r="1.1" fill="#999" stroke="#222" stroke-width="0.5"/>
<circle cx="240.2" cy="329.5" r="1.1" fill="#999" stroke="#222" stroke-width="0.5"/>
<circle cx="236.4" cy="372.6" r="1.1" fill="#999" stroke="#222" stroke-width="0.5"/>
<rect x="247.6" y="346.2" width="3.6" height="5" fill="#d5d5d6" stroke="#555" stroke-width="0.4"/>
<line x1="215.9" y1="326.1" x2="215.9" y2="375.7" stroke="#4a4a4a" stroke-width="0.4"/>
<polygon points="215.9,326.1 215.35,328.3 216.45,328.3" fill="#4a4a4a"/>
<polygon points="215.9,375.7 215.35,373.5 216.45,373.5" fill="#4a4a4a"/>
<line x1="215" y1="326.1" x2="226.6" y2="326.1" stroke="#4a4a4a" stroke-width="0.4"/>
<line x1="215" y1="375.7" x2="222.6" y2="375.7" stroke="#4a4a4a" stroke-width="0.4"/>
<text x="214.87" y="350.4" font-size="6.3" fill="#2b2829" text-anchor="middle" transform="rotate(-90 214.87 350.4)">216.5</text>
<rect x="271.8" y="345.8" width="56.6" height="5.4" fill="#e0e0e1" stroke="#2d2d2d" stroke-width="0.6" rx="1"/>
<path d="M292.6 347.6h16.6v3.9l-2 3.6h-12.6l-2-3.6z" fill="#f3f3f3" stroke="#444" stroke-width="0.45"/>
<circle cx="295.4" cy="349.3" r="0.7" fill="#555" stroke="#2d2d2d" stroke-width="0.3"/>
<circle cx="306.2" cy="349.3" r="0.7" fill="#555" stroke="#2d2d2d" stroke-width="0.3"/>
<circle cx="300.8" cy="349.4" r="0.4" fill="#444"/>
<path d="M296 355.2l1.6 2.4M305.6 355.2l-1.6 2.4" fill="none" stroke="#333" stroke-width="0.5"/>
<line x1="297.6" y1="357.4" x2="297.6" y2="366.6" stroke="#1f1f1f" stroke-width="0.9"/>
<line x1="296.2" y1="358.6" x2="299" y2="358.6" stroke="#1f1f1f" stroke-width="0.6"/>
<line x1="303.2" y1="357.4" x2="303.2" y2="366.6" stroke="#1f1f1f" stroke-width="0.9"/>
<line x1="301.8" y1="358.6" x2="304.6" y2="358.6" stroke="#1f1f1f" stroke-width="0.6"/>
<line x1="370.4" y1="356.8" x2="370.4" y2="367" stroke="#1f1f1f" stroke-width="0.9"/>
<line x1="368.8" y1="360.2" x2="372" y2="360.2" stroke="#1f1f1f" stroke-width="0.6"/>
<text x="267.4" y="340.2" font-size="6.3" fill="#2b2829" text-anchor="middle">14</text>
<line x1="264.6" y1="341.5" x2="271.2" y2="341.5" stroke="#4a4a4a" stroke-width="0.4"/>
<line x1="264.6" y1="341.5" x2="264.6" y2="353.6" stroke="#4a4a4a" stroke-width="0.4"/>
<line x1="263.8" y1="345.8" x2="272" y2="345.8" stroke="#4a4a4a" stroke-width="0.35"/>
<text x="280" y="342.6" font-size="6.2" fill="#e3333d" text-anchor="middle">A</text>
<text x="280" y="385.2" font-size="6.2" fill="#e3333d" text-anchor="middle">A</text>
<line x1="283" y1="340.9" x2="286.5" y2="340.9" stroke="#555" stroke-width="0.45"/>
<line x1="283" y1="382.7" x2="286.5" y2="382.7" stroke="#555" stroke-width="0.45"/>
<line x1="286.5" y1="337" x2="286.5" y2="384.6" stroke="#555" stroke-width="0.45" stroke-dasharray="12 1.5 2 1.5"/>
<text x="300.4" y="338.5" font-size="6.3" fill="#2b2829" text-anchor="middle">50</text>
<line x1="293.8" y1="340.1" x2="306.8" y2="340.1" stroke="#4a4a4a" stroke-width="0.4"/>
<polygon points="293.8,340.1 295.6,339.55 295.6,340.65" fill="#4a4a4a"/>
<polygon points="306.8,340.1 305,339.55 305,340.65" fill="#4a4a4a"/>
<line x1="293.8" y1="338.2" x2="293.8" y2="350" stroke="#4a4a4a" stroke-width="0.4"/>
<line x1="306.8" y1="338.2" x2="306.8" y2="350" stroke="#4a4a4a" stroke-width="0.4"/>
<text x="315.6" y="324.8" font-size="6.6" fill="#2b2829" textLength="15.04" lengthAdjust="spacingAndGlyphs">4-M6</text>
<path d="M330.84 320.18h2.3M331.99 320.18v1.1" fill="none" stroke="#2b2829" stroke-width="0.45"/>
<polygon points="330.84,321.08 333.14,321.08 331.99,323.28" fill="#2b2829"/>
<text x="333.44" y="324.8" font-size="6.6" fill="#2b2829" textLength="7.34" lengthAdjust="spacingAndGlyphs">15</text>
<text x="315.6" y="331.5" font-size="6.2" fill="#2b2829" font-weight="bold">對面相同位置兩孔</text>
<text x="315.6" y="336.28" font-size="5.2" fill="#9a9a9a" textLength="107.4" lengthAdjust="spacingAndGlyphs">2 holes on the same position at opposite side.</text>
<line x1="314.4" y1="337.68" x2="423" y2="337.68" stroke="#8a8a8a" stroke-width="0.45"/>
<line x1="314.4" y1="337.68" x2="305.8" y2="349.2" stroke="#4a4a4a" stroke-width="0.4"/>
</g>
<rect x="172.4" y="328.2" width="25.6" height="16.8" fill="#ededee" stroke="#2d2d2d" stroke-width="0.7"/>
<rect x="192.4" y="328.2" width="5.6" height="16.8" fill="#e0e0e1" stroke="#2d2d2d" stroke-width="0.5"/>
<rect x="186" y="331.6" width="4.6" height="5.2" fill="#c9c9ca" stroke="#555" stroke-width="0.4"/>
<rect x="193.2" y="330" width="3.6" height="4" fill="#f5f5f5" stroke="#444" stroke-width="0.4"/>
<rect x="193.2" y="338.6" width="3.6" height="5" fill="#f5f5f5" stroke="#444" stroke-width="0.4"/>
<rect x="143.6" y="326.7" width="28.8" height="20.7" fill="#e5e6e7" stroke="#2d2d2d" stroke-width="0.75"/>
<line x1="156.6" y1="326.7" x2="156.6" y2="347.4" stroke="#555" stroke-width="0.5"/>
<line x1="163.6" y1="326.7" x2="163.6" y2="347.4" stroke="#555" stroke-width="0.5"/>
<line x1="166.8" y1="326.7" x2="166.8" y2="347.4" stroke="#888" stroke-width="0.4"/>
<line x1="147.2" y1="330.4" x2="166.4" y2="330.4" stroke="#555" stroke-width="0.6"/>
<line x1="147.2" y1="342.9" x2="166.4" y2="342.9" stroke="#555" stroke-width="0.6"/>
<line x1="172.4" y1="330.5" x2="192.4" y2="330.5" stroke="#aaa" stroke-width="0.4"/>
<line x1="172.4" y1="343.3" x2="192.4" y2="343.3" stroke="#aaa" stroke-width="0.4"/>
<rect x="146.4" y="328.4" width="9" height="17.2" fill="#f0f0f1" stroke="#777" stroke-width="0.4"/>
<line x1="141" y1="336.8" x2="199.6" y2="336.8" stroke="#666" stroke-width="0.45" stroke-dasharray="8 1.5 1.5 1.5"/>
<rect x="129.2" y="325.5" width="14.4" height="49.8" fill="#ebebec" stroke="#2d2d2d" stroke-width="0.85" rx="1.2"/>
<line x1="140.6" y1="326.4" x2="140.6" y2="374.6" stroke="#888" stroke-width="0.4"/>
<rect x="127.9" y="327.2" width="1.3" height="3" fill="#555"/>
<rect x="127.9" y="370.4" width="1.3" height="3" fill="#555"/>
<rect x="144" y="348" width="26" height="28" fill="#eeeeef" stroke="#1f1f1f" stroke-width="1" rx="0.8"/>
<rect x="147" y="347.8" width="17.6" height="2.2" fill="#2b2b2b"/>
<text x="155.8" y="349.7" font-size="2.2" fill="#fff" font-weight="bold" text-anchor="middle" font-style="italic">TOYO</text>
<line x1="157" y1="350" x2="157" y2="376" stroke="#333" stroke-width="0.6"/>
<rect x="145.4" y="351.4" width="23.2" height="21.6" fill="none" stroke="#777" stroke-width="0.4"/>
<circle cx="148" cy="372.2" r="1" fill="#555" stroke="#2d2d2d" stroke-width="0.3"/>
<circle cx="164.4" cy="372.2" r="1" fill="#555" stroke="#2d2d2d" stroke-width="0.3"/>
<circle cx="146" cy="351.2" r="0.7" fill="#333"/>
<circle cx="168" cy="351.2" r="0.7" fill="#333"/>
<path d="M170 354.6h3v8.8M170 358.6h2.2M173 363.4q-2.4.4-2.2 2.2M172 366.4h4.2" fill="none" stroke="#1f1f1f" stroke-width="0.8"/>
<rect x="170.4" y="355.4" width="2.2" height="6.4" fill="#d8d8d9" stroke="#333" stroke-width="0.4"/>
<rect x="465.7" y="328.2" width="25.6" height="16.8" fill="#ededee" stroke="#2d2d2d" stroke-width="0.7"/>
<rect x="465.7" y="328.2" width="5.4" height="16.8" fill="#e0e0e1" stroke="#2d2d2d" stroke-width="0.5"/>
<rect x="466.6" y="330" width="3.4" height="4" fill="#f5f5f5" stroke="#444" stroke-width="0.4"/>
<rect x="466.6" y="338.6" width="3.4" height="5" fill="#f5f5f5" stroke="#444" stroke-width="0.4"/>
<line x1="471" y1="330.6" x2="491" y2="330.6" stroke="#aaa" stroke-width="0.4"/>
<line x1="471" y1="342.8" x2="491" y2="342.8" stroke="#aaa" stroke-width="0.4"/>
<rect x="491.2" y="326.6" width="27.8" height="20.4" fill="#e5e6e7" stroke="#2d2d2d" stroke-width="0.75"/>
<line x1="497" y1="326.6" x2="497" y2="347" stroke="#555" stroke-width="0.5"/>
<line x1="505.6" y1="326.6" x2="505.6" y2="347" stroke="#555" stroke-width="0.5"/>
<line x1="512.4" y1="326.6" x2="512.4" y2="347" stroke="#888" stroke-width="0.4"/>
<rect x="506.8" y="328.4" width="9" height="16.8" fill="#f0f0f1" stroke="#777" stroke-width="0.4"/>
<line x1="497" y1="329.3" x2="516.6" y2="329.3" stroke="#555" stroke-width="0.6"/>
<line x1="497" y1="344" x2="516.6" y2="344" stroke="#555" stroke-width="0.6"/>
<line x1="464" y1="336.8" x2="521" y2="336.8" stroke="#666" stroke-width="0.45" stroke-dasharray="8 1.5 1.5 1.5"/>
<rect x="519" y="325.8" width="14.6" height="49.4" fill="#ebebec" stroke="#2d2d2d" stroke-width="0.85" rx="1.2"/>
<line x1="522" y1="326.6" x2="522" y2="374.4" stroke="#888" stroke-width="0.4"/>
<rect x="533.6" y="327.4" width="1.3" height="3" fill="#555"/>
<rect x="533.6" y="370.4" width="1.3" height="3" fill="#555"/>
<rect x="494" y="347.2" width="25" height="28.6" fill="#eeeeef" stroke="#1f1f1f" stroke-width="1" rx="0.8"/>
<rect x="499" y="347" width="17.6" height="2.2" fill="#2b2b2b"/>
<text x="507.8" y="348.9" font-size="2.2" fill="#fff" font-weight="bold" text-anchor="middle" font-style="italic">TOYO</text>
<line x1="507" y1="349.2" x2="507" y2="375.8" stroke="#333" stroke-width="0.6"/>
<rect x="495.4" y="350.6" width="22.2" height="22.4" fill="none" stroke="#777" stroke-width="0.4"/>
<circle cx="499" cy="362.4" r="0.95" fill="#555" stroke="#2d2d2d" stroke-width="0.3"/>
<circle cx="515.4" cy="362.4" r="0.95" fill="#555" stroke="#2d2d2d" stroke-width="0.3"/>
<circle cx="499" cy="371.6" r="0.95" fill="#555" stroke="#2d2d2d" stroke-width="0.3"/>
<circle cx="515.4" cy="371.6" r="0.95" fill="#555" stroke="#2d2d2d" stroke-width="0.3"/>
<circle cx="496" cy="350.6" r="0.7" fill="#333"/>
<circle cx="517.6" cy="350.6" r="0.7" fill="#333"/>
<path d="M494 354.6h-3v8.8M494 358.6h-2.2M491 363.4q2.4.4 2.2 2.2M492 366.4h-4.2" fill="none" stroke="#1f1f1f" stroke-width="0.8"/>
<rect x="491.4" y="355.4" width="2.2" height="6.4" fill="#d8d8d9" stroke="#333" stroke-width="0.4"/>
<line x1="507" y1="379" x2="499.4" y2="363.4" stroke="#333" stroke-width="0.45"/>
<line x1="507" y1="379" x2="515" y2="363.4" stroke="#333" stroke-width="0.45"/>
<text x="481" y="387" font-size="6.5" fill="#2b2829" font-weight="bold">皮帶張力調整螺絲</text>
<text x="507" y="393.6" font-size="5.4" fill="#9a9a9a" text-anchor="middle" textLength="66.6" lengthAdjust="spacingAndGlyphs">Belt tension adjusting screw.</text>
<g transform="translate(329.3 360.8) scale(-1 1)">
<rect x="172.4" y="328.2" width="25.6" height="16.8" fill="#ededee" stroke="#2d2d2d" stroke-width="0.7"/>
<rect x="192.4" y="328.2" width="5.6" height="16.8" fill="#e0e0e1" stroke="#2d2d2d" stroke-width="0.5"/>
<rect x="186" y="331.6" width="4.6" height="5.2" fill="#c9c9ca" stroke="#555" stroke-width="0.4"/>
<rect x="193.2" y="330" width="3.6" height="4" fill="#f5f5f5" stroke="#444" stroke-width="0.4"/>
<rect x="193.2" y="338.6" width="3.6" height="5" fill="#f5f5f5" stroke="#444" stroke-width="0.4"/>
<rect x="143.6" y="326.7" width="28.8" height="20.7" fill="#e5e6e7" stroke="#2d2d2d" stroke-width="0.75"/>
<line x1="156.6" y1="326.7" x2="156.6" y2="347.4" stroke="#555" stroke-width="0.5"/>
<line x1="163.6" y1="326.7" x2="163.6" y2="347.4" stroke="#555" stroke-width="0.5"/>
<line x1="166.8" y1="326.7" x2="166.8" y2="347.4" stroke="#888" stroke-width="0.4"/>
<line x1="147.2" y1="330.4" x2="166.4" y2="330.4" stroke="#555" stroke-width="0.6"/>
<line x1="147.2" y1="342.9" x2="166.4" y2="342.9" stroke="#555" stroke-width="0.6"/>
<line x1="172.4" y1="330.5" x2="192.4" y2="330.5" stroke="#aaa" stroke-width="0.4"/>
<line x1="172.4" y1="343.3" x2="192.4" y2="343.3" stroke="#aaa" stroke-width="0.4"/>
<rect x="146.4" y="328.4" width="9" height="17.2" fill="#f0f0f1" stroke="#777" stroke-width="0.4"/>
<line x1="141" y1="336.8" x2="199.6" y2="336.8" stroke="#666" stroke-width="0.45" stroke-dasharray="8 1.5 1.5 1.5"/>
<rect x="129.2" y="325.5" width="14.4" height="49.8" fill="#ebebec" stroke="#2d2d2d" stroke-width="0.85" rx="1.2"/>
<line x1="140.6" y1="326.4" x2="140.6" y2="374.6" stroke="#888" stroke-width="0.4"/>
<rect x="127.9" y="327.2" width="1.3" height="3" fill="#555"/>
<rect x="127.9" y="370.4" width="1.3" height="3" fill="#555"/>
<rect x="144" y="348" width="26" height="28" fill="#eeeeef" stroke="#1f1f1f" stroke-width="1" rx="0.8"/>
<rect x="147" y="347.8" width="17.6" height="2.2" fill="#2b2b2b"/>
<text x="155.8" y="349.7" font-size="2.2" fill="#fff" font-weight="bold" text-anchor="middle" font-style="italic">TOYO</text>
<line x1="157" y1="350" x2="157" y2="376" stroke="#333" stroke-width="0.6"/>
<rect x="145.4" y="351.4" width="23.2" height="21.6" fill="none" stroke="#777" stroke-width="0.4"/>
<circle cx="148" cy="372.2" r="1" fill="#555" stroke="#2d2d2d" stroke-width="0.3"/>
<circle cx="164.4" cy="372.2" r="1" fill="#555" stroke="#2d2d2d" stroke-width="0.3"/>
<circle cx="146" cy="351.2" r="0.7" fill="#333"/>
<circle cx="168" cy="351.2" r="0.7" fill="#333"/>
</g>
<g transform="translate(996.4 361) scale(-1 1)">
<rect x="465.7" y="328.2" width="25.6" height="16.8" fill="#ededee" stroke="#2d2d2d" stroke-width="0.7"/>
<rect x="465.7" y="328.2" width="5.4" height="16.8" fill="#e0e0e1" stroke="#2d2d2d" stroke-width="0.5"/>
<rect x="466.6" y="330" width="3.4" height="4" fill="#f5f5f5" stroke="#444" stroke-width="0.4"/>
<rect x="466.6" y="338.6" width="3.4" height="5" fill="#f5f5f5" stroke="#444" stroke-width="0.4"/>
<line x1="471" y1="330.6" x2="491" y2="330.6" stroke="#aaa" stroke-width="0.4"/>
<line x1="471" y1="342.8" x2="491" y2="342.8" stroke="#aaa" stroke-width="0.4"/>
<rect x="491.2" y="326.6" width="27.8" height="20.4" fill="#e5e6e7" stroke="#2d2d2d" stroke-width="0.75"/>
<line x1="497" y1="326.6" x2="497" y2="347" stroke="#555" stroke-width="0.5"/>
<line x1="505.6" y1="326.6" x2="505.6" y2="347" stroke="#555" stroke-width="0.5"/>
<line x1="512.4" y1="326.6" x2="512.4" y2="347" stroke="#888" stroke-width="0.4"/>
<rect x="506.8" y="328.4" width="9" height="16.8" fill="#f0f0f1" stroke="#777" stroke-width="0.4"/>
<line x1="497" y1="329.3" x2="516.6" y2="329.3" stroke="#555" stroke-width="0.6"/>
<line x1="497" y1="344" x2="516.6" y2="344" stroke="#555" stroke-width="0.6"/>
<line x1="464" y1="336.8" x2="521" y2="336.8" stroke="#666" stroke-width="0.45" stroke-dasharray="8 1.5 1.5 1.5"/>
<rect x="519" y="325.8" width="14.6" height="49.4" fill="#ebebec" stroke="#2d2d2d" stroke-width="0.85" rx="1.2"/>
<line x1="522" y1="326.6" x2="522" y2="374.4" stroke="#888" stroke-width="0.4"/>
<rect x="533.6" y="327.4" width="1.3" height="3" fill="#555"/>
<rect x="533.6" y="370.4" width="1.3" height="3" fill="#555"/>
<rect x="494" y="347.2" width="25" height="28.6" fill="#eeeeef" stroke="#1f1f1f" stroke-width="1" rx="0.8"/>
<rect x="499" y="347" width="17.6" height="2.2" fill="#2b2b2b"/>
<text x="507.8" y="348.9" font-size="2.2" fill="#fff" font-weight="bold" text-anchor="middle" font-style="italic">TOYO</text>
<line x1="507" y1="349.2" x2="507" y2="375.8" stroke="#333" stroke-width="0.6"/>
<rect x="495.4" y="350.6" width="22.2" height="22.4" fill="none" stroke="#777" stroke-width="0.4"/>
<circle cx="499" cy="362.4" r="0.95" fill="#555" stroke="#2d2d2d" stroke-width="0.3"/>
<circle cx="515.4" cy="362.4" r="0.95" fill="#555" stroke="#2d2d2d" stroke-width="0.3"/>
<circle cx="499" cy="371.6" r="0.95" fill="#555" stroke="#2d2d2d" stroke-width="0.3"/>
<circle cx="515.4" cy="371.6" r="0.95" fill="#555" stroke="#2d2d2d" stroke-width="0.3"/>
<circle cx="496" cy="350.6" r="0.7" fill="#333"/>
<circle cx="517.6" cy="350.6" r="0.7" fill="#333"/>
<line x1="507" y1="379" x2="499.4" y2="363.4" stroke="#333" stroke-width="0.45"/>
<line x1="507" y1="379" x2="515" y2="363.4" stroke="#333" stroke-width="0.45"/>
</g>
<path d="M477.4 715.6h-3v8.8M477.4 719.6h-2.2M474.4 724.4q2.4.4 2.2 2.2M475.4 727.4h-4.2" fill="none" stroke="#1f1f1f" stroke-width="0.8"/>
<rect x="474.8" y="716.4" width="2.2" height="6.4" fill="#d8d8d9" stroke="#333" stroke-width="0.4"/>
<text x="463.6" y="747.4" font-size="6.5" fill="#2b2829" font-weight="bold">皮帶張力調整螺絲</text>
<text x="489.6" y="754" font-size="5.4" fill="#9a9a9a" text-anchor="middle" textLength="66.6" lengthAdjust="spacingAndGlyphs">Belt tension adjusting screw.</text></svg></body></html>
